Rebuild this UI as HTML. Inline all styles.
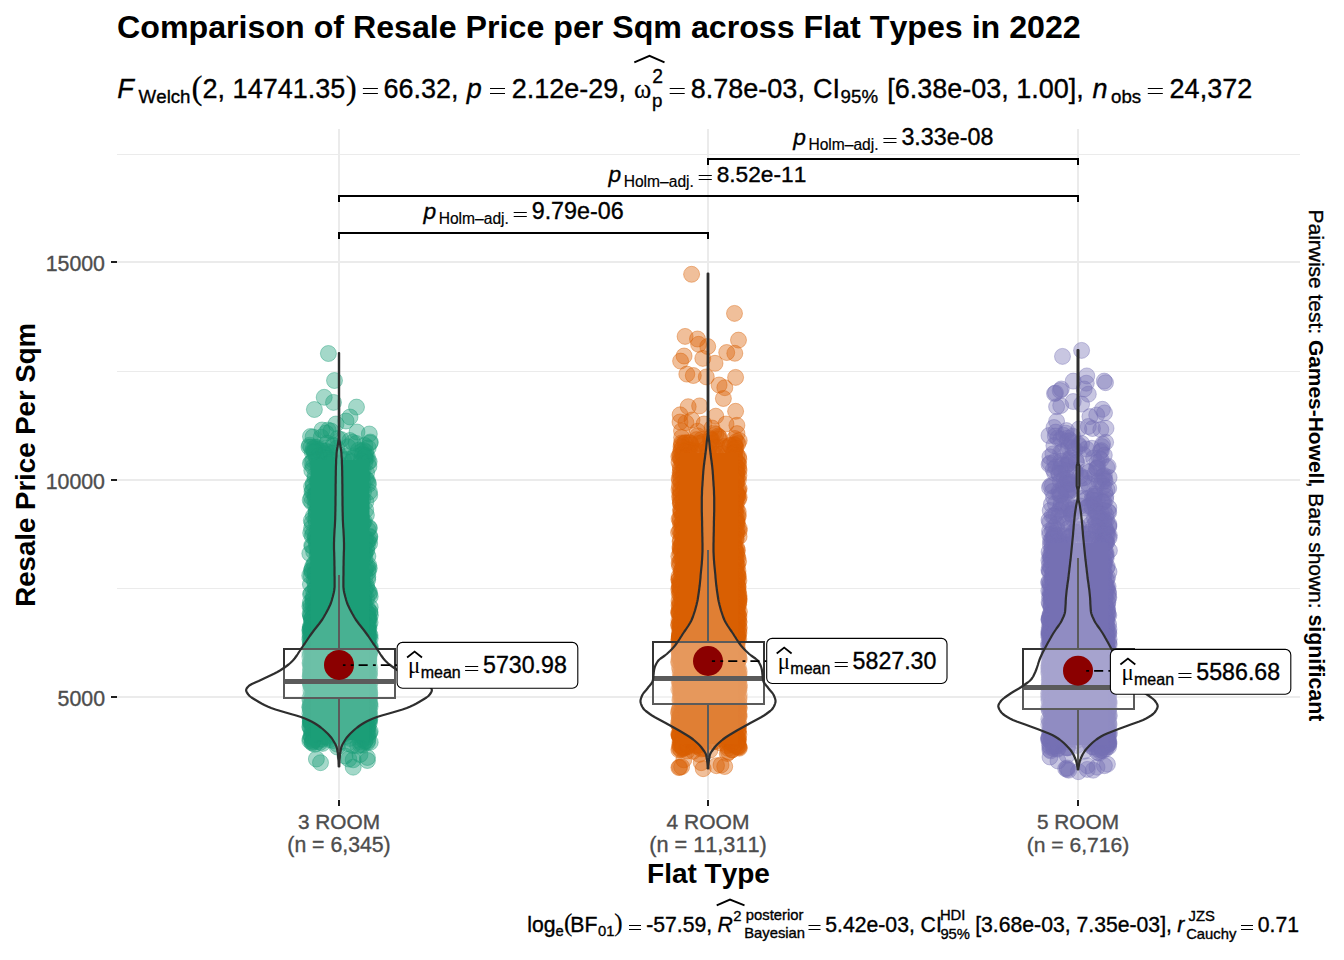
<!DOCTYPE html>
<html><head><meta charset="utf-8"><title>Comparison of Resale Price per Sqm across Flat Types in 2022</title>
<style>html,body{margin:0;padding:0;background:#fff}svg{display:block}text{font-family:"Liberation Sans", sans-serif;stroke:#000;stroke-width:.35px;font-kerning:none} .se{font-family:"Liberation Serif", serif;stroke-width:.2px} .b{stroke:none} .gy text{stroke:#4D4D4D}</style></head><body>
<svg width="1344" height="960" viewBox="0 0 1344 960">
<rect width="1344" height="960" fill="#fff"/>
<g fill="#EBEBEB" shape-rendering="crispEdges">
<rect x="117" y="154" width="1183" height="1"/>
<rect x="117" y="371" width="1183" height="1"/>
<rect x="117" y="588" width="1183" height="1"/>
<rect x="117" y="261" width="1183" height="2"/>
<rect x="117" y="479" width="1183" height="2"/>
<rect x="117" y="696" width="1183" height="2"/>
<rect x="338" y="129" width="2" height="670"/>
<rect x="707" y="129" width="2" height="670"/>
<rect x="1077" y="129" width="2" height="670"/>
</g>
<g fill="#1f1f1f" shape-rendering="crispEdges">
<rect x="111" y="261" width="6" height="2"/>
<rect x="111" y="479" width="6" height="2"/>
<rect x="111" y="696" width="6" height="2"/>
<rect x="338" y="800" width="2" height="6"/>
<rect x="707" y="800" width="2" height="6"/>
<rect x="1077" y="800" width="2" height="6"/>
</g>
<g fill="#1B9E77" fill-opacity=".4" stroke="#1B9E77" stroke-opacity=".4" stroke-width="1">
<circle cx="328" cy="430.1" r="8"/><circle cx="369.3" cy="434" r="8"/><circle cx="310.5" cy="436.5" r="8"/><circle cx="321.2" cy="437.2" r="8"/><circle cx="337.8" cy="438.4" r="8"/><circle cx="341.2" cy="439.6" r="8"/><circle cx="349.9" cy="440.5" r="8"/><circle cx="370.3" cy="442" r="8"/><circle cx="352.6" cy="442.3" r="8"/><circle cx="327.2" cy="443.1" r="8"/><circle cx="356.2" cy="443.4" r="8"/><circle cx="333.1" cy="445" r="8"/><circle cx="309.6" cy="445.2" r="8"/><circle cx="364.9" cy="445.5" r="8"/><circle cx="333.8" cy="446.1" r="8"/><circle cx="347.9" cy="446.8" r="8"/><circle cx="314.9" cy="447.3" r="8"/><circle cx="368.2" cy="447.8" r="8"/><circle cx="316.8" cy="447.2" r="8"/><circle cx="313.2" cy="448.8" r="8"/><circle cx="320.4" cy="448.6" r="8"/><circle cx="336.8" cy="448.2" r="8"/><circle cx="317.6" cy="449.6" r="8"/><circle cx="316.7" cy="449.4" r="8"/><circle cx="326" cy="451" r="8"/><circle cx="358.4" cy="450.3" r="8"/><circle cx="363.4" cy="450.2" r="8"/><circle cx="361.5" cy="451.6" r="8"/><circle cx="315.7" cy="452" r="8"/><circle cx="322.6" cy="451.3" r="8"/><circle cx="329.6" cy="452.3" r="8"/><circle cx="314.1" cy="452.1" r="8"/><circle cx="324.4" cy="453.6" r="8"/><circle cx="332.2" cy="453.5" r="8"/><circle cx="339" cy="454.6" r="8"/><circle cx="362.3" cy="454.2" r="8"/><circle cx="364.8" cy="455.8" r="8"/><circle cx="324.8" cy="455.2" r="8"/><circle cx="354.6" cy="455.9" r="8"/><circle cx="367.4" cy="456.9" r="8"/><circle cx="346.3" cy="456.4" r="8"/><circle cx="315.9" cy="456" r="8"/><circle cx="324.1" cy="457.7" r="8"/><circle cx="325.2" cy="457.8" r="8"/><circle cx="327.4" cy="458.2" r="8"/><circle cx="353.4" cy="458.1" r="8"/><circle cx="343.6" cy="459.9" r="8"/><circle cx="346.9" cy="459.3" r="8"/><circle cx="365.4" cy="459.2" r="8"/><circle cx="326" cy="460.4" r="8"/><circle cx="313.3" cy="460.2" r="8"/><circle cx="332" cy="460.6" r="8"/><circle cx="331.6" cy="461.9" r="8"/><circle cx="369.2" cy="461.7" r="8"/><circle cx="351.6" cy="461.6" r="8"/><circle cx="311.7" cy="462" r="8"/><circle cx="364.9" cy="462.7" r="8"/><circle cx="368.1" cy="462" r="8"/><circle cx="338.9" cy="463.7" r="8"/><circle cx="329" cy="464" r="8"/><circle cx="342.8" cy="730.7" r="8"/><circle cx="364.3" cy="730.7" r="8"/><circle cx="352.4" cy="730.8" r="8"/><circle cx="331" cy="731.7" r="8"/><circle cx="364.4" cy="731.9" r="8"/><circle cx="357.7" cy="732.9" r="8"/><circle cx="344.4" cy="732.6" r="8"/><circle cx="345" cy="733.6" r="8"/><circle cx="314.5" cy="733.6" r="8"/><circle cx="363.1" cy="734.7" r="8"/><circle cx="333.2" cy="734.7" r="8"/><circle cx="336.4" cy="735.8" r="8"/><circle cx="314.7" cy="735.8" r="8"/><circle cx="346.2" cy="736.5" r="8"/><circle cx="323.6" cy="736.7" r="8"/><circle cx="339.8" cy="736.6" r="8"/><circle cx="325.2" cy="737" r="8"/><circle cx="327.9" cy="737.7" r="8"/><circle cx="319.9" cy="738.9" r="8"/><circle cx="349.7" cy="738.4" r="8"/><circle cx="329.5" cy="739.7" r="8"/><circle cx="321.7" cy="739.4" r="8"/><circle cx="365.2" cy="740.9" r="8"/><circle cx="333" cy="740.6" r="8"/><circle cx="317.9" cy="741.5" r="8"/><circle cx="360.5" cy="741.8" r="8"/><circle cx="367.4" cy="742.3" r="8"/><circle cx="319.9" cy="742.5" r="8"/><circle cx="322.6" cy="743.4" r="8"/><circle cx="347.6" cy="743.5" r="8"/><circle cx="360.6" cy="745" r="8"/><circle cx="337.1" cy="744.1" r="8"/><circle cx="362.7" cy="745" r="8"/><circle cx="352.7" cy="745.6" r="8"/><circle cx="357.7" cy="746" r="8"/><circle cx="337.3" cy="747" r="8"/><circle cx="311" cy="447" r="8"/><circle cx="314.4" cy="451.2" r="8"/><circle cx="365.7" cy="451.7" r="8"/><circle cx="312.3" cy="452.3" r="8"/><circle cx="362.5" cy="454.9" r="8"/><circle cx="318.9" cy="455.7" r="8"/><circle cx="365.9" cy="455.6" r="8"/><circle cx="364.7" cy="456.9" r="8"/><circle cx="316.8" cy="459.8" r="8"/><circle cx="361.4" cy="461" r="8"/><circle cx="361.3" cy="462.9" r="8"/><circle cx="310.4" cy="463.4" r="8"/><circle cx="317.7" cy="465.1" r="8"/><circle cx="313" cy="466.8" r="8"/><circle cx="368.9" cy="466.5" r="8"/><circle cx="311.8" cy="470.5" r="8"/><circle cx="363.1" cy="470.6" r="8"/><circle cx="366.6" cy="472.8" r="8"/><circle cx="361.9" cy="474" r="8"/><circle cx="315" cy="475.5" r="8"/><circle cx="319.3" cy="476.5" r="8"/><circle cx="362.4" cy="476.6" r="8"/><circle cx="315" cy="478.4" r="8"/><circle cx="365.7" cy="479.1" r="8"/><circle cx="317.8" cy="480.9" r="8"/><circle cx="367.2" cy="480.2" r="8"/><circle cx="317.4" cy="482" r="8"/><circle cx="368.1" cy="482.7" r="8"/><circle cx="313.2" cy="483.6" r="8"/><circle cx="363.1" cy="483.1" r="8"/><circle cx="368.4" cy="484.5" r="8"/><circle cx="313.4" cy="485.4" r="8"/><circle cx="311.6" cy="486.6" r="8"/><circle cx="317" cy="489.8" r="8"/><circle cx="312.7" cy="490.9" r="8"/><circle cx="360.4" cy="490.9" r="8"/><circle cx="312" cy="491.7" r="8"/><circle cx="369.4" cy="491.8" r="8"/><circle cx="317.5" cy="492.1" r="8"/><circle cx="363.5" cy="492" r="8"/><circle cx="316.4" cy="493.9" r="8"/><circle cx="314.7" cy="494.8" r="8"/><circle cx="369.7" cy="495.1" r="8"/><circle cx="315.1" cy="496.5" r="8"/><circle cx="311.4" cy="497.2" r="8"/><circle cx="310.2" cy="500" r="8"/><circle cx="362.8" cy="499.3" r="8"/><circle cx="314.8" cy="500.4" r="8"/><circle cx="316.6" cy="501.8" r="8"/><circle cx="365.9" cy="501.7" r="8"/><circle cx="311.6" cy="502.2" r="8"/><circle cx="318.5" cy="503.8" r="8"/><circle cx="315.6" cy="505.5" r="8"/><circle cx="361.3" cy="506.7" r="8"/><circle cx="318.6" cy="508.9" r="8"/><circle cx="316.8" cy="510.1" r="8"/><circle cx="365.7" cy="510" r="8"/><circle cx="316" cy="511.6" r="8"/><circle cx="361" cy="511.7" r="8"/><circle cx="316.2" cy="512.6" r="8"/><circle cx="319.6" cy="513.6" r="8"/><circle cx="315.8" cy="515.7" r="8"/><circle cx="366.4" cy="515.1" r="8"/><circle cx="313.4" cy="516.1" r="8"/><circle cx="361.3" cy="516.6" r="8"/><circle cx="319.3" cy="517.6" r="8"/><circle cx="315.6" cy="519.8" r="8"/><circle cx="361.1" cy="519.2" r="8"/><circle cx="311.3" cy="520.5" r="8"/><circle cx="319.1" cy="521.4" r="8"/><circle cx="364.4" cy="521.4" r="8"/><circle cx="316.2" cy="522.6" r="8"/><circle cx="363.2" cy="522.3" r="8"/><circle cx="312.1" cy="523" r="8"/><circle cx="362.9" cy="523.4" r="8"/><circle cx="319.5" cy="525.9" r="8"/><circle cx="361.3" cy="525.4" r="8"/><circle cx="319.3" cy="526.2" r="8"/><circle cx="361" cy="526.7" r="8"/><circle cx="319.4" cy="527.8" r="8"/><circle cx="369.2" cy="527.6" r="8"/><circle cx="311.6" cy="528.1" r="8"/><circle cx="369.2" cy="528.4" r="8"/><circle cx="367.8" cy="529.6" r="8"/><circle cx="317.4" cy="530.5" r="8"/><circle cx="310.7" cy="532.9" r="8"/><circle cx="313.2" cy="533.3" r="8"/><circle cx="315.5" cy="534.6" r="8"/><circle cx="312.1" cy="536" r="8"/><circle cx="369.8" cy="536.3" r="8"/><circle cx="315.8" cy="537.1" r="8"/><circle cx="369.7" cy="537.1" r="8"/><circle cx="315.1" cy="538.6" r="8"/><circle cx="365.6" cy="538.2" r="8"/><circle cx="317" cy="539.8" r="8"/><circle cx="369.2" cy="539.8" r="8"/><circle cx="317.3" cy="540.2" r="8"/><circle cx="367.8" cy="540.8" r="8"/><circle cx="316.1" cy="542" r="8"/><circle cx="364.9" cy="541.7" r="8"/><circle cx="366.7" cy="542.1" r="8"/><circle cx="369.6" cy="543.6" r="8"/><circle cx="316.5" cy="544.3" r="8"/><circle cx="311.7" cy="545.7" r="8"/><circle cx="367.4" cy="545.7" r="8"/><circle cx="312.4" cy="546.1" r="8"/><circle cx="363.1" cy="546.4" r="8"/><circle cx="316.7" cy="547.6" r="8"/><circle cx="317.6" cy="549.3" r="8"/><circle cx="366.4" cy="549.9" r="8"/><circle cx="366.8" cy="550.4" r="8"/><circle cx="313.6" cy="551.4" r="8"/><circle cx="364.8" cy="551.8" r="8"/><circle cx="318" cy="552.6" r="8"/><circle cx="362.8" cy="552.9" r="8"/><circle cx="309.8" cy="553.5" r="8"/><circle cx="364.7" cy="554" r="8"/><circle cx="317.6" cy="554.1" r="8"/><circle cx="362.5" cy="554.1" r="8"/><circle cx="317" cy="555.9" r="8"/><circle cx="364.1" cy="555.1" r="8"/><circle cx="367.9" cy="556.2" r="8"/><circle cx="362.8" cy="557.4" r="8"/><circle cx="319.3" cy="558.7" r="8"/><circle cx="365" cy="558.7" r="8"/><circle cx="317.9" cy="560.7" r="8"/><circle cx="314.8" cy="563.7" r="8"/><circle cx="313.8" cy="564.1" r="8"/><circle cx="368.7" cy="565.2" r="8"/><circle cx="312.5" cy="567" r="8"/><circle cx="367.3" cy="566.1" r="8"/><circle cx="317.4" cy="567.2" r="8"/><circle cx="365.8" cy="567.6" r="8"/><circle cx="369.3" cy="568.2" r="8"/><circle cx="312" cy="569.7" r="8"/><circle cx="368.2" cy="569.2" r="8"/><circle cx="311.3" cy="570.8" r="8"/><circle cx="364.9" cy="570.8" r="8"/><circle cx="312.2" cy="571.9" r="8"/><circle cx="315.1" cy="573" r="8"/><circle cx="368.2" cy="572" r="8"/><circle cx="314.9" cy="574.5" r="8"/><circle cx="360.5" cy="574.7" r="8"/><circle cx="309.7" cy="575.5" r="8"/><circle cx="362.4" cy="575.7" r="8"/><circle cx="311.2" cy="576.2" r="8"/><circle cx="367.8" cy="576.9" r="8"/><circle cx="316" cy="578" r="8"/><circle cx="365.1" cy="577.2" r="8"/><circle cx="362.2" cy="578.8" r="8"/><circle cx="367.7" cy="579.7" r="8"/><circle cx="314.4" cy="580.5" r="8"/><circle cx="318.2" cy="581.3" r="8"/><circle cx="318.8" cy="582.1" r="8"/><circle cx="315" cy="583.5" r="8"/><circle cx="362.1" cy="583.3" r="8"/><circle cx="310.4" cy="584.3" r="8"/><circle cx="363.2" cy="584.4" r="8"/><circle cx="366.5" cy="585.5" r="8"/><circle cx="366.6" cy="587.7" r="8"/><circle cx="315.2" cy="588.5" r="8"/><circle cx="360.5" cy="588.8" r="8"/><circle cx="315.8" cy="589.3" r="8"/><circle cx="365" cy="589.3" r="8"/><circle cx="313.5" cy="590.7" r="8"/><circle cx="368.4" cy="590.7" r="8"/><circle cx="319.1" cy="591.6" r="8"/><circle cx="317.9" cy="592.1" r="8"/><circle cx="369.5" cy="592.7" r="8"/><circle cx="311.4" cy="593.4" r="8"/><circle cx="310.5" cy="594.2" r="8"/><circle cx="369.2" cy="594.4" r="8"/><circle cx="318.8" cy="595.4" r="8"/><circle cx="363.9" cy="595.8" r="8"/><circle cx="313.5" cy="596.3" r="8"/><circle cx="370.2" cy="596.4" r="8"/><circle cx="319.4" cy="597.8" r="8"/><circle cx="364.3" cy="597" r="8"/><circle cx="313" cy="598.7" r="8"/><circle cx="366.6" cy="598.5" r="8"/><circle cx="317.9" cy="599.6" r="8"/><circle cx="362.7" cy="599.9" r="8"/><circle cx="313.1" cy="600.5" r="8"/><circle cx="363.3" cy="601" r="8"/><circle cx="316.8" cy="601.8" r="8"/><circle cx="361" cy="601.6" r="8"/><circle cx="310.4" cy="602.2" r="8"/><circle cx="363.4" cy="602.3" r="8"/><circle cx="313.2" cy="603.5" r="8"/><circle cx="360.7" cy="603.1" r="8"/><circle cx="361.4" cy="603.5" r="8"/><circle cx="315.2" cy="604.3" r="8"/><circle cx="360.5" cy="604.8" r="8"/><circle cx="310.8" cy="605.8" r="8"/><circle cx="361.4" cy="605.2" r="8"/><circle cx="364.7" cy="605.8" r="8"/><circle cx="315.1" cy="606.1" r="8"/><circle cx="309.9" cy="606.2" r="8"/><circle cx="361" cy="606.7" r="8"/><circle cx="316.3" cy="607.7" r="8"/><circle cx="313.4" cy="607.6" r="8"/><circle cx="370.2" cy="607.2" r="8"/><circle cx="311" cy="608.4" r="8"/><circle cx="315.3" cy="608.2" r="8"/><circle cx="367.8" cy="608.6" r="8"/><circle cx="316" cy="609" r="8"/><circle cx="316.3" cy="609.1" r="8"/><circle cx="364.4" cy="609.5" r="8"/><circle cx="315.8" cy="610.7" r="8"/><circle cx="317.2" cy="610.8" r="8"/><circle cx="360.5" cy="610.8" r="8"/><circle cx="361.8" cy="610.4" r="8"/><circle cx="315.3" cy="611.9" r="8"/><circle cx="314.9" cy="611.5" r="8"/><circle cx="361.4" cy="611.3" r="8"/><circle cx="369.9" cy="611.7" r="8"/><circle cx="316.9" cy="612.6" r="8"/><circle cx="367.4" cy="612.6" r="8"/><circle cx="369.7" cy="612.1" r="8"/><circle cx="314.6" cy="613.4" r="8"/><circle cx="310.1" cy="613.7" r="8"/><circle cx="368" cy="613.3" r="8"/><circle cx="366.4" cy="613.2" r="8"/><circle cx="318.7" cy="615" r="8"/><circle cx="316.3" cy="614.9" r="8"/><circle cx="362.3" cy="614.2" r="8"/><circle cx="362.9" cy="614.6" r="8"/><circle cx="310.6" cy="615.8" r="8"/><circle cx="310.8" cy="615.5" r="8"/><circle cx="370.4" cy="615.2" r="8"/><circle cx="367.4" cy="615.3" r="8"/><circle cx="318.6" cy="616.8" r="8"/><circle cx="313.6" cy="616.4" r="8"/><circle cx="315.5" cy="616" r="8"/><circle cx="361.4" cy="616.3" r="8"/><circle cx="365.4" cy="616.9" r="8"/><circle cx="360.6" cy="616.5" r="8"/><circle cx="312.6" cy="617.9" r="8"/><circle cx="318.6" cy="617.2" r="8"/><circle cx="366.9" cy="617.5" r="8"/><circle cx="368.7" cy="617.9" r="8"/><circle cx="311.6" cy="618.6" r="8"/><circle cx="311.5" cy="618.9" r="8"/><circle cx="369.3" cy="618.7" r="8"/><circle cx="367.3" cy="618.9" r="8"/><circle cx="361.7" cy="618.7" r="8"/><circle cx="316.6" cy="619.9" r="8"/><circle cx="314.1" cy="619.1" r="8"/><circle cx="311.8" cy="619.3" r="8"/><circle cx="368.4" cy="619.2" r="8"/><circle cx="368" cy="619.7" r="8"/><circle cx="313.3" cy="620.7" r="8"/><circle cx="318.4" cy="620.6" r="8"/><circle cx="367.4" cy="620.9" r="8"/><circle cx="363.7" cy="620.3" r="8"/><circle cx="364" cy="620.1" r="8"/><circle cx="314" cy="621.5" r="8"/><circle cx="314.9" cy="621" r="8"/><circle cx="367.6" cy="621.3" r="8"/><circle cx="362.4" cy="621.1" r="8"/><circle cx="317.2" cy="622.2" r="8"/><circle cx="312.4" cy="622.5" r="8"/><circle cx="311.5" cy="622.9" r="8"/><circle cx="370.1" cy="622.5" r="8"/><circle cx="362.9" cy="622.4" r="8"/><circle cx="314.6" cy="623.2" r="8"/><circle cx="315.2" cy="623.6" r="8"/><circle cx="363.8" cy="623.8" r="8"/><circle cx="365.2" cy="623.5" r="8"/><circle cx="361.9" cy="623.7" r="8"/><circle cx="319.1" cy="624.2" r="8"/><circle cx="317.4" cy="624.2" r="8"/><circle cx="315.7" cy="624.2" r="8"/><circle cx="362.7" cy="624.8" r="8"/><circle cx="362.5" cy="624.2" r="8"/><circle cx="365.5" cy="624.2" r="8"/><circle cx="314.6" cy="625" r="8"/><circle cx="315.6" cy="625.7" r="8"/><circle cx="315.3" cy="625.9" r="8"/><circle cx="368.9" cy="625" r="8"/><circle cx="365.4" cy="625.4" r="8"/><circle cx="366" cy="625.3" r="8"/><circle cx="310.3" cy="626.9" r="8"/><circle cx="315.3" cy="626.5" r="8"/><circle cx="317.5" cy="626.2" r="8"/><circle cx="367.3" cy="626" r="8"/><circle cx="367.3" cy="626.6" r="8"/><circle cx="365.1" cy="626.3" r="8"/><circle cx="310.5" cy="627.8" r="8"/><circle cx="311.3" cy="627.3" r="8"/><circle cx="311.2" cy="627.7" r="8"/><circle cx="362.5" cy="627.1" r="8"/><circle cx="366.3" cy="627.4" r="8"/><circle cx="368.2" cy="628" r="8"/><circle cx="314.5" cy="628.8" r="8"/><circle cx="319.5" cy="628.1" r="8"/><circle cx="314.2" cy="628.7" r="8"/><circle cx="368" cy="628.9" r="8"/><circle cx="369" cy="628.4" r="8"/><circle cx="367.4" cy="628.4" r="8"/><circle cx="309.9" cy="630" r="8"/><circle cx="317.2" cy="629.7" r="8"/><circle cx="311.9" cy="629.3" r="8"/><circle cx="368" cy="629.5" r="8"/><circle cx="361.1" cy="629.4" r="8"/><circle cx="367" cy="630" r="8"/><circle cx="310" cy="630.4" r="8"/><circle cx="316.1" cy="630.1" r="8"/><circle cx="313" cy="630.7" r="8"/><circle cx="364.5" cy="630.9" r="8"/><circle cx="365.8" cy="630.4" r="8"/><circle cx="362" cy="630.4" r="8"/><circle cx="311.8" cy="631.3" r="8"/><circle cx="311.4" cy="631.5" r="8"/><circle cx="311.2" cy="631.2" r="8"/><circle cx="365.7" cy="631.3" r="8"/><circle cx="365.9" cy="632" r="8"/><circle cx="363.6" cy="631.9" r="8"/><circle cx="313.4" cy="632.1" r="8"/><circle cx="316.5" cy="632.4" r="8"/><circle cx="312.3" cy="632" r="8"/><circle cx="367.8" cy="632.4" r="8"/><circle cx="361.2" cy="632.7" r="8"/><circle cx="367.7" cy="632.4" r="8"/><circle cx="319" cy="633.4" r="8"/><circle cx="317.3" cy="633.7" r="8"/><circle cx="318.7" cy="633" r="8"/><circle cx="366.6" cy="633.1" r="8"/><circle cx="361.6" cy="633.3" r="8"/><circle cx="362.7" cy="633.5" r="8"/><circle cx="313.5" cy="634.2" r="8"/><circle cx="310" cy="634.2" r="8"/><circle cx="315.6" cy="634" r="8"/><circle cx="366.2" cy="634.5" r="8"/><circle cx="369" cy="634.7" r="8"/><circle cx="367.8" cy="634.7" r="8"/><circle cx="311.1" cy="635.2" r="8"/><circle cx="312.4" cy="635.7" r="8"/><circle cx="313.7" cy="635.4" r="8"/><circle cx="368.1" cy="635.3" r="8"/><circle cx="367" cy="635.2" r="8"/><circle cx="370" cy="635" r="8"/><circle cx="315.3" cy="636.8" r="8"/><circle cx="319.4" cy="636.3" r="8"/><circle cx="316.3" cy="636.9" r="8"/><circle cx="363.5" cy="636.7" r="8"/><circle cx="360.8" cy="636.9" r="8"/><circle cx="368.1" cy="636.6" r="8"/><circle cx="313.9" cy="637.4" r="8"/><circle cx="310.2" cy="637.4" r="8"/><circle cx="312.9" cy="637.5" r="8"/><circle cx="368.8" cy="637.4" r="8"/><circle cx="365.6" cy="637.2" r="8"/><circle cx="363.7" cy="637.2" r="8"/><circle cx="313" cy="638.4" r="8"/><circle cx="311.1" cy="638.6" r="8"/><circle cx="316.6" cy="638.6" r="8"/><circle cx="370.2" cy="638.4" r="8"/><circle cx="366.8" cy="638.1" r="8"/><circle cx="366.4" cy="638.1" r="8"/><circle cx="315.5" cy="639.5" r="8"/><circle cx="312.9" cy="639.3" r="8"/><circle cx="309.8" cy="639.3" r="8"/><circle cx="364.7" cy="639.3" r="8"/><circle cx="363.7" cy="639.2" r="8"/><circle cx="365.7" cy="639.6" r="8"/><circle cx="313.2" cy="640.6" r="8"/><circle cx="319" cy="640.8" r="8"/><circle cx="315.9" cy="640.6" r="8"/><circle cx="366.2" cy="640.3" r="8"/><circle cx="362.1" cy="640.9" r="8"/><circle cx="366.6" cy="640.9" r="8"/><circle cx="311" cy="641.5" r="8"/><circle cx="312.7" cy="641.4" r="8"/><circle cx="319.4" cy="641.1" r="8"/><circle cx="368.1" cy="641.7" r="8"/><circle cx="368.1" cy="641" r="8"/><circle cx="365" cy="641.4" r="8"/><circle cx="314.5" cy="642.7" r="8"/><circle cx="315.1" cy="642.6" r="8"/><circle cx="315.2" cy="642.8" r="8"/><circle cx="367.1" cy="642.3" r="8"/><circle cx="361.5" cy="642.3" r="8"/><circle cx="363.2" cy="642.7" r="8"/><circle cx="319.2" cy="643.8" r="8"/><circle cx="311.2" cy="643.6" r="8"/><circle cx="314.5" cy="643.6" r="8"/><circle cx="367.5" cy="643.7" r="8"/><circle cx="365.1" cy="643.2" r="8"/><circle cx="367.9" cy="643.3" r="8"/><circle cx="314.7" cy="644.1" r="8"/><circle cx="310.2" cy="644.1" r="8"/><circle cx="310.6" cy="644.7" r="8"/><circle cx="365.9" cy="644.8" r="8"/><circle cx="365.6" cy="644.2" r="8"/><circle cx="361.7" cy="644.9" r="8"/><circle cx="312.1" cy="645.5" r="8"/><circle cx="317.6" cy="645.4" r="8"/><circle cx="316.8" cy="645.3" r="8"/><circle cx="367.1" cy="645.3" r="8"/><circle cx="362.8" cy="645.8" r="8"/><circle cx="362.1" cy="645.6" r="8"/><circle cx="316.7" cy="646.6" r="8"/><circle cx="317.9" cy="646.8" r="8"/><circle cx="310.9" cy="646.4" r="8"/><circle cx="368.1" cy="646.2" r="8"/><circle cx="370.3" cy="646.6" r="8"/><circle cx="361" cy="647" r="8"/><circle cx="316.5" cy="647.4" r="8"/><circle cx="315.9" cy="647.4" r="8"/><circle cx="318.9" cy="648" r="8"/><circle cx="363.3" cy="647.1" r="8"/><circle cx="370" cy="647.3" r="8"/><circle cx="363.1" cy="648" r="8"/><circle cx="312.9" cy="648" r="8"/><circle cx="315" cy="648.5" r="8"/><circle cx="313.3" cy="648.3" r="8"/><circle cx="362" cy="648.3" r="8"/><circle cx="366.5" cy="648.6" r="8"/><circle cx="362.7" cy="649" r="8"/><circle cx="316.5" cy="649.5" r="8"/><circle cx="317.6" cy="649.1" r="8"/><circle cx="311.4" cy="649.1" r="8"/><circle cx="367.9" cy="649.5" r="8"/><circle cx="369.2" cy="649.3" r="8"/><circle cx="370.2" cy="649.6" r="8"/><circle cx="315.9" cy="650.3" r="8"/><circle cx="311.9" cy="650.5" r="8"/><circle cx="313.3" cy="650.3" r="8"/><circle cx="369.8" cy="650.9" r="8"/><circle cx="367.3" cy="650.1" r="8"/><circle cx="368.6" cy="650.5" r="8"/><circle cx="311.6" cy="651.9" r="8"/><circle cx="314.4" cy="651.4" r="8"/><circle cx="317.7" cy="651.4" r="8"/><circle cx="364.9" cy="651.7" r="8"/><circle cx="364.2" cy="651.3" r="8"/><circle cx="361" cy="651.9" r="8"/><circle cx="314" cy="652.8" r="8"/><circle cx="316.8" cy="652.2" r="8"/><circle cx="309.9" cy="652.2" r="8"/><circle cx="369.7" cy="652.4" r="8"/><circle cx="362.9" cy="652.3" r="8"/><circle cx="365.3" cy="652" r="8"/><circle cx="319.2" cy="653" r="8"/><circle cx="314.9" cy="653.8" r="8"/><circle cx="317.5" cy="653.7" r="8"/><circle cx="362.4" cy="653.8" r="8"/><circle cx="362.7" cy="654" r="8"/><circle cx="369.4" cy="654" r="8"/><circle cx="316.7" cy="654.3" r="8"/><circle cx="318.7" cy="654" r="8"/><circle cx="315.4" cy="654.2" r="8"/><circle cx="366.7" cy="654.7" r="8"/><circle cx="362.3" cy="654.4" r="8"/><circle cx="364" cy="654.4" r="8"/><circle cx="318.7" cy="655.3" r="8"/><circle cx="310.5" cy="655.3" r="8"/><circle cx="317" cy="655.2" r="8"/><circle cx="364.9" cy="655.7" r="8"/><circle cx="368.6" cy="655.1" r="8"/><circle cx="369" cy="655.4" r="8"/><circle cx="309.7" cy="656.5" r="8"/><circle cx="313.6" cy="656.3" r="8"/><circle cx="315" cy="657" r="8"/><circle cx="361.6" cy="656.3" r="8"/><circle cx="362.9" cy="656.1" r="8"/><circle cx="360.5" cy="656.4" r="8"/><circle cx="311.8" cy="657.4" r="8"/><circle cx="316.7" cy="657.2" r="8"/><circle cx="312.3" cy="657.7" r="8"/><circle cx="367.2" cy="657.2" r="8"/><circle cx="366.8" cy="658" r="8"/><circle cx="368.9" cy="657.6" r="8"/><circle cx="316" cy="658.2" r="8"/><circle cx="315.8" cy="658.9" r="8"/><circle cx="318.2" cy="658.6" r="8"/><circle cx="364.7" cy="658.1" r="8"/><circle cx="362" cy="658.7" r="8"/><circle cx="365.9" cy="658.7" r="8"/><circle cx="313.4" cy="659.2" r="8"/><circle cx="315.6" cy="659.6" r="8"/><circle cx="314.8" cy="659" r="8"/><circle cx="365.9" cy="659.6" r="8"/><circle cx="364.5" cy="659.9" r="8"/><circle cx="368.9" cy="659.5" r="8"/><circle cx="317" cy="660.3" r="8"/><circle cx="317" cy="661" r="8"/><circle cx="313.6" cy="660.9" r="8"/><circle cx="360.5" cy="660.5" r="8"/><circle cx="368.1" cy="660.8" r="8"/><circle cx="363.9" cy="660.9" r="8"/><circle cx="317.6" cy="661.5" r="8"/><circle cx="319.5" cy="661.1" r="8"/><circle cx="318.3" cy="661.7" r="8"/><circle cx="362.3" cy="661.5" r="8"/><circle cx="365" cy="661.9" r="8"/><circle cx="368.4" cy="661.3" r="8"/><circle cx="310.3" cy="662.6" r="8"/><circle cx="317.5" cy="662.5" r="8"/><circle cx="312" cy="662.8" r="8"/><circle cx="362.7" cy="662.5" r="8"/><circle cx="361.3" cy="662.8" r="8"/><circle cx="368.9" cy="662.4" r="8"/><circle cx="310" cy="663.3" r="8"/><circle cx="318.2" cy="663.8" r="8"/><circle cx="310.8" cy="663.2" r="8"/><circle cx="361.9" cy="663.6" r="8"/><circle cx="361.4" cy="663.1" r="8"/><circle cx="360.5" cy="663.2" r="8"/><circle cx="318.4" cy="664.7" r="8"/><circle cx="311.6" cy="664.7" r="8"/><circle cx="313.9" cy="664" r="8"/><circle cx="367.2" cy="664.6" r="8"/><circle cx="367.6" cy="664.6" r="8"/><circle cx="363.5" cy="664.2" r="8"/><circle cx="316.5" cy="665.5" r="8"/><circle cx="310.9" cy="665.1" r="8"/><circle cx="319" cy="665.6" r="8"/><circle cx="368.4" cy="666" r="8"/><circle cx="363.5" cy="665.7" r="8"/><circle cx="366.8" cy="665.3" r="8"/><circle cx="311.1" cy="666.6" r="8"/><circle cx="313.8" cy="666.8" r="8"/><circle cx="313.7" cy="666.5" r="8"/><circle cx="361" cy="666.3" r="8"/><circle cx="363.4" cy="666.2" r="8"/><circle cx="364.6" cy="666.3" r="8"/><circle cx="312.5" cy="667.9" r="8"/><circle cx="316.4" cy="667.5" r="8"/><circle cx="318.9" cy="667.4" r="8"/><circle cx="364.4" cy="667.4" r="8"/><circle cx="369.8" cy="667.4" r="8"/><circle cx="367.6" cy="667.4" r="8"/><circle cx="312.5" cy="668.7" r="8"/><circle cx="316.3" cy="668.2" r="8"/><circle cx="313.7" cy="668.1" r="8"/><circle cx="367.9" cy="668.4" r="8"/><circle cx="367" cy="668.8" r="8"/><circle cx="361.9" cy="668.6" r="8"/><circle cx="310.6" cy="669.9" r="8"/><circle cx="310.5" cy="669.4" r="8"/><circle cx="313.3" cy="669.7" r="8"/><circle cx="367" cy="669.9" r="8"/><circle cx="360.9" cy="669" r="8"/><circle cx="364.1" cy="669.5" r="8"/><circle cx="314.2" cy="670.3" r="8"/><circle cx="316.3" cy="670.6" r="8"/><circle cx="319.3" cy="671" r="8"/><circle cx="366.4" cy="670.8" r="8"/><circle cx="363.9" cy="670.7" r="8"/><circle cx="360.4" cy="670.1" r="8"/><circle cx="313.6" cy="671.7" r="8"/><circle cx="311.8" cy="672" r="8"/><circle cx="311.7" cy="671.4" r="8"/><circle cx="366.5" cy="671.7" r="8"/><circle cx="369.6" cy="671.2" r="8"/><circle cx="363.9" cy="671.6" r="8"/><circle cx="312.1" cy="672.8" r="8"/><circle cx="316.9" cy="672.8" r="8"/><circle cx="310.8" cy="672.5" r="8"/><circle cx="361.8" cy="672.9" r="8"/><circle cx="361.4" cy="672" r="8"/><circle cx="366.9" cy="672.5" r="8"/><circle cx="310.7" cy="673.8" r="8"/><circle cx="312.6" cy="673.5" r="8"/><circle cx="310.8" cy="673.6" r="8"/><circle cx="369.5" cy="673.5" r="8"/><circle cx="367.5" cy="673.8" r="8"/><circle cx="367.9" cy="673.4" r="8"/><circle cx="311.8" cy="674.5" r="8"/><circle cx="315.2" cy="674.5" r="8"/><circle cx="318.1" cy="674.1" r="8"/><circle cx="368.9" cy="675" r="8"/><circle cx="365.2" cy="674.4" r="8"/><circle cx="364.3" cy="674.9" r="8"/><circle cx="313.7" cy="675" r="8"/><circle cx="311.1" cy="675.8" r="8"/><circle cx="316.9" cy="675.7" r="8"/><circle cx="365.1" cy="675" r="8"/><circle cx="369.3" cy="675.3" r="8"/><circle cx="360.7" cy="675.6" r="8"/><circle cx="310.1" cy="676.4" r="8"/><circle cx="310.4" cy="676.3" r="8"/><circle cx="310.7" cy="676.9" r="8"/><circle cx="365.5" cy="676.7" r="8"/><circle cx="361.5" cy="676.9" r="8"/><circle cx="364.7" cy="676.5" r="8"/><circle cx="313.5" cy="677.3" r="8"/><circle cx="317" cy="677.3" r="8"/><circle cx="313.3" cy="677.4" r="8"/><circle cx="366.8" cy="677.4" r="8"/><circle cx="365.9" cy="677" r="8"/><circle cx="362" cy="677.1" r="8"/><circle cx="315.1" cy="678.4" r="8"/><circle cx="311.8" cy="678.1" r="8"/><circle cx="313.3" cy="678.3" r="8"/><circle cx="368.1" cy="678.7" r="8"/><circle cx="365.5" cy="678" r="8"/><circle cx="366.3" cy="679" r="8"/><circle cx="315.5" cy="680" r="8"/><circle cx="313.3" cy="679.6" r="8"/><circle cx="313.3" cy="679.3" r="8"/><circle cx="364.5" cy="679.3" r="8"/><circle cx="365.4" cy="679.5" r="8"/><circle cx="362.9" cy="679.1" r="8"/><circle cx="312.1" cy="680.3" r="8"/><circle cx="317.6" cy="680.4" r="8"/><circle cx="318.2" cy="680.4" r="8"/><circle cx="363.6" cy="680.1" r="8"/><circle cx="360.6" cy="680.8" r="8"/><circle cx="367.1" cy="680.3" r="8"/><circle cx="317.5" cy="681.6" r="8"/><circle cx="310.2" cy="681.8" r="8"/><circle cx="310.1" cy="681.6" r="8"/><circle cx="361.1" cy="681.6" r="8"/><circle cx="370.2" cy="681.9" r="8"/><circle cx="362.9" cy="681.6" r="8"/><circle cx="317" cy="682.4" r="8"/><circle cx="316.4" cy="683" r="8"/><circle cx="318.8" cy="682.1" r="8"/><circle cx="366" cy="682.8" r="8"/><circle cx="366.6" cy="682.4" r="8"/><circle cx="366" cy="682.1" r="8"/><circle cx="316.9" cy="683.1" r="8"/><circle cx="310.8" cy="683.8" r="8"/><circle cx="316.3" cy="683.5" r="8"/><circle cx="369.2" cy="683.3" r="8"/><circle cx="360.9" cy="683.6" r="8"/><circle cx="361.2" cy="683.2" r="8"/><circle cx="315" cy="684.8" r="8"/><circle cx="310.8" cy="684.9" r="8"/><circle cx="314.3" cy="684" r="8"/><circle cx="366.6" cy="684.7" r="8"/><circle cx="361.1" cy="684.5" r="8"/><circle cx="363.5" cy="684.4" r="8"/><circle cx="310.7" cy="685.7" r="8"/><circle cx="311.3" cy="685.6" r="8"/><circle cx="311.6" cy="685.3" r="8"/><circle cx="366.9" cy="685.6" r="8"/><circle cx="365.2" cy="685.4" r="8"/><circle cx="364.7" cy="685.8" r="8"/><circle cx="315.4" cy="686.5" r="8"/><circle cx="319.4" cy="686.3" r="8"/><circle cx="316.6" cy="686.2" r="8"/><circle cx="363.1" cy="686.6" r="8"/><circle cx="367.8" cy="686.1" r="8"/><circle cx="362.2" cy="686.4" r="8"/><circle cx="313.9" cy="687.6" r="8"/><circle cx="315.2" cy="688" r="8"/><circle cx="318.7" cy="687.5" r="8"/><circle cx="368.1" cy="687.8" r="8"/><circle cx="369.4" cy="687.3" r="8"/><circle cx="361.9" cy="687" r="8"/><circle cx="315.3" cy="688.6" r="8"/><circle cx="312.9" cy="688.2" r="8"/><circle cx="319.1" cy="688.8" r="8"/><circle cx="369.4" cy="688.8" r="8"/><circle cx="368.2" cy="688.2" r="8"/><circle cx="365.1" cy="688.6" r="8"/><circle cx="317.2" cy="689.6" r="8"/><circle cx="318.6" cy="689.9" r="8"/><circle cx="316.5" cy="689.4" r="8"/><circle cx="363.2" cy="689.3" r="8"/><circle cx="361.8" cy="689.7" r="8"/><circle cx="367.8" cy="689.2" r="8"/><circle cx="315" cy="690.3" r="8"/><circle cx="312.5" cy="690.3" r="8"/><circle cx="310.9" cy="690.5" r="8"/><circle cx="367.5" cy="690.3" r="8"/><circle cx="365.3" cy="690.9" r="8"/><circle cx="368.8" cy="690.9" r="8"/><circle cx="315.7" cy="691.5" r="8"/><circle cx="316.9" cy="691.5" r="8"/><circle cx="316.2" cy="691.9" r="8"/><circle cx="367.8" cy="691.1" r="8"/><circle cx="361" cy="691.4" r="8"/><circle cx="362.5" cy="691.2" r="8"/><circle cx="313.3" cy="692.7" r="8"/><circle cx="319" cy="692.5" r="8"/><circle cx="315.3" cy="692.3" r="8"/><circle cx="360.9" cy="692.1" r="8"/><circle cx="361" cy="692.7" r="8"/><circle cx="369.7" cy="692.9" r="8"/><circle cx="315.3" cy="693.1" r="8"/><circle cx="319.5" cy="693.3" r="8"/><circle cx="318.3" cy="693.1" r="8"/><circle cx="369.7" cy="693" r="8"/><circle cx="364.7" cy="694" r="8"/><circle cx="363.5" cy="693.9" r="8"/><circle cx="314.8" cy="694.1" r="8"/><circle cx="314.9" cy="694.2" r="8"/><circle cx="314.9" cy="694.4" r="8"/><circle cx="368.4" cy="694.7" r="8"/><circle cx="366.2" cy="694.5" r="8"/><circle cx="369.6" cy="694.5" r="8"/><circle cx="319.3" cy="695.6" r="8"/><circle cx="310.9" cy="695.3" r="8"/><circle cx="313" cy="695.7" r="8"/><circle cx="360.6" cy="695.9" r="8"/><circle cx="361.1" cy="695.9" r="8"/><circle cx="361.1" cy="695" r="8"/><circle cx="315.5" cy="696.7" r="8"/><circle cx="315.7" cy="696.6" r="8"/><circle cx="318.9" cy="696.1" r="8"/><circle cx="360.8" cy="696" r="8"/><circle cx="369.3" cy="696.9" r="8"/><circle cx="360.8" cy="696" r="8"/><circle cx="317.9" cy="697.7" r="8"/><circle cx="314.8" cy="697.6" r="8"/><circle cx="317.2" cy="697.8" r="8"/><circle cx="369.7" cy="697.8" r="8"/><circle cx="360.6" cy="697.8" r="8"/><circle cx="366.3" cy="697.3" r="8"/><circle cx="309.7" cy="698.8" r="8"/><circle cx="312.2" cy="698.6" r="8"/><circle cx="314.9" cy="698.3" r="8"/><circle cx="365.9" cy="698.2" r="8"/><circle cx="361.6" cy="698.2" r="8"/><circle cx="368.9" cy="698.3" r="8"/><circle cx="317.4" cy="699.3" r="8"/><circle cx="312" cy="699.7" r="8"/><circle cx="312.2" cy="699.5" r="8"/><circle cx="361.6" cy="699.2" r="8"/><circle cx="368.1" cy="699.3" r="8"/><circle cx="367.1" cy="699.7" r="8"/><circle cx="317.5" cy="700.5" r="8"/><circle cx="310.4" cy="700.8" r="8"/><circle cx="312" cy="700.2" r="8"/><circle cx="360.5" cy="700.4" r="8"/><circle cx="366.8" cy="700.9" r="8"/><circle cx="360.5" cy="700.4" r="8"/><circle cx="317.5" cy="701.8" r="8"/><circle cx="313" cy="701.8" r="8"/><circle cx="313.4" cy="701.3" r="8"/><circle cx="363" cy="701.5" r="8"/><circle cx="362.2" cy="701" r="8"/><circle cx="365.4" cy="701.4" r="8"/><circle cx="318.7" cy="702.1" r="8"/><circle cx="311.7" cy="702.9" r="8"/><circle cx="319.2" cy="702.9" r="8"/><circle cx="361.1" cy="702.1" r="8"/><circle cx="363.3" cy="702.9" r="8"/><circle cx="368.5" cy="702.1" r="8"/><circle cx="318.4" cy="703.7" r="8"/><circle cx="319.1" cy="703.5" r="8"/><circle cx="313.3" cy="703.1" r="8"/><circle cx="361" cy="703.1" r="8"/><circle cx="368.6" cy="703.3" r="8"/><circle cx="369.9" cy="703.3" r="8"/><circle cx="310.8" cy="704.5" r="8"/><circle cx="315" cy="704.6" r="8"/><circle cx="317.2" cy="704.5" r="8"/><circle cx="369.6" cy="704.2" r="8"/><circle cx="369.6" cy="704.3" r="8"/><circle cx="362.8" cy="704.9" r="8"/><circle cx="311.2" cy="705.3" r="8"/><circle cx="315.3" cy="705.3" r="8"/><circle cx="317.5" cy="706" r="8"/><circle cx="364.4" cy="705.8" r="8"/><circle cx="365.7" cy="705.2" r="8"/><circle cx="361" cy="706" r="8"/><circle cx="317.2" cy="706.4" r="8"/><circle cx="310.1" cy="706.2" r="8"/><circle cx="311.3" cy="706.7" r="8"/><circle cx="370.2" cy="706.2" r="8"/><circle cx="362.4" cy="706.5" r="8"/><circle cx="363.9" cy="706.5" r="8"/><circle cx="309.8" cy="707.3" r="8"/><circle cx="310" cy="707.3" r="8"/><circle cx="315.8" cy="707.4" r="8"/><circle cx="364.2" cy="707.3" r="8"/><circle cx="366.8" cy="707.9" r="8"/><circle cx="364.6" cy="707.4" r="8"/><circle cx="314.2" cy="708.3" r="8"/><circle cx="318.7" cy="708.2" r="8"/><circle cx="319" cy="708.9" r="8"/><circle cx="368.8" cy="708.5" r="8"/><circle cx="360.6" cy="708.3" r="8"/><circle cx="368.7" cy="708.7" r="8"/><circle cx="315.4" cy="709.2" r="8"/><circle cx="319.1" cy="709.3" r="8"/><circle cx="310.6" cy="709.7" r="8"/><circle cx="364.8" cy="709.5" r="8"/><circle cx="361.2" cy="709.5" r="8"/><circle cx="366.6" cy="709" r="8"/><circle cx="312.3" cy="710.6" r="8"/><circle cx="315.9" cy="710.5" r="8"/><circle cx="310.5" cy="710.5" r="8"/><circle cx="364" cy="711" r="8"/><circle cx="367.6" cy="710.4" r="8"/><circle cx="369.6" cy="710.8" r="8"/><circle cx="317.9" cy="711.8" r="8"/><circle cx="312.1" cy="711.9" r="8"/><circle cx="314.6" cy="711.4" r="8"/><circle cx="360.9" cy="711.5" r="8"/><circle cx="365.6" cy="711.3" r="8"/><circle cx="362" cy="711.5" r="8"/><circle cx="311.6" cy="712.2" r="8"/><circle cx="317.9" cy="712.8" r="8"/><circle cx="319.4" cy="712.9" r="8"/><circle cx="362.4" cy="712.7" r="8"/><circle cx="362.3" cy="712.8" r="8"/><circle cx="368.6" cy="712.8" r="8"/><circle cx="312" cy="713.9" r="8"/><circle cx="309.8" cy="713.5" r="8"/><circle cx="313" cy="713.8" r="8"/><circle cx="361.3" cy="713.9" r="8"/><circle cx="364" cy="713.1" r="8"/><circle cx="363.7" cy="713.1" r="8"/><circle cx="318.3" cy="714.3" r="8"/><circle cx="311.5" cy="714.7" r="8"/><circle cx="317.2" cy="715" r="8"/><circle cx="369.1" cy="714.7" r="8"/><circle cx="369.8" cy="714.9" r="8"/><circle cx="362.7" cy="714.8" r="8"/><circle cx="315.3" cy="715.9" r="8"/><circle cx="316" cy="715.5" r="8"/><circle cx="313.4" cy="715.4" r="8"/><circle cx="368.8" cy="715.8" r="8"/><circle cx="368.1" cy="715.7" r="8"/><circle cx="362.6" cy="715.7" r="8"/><circle cx="312.8" cy="716.3" r="8"/><circle cx="311.5" cy="716.6" r="8"/><circle cx="316.5" cy="716.9" r="8"/><circle cx="361.1" cy="716.9" r="8"/><circle cx="367.5" cy="717" r="8"/><circle cx="364.2" cy="717" r="8"/><circle cx="312.9" cy="717.3" r="8"/><circle cx="314.8" cy="717.5" r="8"/><circle cx="310" cy="717.9" r="8"/><circle cx="365.7" cy="717.7" r="8"/><circle cx="367.9" cy="717.2" r="8"/><circle cx="364.6" cy="717.2" r="8"/><circle cx="310.3" cy="718.1" r="8"/><circle cx="313.2" cy="718.5" r="8"/><circle cx="319.1" cy="718.6" r="8"/><circle cx="366.3" cy="718.2" r="8"/><circle cx="365.7" cy="719" r="8"/><circle cx="369.2" cy="718.4" r="8"/><circle cx="317.2" cy="719.6" r="8"/><circle cx="316" cy="719.9" r="8"/><circle cx="318.6" cy="719.3" r="8"/><circle cx="360.4" cy="719.5" r="8"/><circle cx="368.5" cy="719.8" r="8"/><circle cx="369.8" cy="719.2" r="8"/><circle cx="312.3" cy="720.7" r="8"/><circle cx="316.9" cy="720.3" r="8"/><circle cx="317.3" cy="720.6" r="8"/><circle cx="365.8" cy="720.4" r="8"/><circle cx="369.3" cy="720.5" r="8"/><circle cx="360.9" cy="720.9" r="8"/><circle cx="310.3" cy="721.3" r="8"/><circle cx="316.5" cy="721.4" r="8"/><circle cx="310.9" cy="721.4" r="8"/><circle cx="363" cy="721.4" r="8"/><circle cx="363.9" cy="721.7" r="8"/><circle cx="364.2" cy="721" r="8"/><circle cx="310.9" cy="722.1" r="8"/><circle cx="314.3" cy="722" r="8"/><circle cx="310.3" cy="722.4" r="8"/><circle cx="369.3" cy="723" r="8"/><circle cx="361.9" cy="722.5" r="8"/><circle cx="364.5" cy="722.3" r="8"/><circle cx="310.8" cy="723.3" r="8"/><circle cx="311.8" cy="723.9" r="8"/><circle cx="314.7" cy="723.4" r="8"/><circle cx="361.5" cy="723.3" r="8"/><circle cx="362.5" cy="723.7" r="8"/><circle cx="365.9" cy="723.4" r="8"/><circle cx="314.1" cy="724.3" r="8"/><circle cx="315.8" cy="724.4" r="8"/><circle cx="312.6" cy="724.8" r="8"/><circle cx="365.7" cy="724.9" r="8"/><circle cx="365.9" cy="724.4" r="8"/><circle cx="361.4" cy="725" r="8"/><circle cx="313.6" cy="725.7" r="8"/><circle cx="317" cy="725.3" r="8"/><circle cx="316.8" cy="725.9" r="8"/><circle cx="363.7" cy="725.4" r="8"/><circle cx="363.9" cy="725.2" r="8"/><circle cx="362.7" cy="725.5" r="8"/><circle cx="313" cy="726.7" r="8"/><circle cx="309.8" cy="726.4" r="8"/><circle cx="367.8" cy="726.6" r="8"/><circle cx="368.2" cy="726.4" r="8"/><circle cx="360.5" cy="726.2" r="8"/><circle cx="310.2" cy="727.6" r="8"/><circle cx="317.8" cy="727.8" r="8"/><circle cx="364.5" cy="727.7" r="8"/><circle cx="362.8" cy="727.7" r="8"/><circle cx="364.6" cy="727.3" r="8"/><circle cx="315.2" cy="728.5" r="8"/><circle cx="319.5" cy="728.1" r="8"/><circle cx="367.2" cy="728.7" r="8"/><circle cx="360.9" cy="728.3" r="8"/><circle cx="314.9" cy="729.5" r="8"/><circle cx="311.3" cy="729.6" r="8"/><circle cx="363.8" cy="729.3" r="8"/><circle cx="362.3" cy="729.4" r="8"/><circle cx="315.7" cy="730.5" r="8"/><circle cx="314.9" cy="731" r="8"/><circle cx="315.3" cy="731" r="8"/><circle cx="362.8" cy="730.1" r="8"/><circle cx="367.4" cy="730.7" r="8"/><circle cx="317.9" cy="731.4" r="8"/><circle cx="312.3" cy="731.4" r="8"/><circle cx="370.2" cy="731.4" r="8"/><circle cx="363.8" cy="731.1" r="8"/><circle cx="318.3" cy="732.9" r="8"/><circle cx="312.1" cy="732.2" r="8"/><circle cx="369.5" cy="732.8" r="8"/><circle cx="363" cy="732.3" r="8"/><circle cx="316.6" cy="733" r="8"/><circle cx="317.8" cy="733.9" r="8"/><circle cx="363.4" cy="733.7" r="8"/><circle cx="367" cy="733.9" r="8"/><circle cx="314.3" cy="734.3" r="8"/><circle cx="314" cy="734.8" r="8"/><circle cx="364.3" cy="735" r="8"/><circle cx="368.2" cy="734.2" r="8"/><circle cx="311.1" cy="736" r="8"/><circle cx="366" cy="735.4" r="8"/><circle cx="362.1" cy="735.9" r="8"/><circle cx="311.3" cy="736.4" r="8"/><circle cx="368.2" cy="736.9" r="8"/><circle cx="311.9" cy="737.4" r="8"/><circle cx="363.2" cy="737" r="8"/><circle cx="310.2" cy="738.8" r="8"/><circle cx="364.6" cy="738.1" r="8"/><circle cx="313.1" cy="740" r="8"/><circle cx="361.8" cy="739.1" r="8"/><circle cx="309.8" cy="740.7" r="8"/><circle cx="367.7" cy="740.7" r="8"/><circle cx="312.8" cy="741.5" r="8"/><circle cx="364.8" cy="741.4" r="8"/><circle cx="312.1" cy="742.3" r="8"/><circle cx="370.2" cy="742.3" r="8"/><circle cx="312.3" cy="743.1" r="8"/><circle cx="314.7" cy="744.3" r="8"/><circle cx="316.4" cy="759" r="8"/><circle cx="320.5" cy="762.7" r="8"/><circle cx="348.8" cy="759" r="8"/><circle cx="353.2" cy="759.8" r="8"/><circle cx="353.2" cy="767.2" r="8"/><circle cx="367.4" cy="757.5" r="8"/><circle cx="367.4" cy="760.5" r="8"/><circle cx="360" cy="754.5" r="8"/><circle cx="345" cy="756" r="8"/><circle cx="328.4" cy="353.5" r="8"/><circle cx="334.5" cy="380.5" r="8"/><circle cx="324.2" cy="397.3" r="8"/><circle cx="333.5" cy="402.4" r="8"/><circle cx="314.4" cy="409.5" r="8"/><circle cx="356.5" cy="407.1" r="8"/><circle cx="350" cy="417" r="8"/><circle cx="346" cy="421" r="8"/><circle cx="336" cy="424" r="8"/><circle cx="357" cy="432" r="8"/><circle cx="326" cy="433" r="8"/><circle cx="313" cy="437" r="8"/><circle cx="370" cy="443" r="8"/><circle cx="309" cy="447" r="8"/><circle cx="322" cy="430" r="8"/><circle cx="331" cy="431" r="8"/>
</g>
<rect x="310.6" y="460" width="58.8" height="280" fill="#1B9E77"/>
<g fill="#D95F02" fill-opacity=".4" stroke="#D95F02" stroke-opacity=".4" stroke-width="1">
<circle cx="680" cy="422" r="8"/><circle cx="685.9" cy="422.7" r="8"/><circle cx="736.9" cy="425.3" r="8"/><circle cx="681.5" cy="430.9" r="8"/><circle cx="697.5" cy="431.2" r="8"/><circle cx="714" cy="432.9" r="8"/><circle cx="737" cy="433.6" r="8"/><circle cx="715.8" cy="434.3" r="8"/><circle cx="697.6" cy="435.8" r="8"/><circle cx="718.2" cy="436.1" r="8"/><circle cx="719.2" cy="437.2" r="8"/><circle cx="681.6" cy="437.5" r="8"/><circle cx="734.8" cy="438.5" r="8"/><circle cx="710.1" cy="438.4" r="8"/><circle cx="718.8" cy="438.9" r="8"/><circle cx="701.3" cy="439.6" r="8"/><circle cx="696.7" cy="439.6" r="8"/><circle cx="711.6" cy="439.4" r="8"/><circle cx="710.7" cy="440.1" r="8"/><circle cx="739.2" cy="440.4" r="8"/><circle cx="703.1" cy="441.9" r="8"/><circle cx="736.5" cy="441.5" r="8"/><circle cx="684.5" cy="442.9" r="8"/><circle cx="689" cy="442.5" r="8"/><circle cx="698.6" cy="443.4" r="8"/><circle cx="690.2" cy="443" r="8"/><circle cx="711.2" cy="443.8" r="8"/><circle cx="690.9" cy="444.7" r="8"/><circle cx="681.8" cy="444.4" r="8"/><circle cx="734.6" cy="445.5" r="8"/><circle cx="730.1" cy="445.5" r="8"/><circle cx="714.1" cy="447" r="8"/><circle cx="723.8" cy="446.5" r="8"/><circle cx="717.7" cy="447.4" r="8"/><circle cx="726.3" cy="447.8" r="8"/><circle cx="735.9" cy="448" r="8"/><circle cx="709" cy="448.6" r="8"/><circle cx="689" cy="449.7" r="8"/><circle cx="705" cy="449.3" r="8"/><circle cx="681.1" cy="450" r="8"/><circle cx="685.8" cy="450.2" r="8"/><circle cx="694.1" cy="450.9" r="8"/><circle cx="689.6" cy="450.3" r="8"/><circle cx="707.2" cy="451.2" r="8"/><circle cx="699.5" cy="451.7" r="8"/><circle cx="734.8" cy="451.8" r="8"/><circle cx="701.6" cy="452.8" r="8"/><circle cx="680.6" cy="452.2" r="8"/><circle cx="708.4" cy="452.4" r="8"/><circle cx="722.3" cy="453.5" r="8"/><circle cx="693.7" cy="453.2" r="8"/><circle cx="682.6" cy="454.7" r="8"/><circle cx="688.2" cy="454.9" r="8"/><circle cx="717.9" cy="454.1" r="8"/><circle cx="715.3" cy="455" r="8"/><circle cx="708.2" cy="455" r="8"/><circle cx="678.8" cy="456.6" r="8"/><circle cx="738.5" cy="456.8" r="8"/><circle cx="711.1" cy="734.1" r="8"/><circle cx="699.4" cy="734.9" r="8"/><circle cx="679.2" cy="735.4" r="8"/><circle cx="717.5" cy="735.2" r="8"/><circle cx="732.9" cy="736.6" r="8"/><circle cx="700.6" cy="736.8" r="8"/><circle cx="690.1" cy="737.3" r="8"/><circle cx="688.3" cy="737.8" r="8"/><circle cx="721" cy="738.8" r="8"/><circle cx="737.8" cy="738.2" r="8"/><circle cx="731.8" cy="739.8" r="8"/><circle cx="702.1" cy="739.7" r="8"/><circle cx="688.4" cy="740.1" r="8"/><circle cx="701.7" cy="740.2" r="8"/><circle cx="710.1" cy="741" r="8"/><circle cx="712.5" cy="741.9" r="8"/><circle cx="715" cy="741.5" r="8"/><circle cx="725.3" cy="741" r="8"/><circle cx="720.3" cy="742.8" r="8"/><circle cx="728.8" cy="742.1" r="8"/><circle cx="689.4" cy="743.5" r="8"/><circle cx="735.7" cy="743.9" r="8"/><circle cx="703.6" cy="743.6" r="8"/><circle cx="698.8" cy="745" r="8"/><circle cx="735.9" cy="744.7" r="8"/><circle cx="727.3" cy="745.7" r="8"/><circle cx="698.1" cy="745.3" r="8"/><circle cx="682.1" cy="746.9" r="8"/><circle cx="696.7" cy="746" r="8"/><circle cx="684.9" cy="747.4" r="8"/><circle cx="698.8" cy="747.2" r="8"/><circle cx="703.8" cy="748.4" r="8"/><circle cx="728" cy="748.3" r="8"/><circle cx="732" cy="750" r="8"/><circle cx="701.4" cy="749" r="8"/><circle cx="709.9" cy="750.2" r="8"/><circle cx="693.1" cy="751.3" r="8"/><circle cx="687" cy="751" r="8"/><circle cx="728.5" cy="752.1" r="8"/><circle cx="727.3" cy="753.5" r="8"/><circle cx="699.3" cy="754.4" r="8"/><circle cx="685.5" cy="442.8" r="8"/><circle cx="681.5" cy="443" r="8"/><circle cx="737.9" cy="443.5" r="8"/><circle cx="734.7" cy="444.6" r="8"/><circle cx="730.2" cy="445.6" r="8"/><circle cx="681" cy="446.7" r="8"/><circle cx="682.6" cy="447.6" r="8"/><circle cx="735.3" cy="447.9" r="8"/><circle cx="687.3" cy="449.8" r="8"/><circle cx="734.1" cy="449.7" r="8"/><circle cx="684.1" cy="451.4" r="8"/><circle cx="688.4" cy="452.6" r="8"/><circle cx="735.2" cy="452.1" r="8"/><circle cx="733.4" cy="453.3" r="8"/><circle cx="732.6" cy="454.7" r="8"/><circle cx="679.9" cy="455.4" r="8"/><circle cx="736.8" cy="455" r="8"/><circle cx="686.7" cy="456.2" r="8"/><circle cx="680.2" cy="457.1" r="8"/><circle cx="734.6" cy="457.2" r="8"/><circle cx="683.6" cy="458.3" r="8"/><circle cx="734.9" cy="458.7" r="8"/><circle cx="680.9" cy="459.2" r="8"/><circle cx="738.9" cy="459.1" r="8"/><circle cx="686.9" cy="460.5" r="8"/><circle cx="682" cy="461.4" r="8"/><circle cx="737.1" cy="461.8" r="8"/><circle cx="679" cy="462.3" r="8"/><circle cx="737.9" cy="462.9" r="8"/><circle cx="683.7" cy="463.9" r="8"/><circle cx="734" cy="463.2" r="8"/><circle cx="687.8" cy="464.5" r="8"/><circle cx="738.7" cy="464.6" r="8"/><circle cx="682.5" cy="465.3" r="8"/><circle cx="731.5" cy="465.2" r="8"/><circle cx="685" cy="466" r="8"/><circle cx="736.2" cy="466.8" r="8"/><circle cx="680.3" cy="467" r="8"/><circle cx="736.8" cy="467.8" r="8"/><circle cx="731.5" cy="467.6" r="8"/><circle cx="685.2" cy="468.7" r="8"/><circle cx="738.6" cy="468.5" r="8"/><circle cx="680.5" cy="469.4" r="8"/><circle cx="730.4" cy="469.3" r="8"/><circle cx="730.4" cy="469.7" r="8"/><circle cx="687.6" cy="470.8" r="8"/><circle cx="683.9" cy="470.9" r="8"/><circle cx="739.1" cy="470.1" r="8"/><circle cx="687.2" cy="471.8" r="8"/><circle cx="735.9" cy="471.1" r="8"/><circle cx="737.1" cy="471.4" r="8"/><circle cx="680.1" cy="472.7" r="8"/><circle cx="730.5" cy="472.5" r="8"/><circle cx="735.1" cy="472.8" r="8"/><circle cx="681.2" cy="473.1" r="8"/><circle cx="737.1" cy="473.7" r="8"/><circle cx="685.7" cy="474.3" r="8"/><circle cx="736.4" cy="474.4" r="8"/><circle cx="730.3" cy="474.2" r="8"/><circle cx="680.2" cy="475.3" r="8"/><circle cx="688.2" cy="475.9" r="8"/><circle cx="738.9" cy="475.5" r="8"/><circle cx="733.6" cy="475.1" r="8"/><circle cx="686.3" cy="476" r="8"/><circle cx="732.6" cy="476.8" r="8"/><circle cx="683.2" cy="477.5" r="8"/><circle cx="734.3" cy="477.2" r="8"/><circle cx="736.2" cy="477" r="8"/><circle cx="679.2" cy="478.5" r="8"/><circle cx="681" cy="478.6" r="8"/><circle cx="737.1" cy="478.1" r="8"/><circle cx="685.4" cy="479.7" r="8"/><circle cx="733.6" cy="479" r="8"/><circle cx="686.6" cy="480.4" r="8"/><circle cx="679.6" cy="480.4" r="8"/><circle cx="738.4" cy="480.1" r="8"/><circle cx="687.3" cy="481.4" r="8"/><circle cx="731.7" cy="481.1" r="8"/><circle cx="736.4" cy="481.6" r="8"/><circle cx="687.2" cy="482.3" r="8"/><circle cx="735.8" cy="482.1" r="8"/><circle cx="736.7" cy="482.8" r="8"/><circle cx="681.3" cy="483.1" r="8"/><circle cx="729.7" cy="483.8" r="8"/><circle cx="686" cy="484.8" r="8"/><circle cx="686" cy="484.5" r="8"/><circle cx="731.6" cy="484.2" r="8"/><circle cx="679.5" cy="485.4" r="8"/><circle cx="686.8" cy="485.5" r="8"/><circle cx="731.6" cy="485.1" r="8"/><circle cx="683.4" cy="486.5" r="8"/><circle cx="685.4" cy="486.9" r="8"/><circle cx="733.9" cy="486.7" r="8"/><circle cx="688.5" cy="487.6" r="8"/><circle cx="684.5" cy="487.4" r="8"/><circle cx="731.8" cy="487.4" r="8"/><circle cx="730.4" cy="487.7" r="8"/><circle cx="685.7" cy="488.6" r="8"/><circle cx="739.2" cy="488.7" r="8"/><circle cx="731.9" cy="488.7" r="8"/><circle cx="679" cy="489.7" r="8"/><circle cx="735.5" cy="489.9" r="8"/><circle cx="735.4" cy="489.5" r="8"/><circle cx="680.4" cy="490.2" r="8"/><circle cx="680.8" cy="490.5" r="8"/><circle cx="738.5" cy="490.1" r="8"/><circle cx="732.1" cy="491" r="8"/><circle cx="683.7" cy="491.1" r="8"/><circle cx="738.1" cy="491.1" r="8"/><circle cx="687.2" cy="492.3" r="8"/><circle cx="687.2" cy="492.3" r="8"/><circle cx="732" cy="492.9" r="8"/><circle cx="686.8" cy="493.2" r="8"/><circle cx="734" cy="493.7" r="8"/><circle cx="737.1" cy="493.6" r="8"/><circle cx="680.4" cy="494.4" r="8"/><circle cx="686.6" cy="494.6" r="8"/><circle cx="737.1" cy="494.4" r="8"/><circle cx="735.4" cy="494.3" r="8"/><circle cx="680.9" cy="495.3" r="8"/><circle cx="685.3" cy="495.6" r="8"/><circle cx="730.2" cy="495.7" r="8"/><circle cx="738.1" cy="495.4" r="8"/><circle cx="686.1" cy="496.5" r="8"/><circle cx="679.5" cy="496.5" r="8"/><circle cx="731.5" cy="496.4" r="8"/><circle cx="737.3" cy="496" r="8"/><circle cx="686.1" cy="497.1" r="8"/><circle cx="683.8" cy="497.6" r="8"/><circle cx="737.1" cy="497.1" r="8"/><circle cx="739.2" cy="497.3" r="8"/><circle cx="682.8" cy="499" r="8"/><circle cx="733.6" cy="498.4" r="8"/><circle cx="687" cy="499.3" r="8"/><circle cx="680.2" cy="499.9" r="8"/><circle cx="735.6" cy="499.4" r="8"/><circle cx="738.4" cy="499.6" r="8"/><circle cx="683.6" cy="500.7" r="8"/><circle cx="736.1" cy="500.6" r="8"/><circle cx="685.8" cy="501.2" r="8"/><circle cx="733" cy="501.8" r="8"/><circle cx="732.4" cy="501.9" r="8"/><circle cx="680.7" cy="502.5" r="8"/><circle cx="729.5" cy="502.1" r="8"/><circle cx="735.1" cy="502.6" r="8"/><circle cx="680.3" cy="503.5" r="8"/><circle cx="680.8" cy="503.5" r="8"/><circle cx="736.4" cy="503.4" r="8"/><circle cx="683.9" cy="504.8" r="8"/><circle cx="687.5" cy="505" r="8"/><circle cx="734.6" cy="504.1" r="8"/><circle cx="732.4" cy="504.4" r="8"/><circle cx="683.4" cy="505.8" r="8"/><circle cx="733.3" cy="505.4" r="8"/><circle cx="731.1" cy="505.1" r="8"/><circle cx="685.5" cy="506.3" r="8"/><circle cx="682.9" cy="506.4" r="8"/><circle cx="733.2" cy="506.8" r="8"/><circle cx="687.2" cy="507.4" r="8"/><circle cx="734.2" cy="507.9" r="8"/><circle cx="730.6" cy="507.5" r="8"/><circle cx="686.2" cy="508" r="8"/><circle cx="731.5" cy="508" r="8"/><circle cx="735.6" cy="508.6" r="8"/><circle cx="683.9" cy="509.1" r="8"/><circle cx="681.2" cy="509.9" r="8"/><circle cx="734.6" cy="509.6" r="8"/><circle cx="736.6" cy="509.4" r="8"/><circle cx="687.3" cy="510.8" r="8"/><circle cx="680.4" cy="510.5" r="8"/><circle cx="730.4" cy="510.5" r="8"/><circle cx="685.1" cy="511.7" r="8"/><circle cx="687.5" cy="512" r="8"/><circle cx="738.2" cy="511.7" r="8"/><circle cx="681.4" cy="512.1" r="8"/><circle cx="687.7" cy="512.9" r="8"/><circle cx="734.4" cy="512.2" r="8"/><circle cx="730.1" cy="512.8" r="8"/><circle cx="684.3" cy="514" r="8"/><circle cx="681.2" cy="513.4" r="8"/><circle cx="735.7" cy="513.1" r="8"/><circle cx="733.1" cy="513.2" r="8"/><circle cx="683.3" cy="514.8" r="8"/><circle cx="730.8" cy="514.2" r="8"/><circle cx="686.3" cy="515.3" r="8"/><circle cx="738.4" cy="515.8" r="8"/><circle cx="729.7" cy="515.1" r="8"/><circle cx="682.6" cy="516.1" r="8"/><circle cx="685" cy="516.9" r="8"/><circle cx="737.6" cy="516.9" r="8"/><circle cx="680.2" cy="517.9" r="8"/><circle cx="730.6" cy="517.8" r="8"/><circle cx="683.9" cy="518" r="8"/><circle cx="734.4" cy="518.1" r="8"/><circle cx="687.4" cy="519.9" r="8"/><circle cx="679.1" cy="519" r="8"/><circle cx="736.5" cy="519.9" r="8"/><circle cx="685.7" cy="520" r="8"/><circle cx="686.4" cy="520.2" r="8"/><circle cx="734.5" cy="520.3" r="8"/><circle cx="737" cy="520.4" r="8"/><circle cx="680.2" cy="521.1" r="8"/><circle cx="687.1" cy="521.3" r="8"/><circle cx="730.4" cy="521.2" r="8"/><circle cx="688.5" cy="522.4" r="8"/><circle cx="732.7" cy="522.5" r="8"/><circle cx="736.8" cy="522.7" r="8"/><circle cx="682.4" cy="523" r="8"/><circle cx="681.8" cy="523.8" r="8"/><circle cx="737.5" cy="523.4" r="8"/><circle cx="736.4" cy="523" r="8"/><circle cx="680.6" cy="524.8" r="8"/><circle cx="686.4" cy="524.8" r="8"/><circle cx="729.4" cy="524.3" r="8"/><circle cx="683.1" cy="526" r="8"/><circle cx="732.2" cy="525.8" r="8"/><circle cx="729.8" cy="525.8" r="8"/><circle cx="685.1" cy="526.8" r="8"/><circle cx="688" cy="526.2" r="8"/><circle cx="732.2" cy="526.2" r="8"/><circle cx="684.2" cy="527.6" r="8"/><circle cx="681.9" cy="527.6" r="8"/><circle cx="733.7" cy="527.5" r="8"/><circle cx="731.1" cy="527.7" r="8"/><circle cx="684.2" cy="528.1" r="8"/><circle cx="683.9" cy="528.7" r="8"/><circle cx="739.3" cy="528.5" r="8"/><circle cx="683.7" cy="529.5" r="8"/><circle cx="683.5" cy="529.8" r="8"/><circle cx="734.6" cy="529.2" r="8"/><circle cx="737.4" cy="529.6" r="8"/><circle cx="686.6" cy="530.4" r="8"/><circle cx="679.7" cy="530.8" r="8"/><circle cx="736.4" cy="530.7" r="8"/><circle cx="739.2" cy="530.7" r="8"/><circle cx="688.4" cy="531.3" r="8"/><circle cx="729.6" cy="531.5" r="8"/><circle cx="682" cy="532.8" r="8"/><circle cx="678.6" cy="532.6" r="8"/><circle cx="732" cy="532.4" r="8"/><circle cx="730" cy="532.1" r="8"/><circle cx="681.7" cy="533.6" r="8"/><circle cx="680.8" cy="533.4" r="8"/><circle cx="730.2" cy="533" r="8"/><circle cx="736.6" cy="533.1" r="8"/><circle cx="686.3" cy="534" r="8"/><circle cx="730.6" cy="534.5" r="8"/><circle cx="686.5" cy="535.9" r="8"/><circle cx="732.3" cy="535.1" r="8"/><circle cx="735.8" cy="535.9" r="8"/><circle cx="683.9" cy="536.4" r="8"/><circle cx="739.1" cy="536.6" r="8"/><circle cx="730" cy="536.1" r="8"/><circle cx="684.8" cy="537.8" r="8"/><circle cx="682.9" cy="537.1" r="8"/><circle cx="732.8" cy="537.2" r="8"/><circle cx="684" cy="538.8" r="8"/><circle cx="735.8" cy="538.7" r="8"/><circle cx="732.7" cy="538.8" r="8"/><circle cx="685.8" cy="539" r="8"/><circle cx="732.7" cy="539.8" r="8"/><circle cx="736.3" cy="539.1" r="8"/><circle cx="680.5" cy="540.5" r="8"/><circle cx="730.6" cy="540" r="8"/><circle cx="733.8" cy="540.9" r="8"/><circle cx="680.1" cy="541.5" r="8"/><circle cx="733.1" cy="541.9" r="8"/><circle cx="682.4" cy="542.1" r="8"/><circle cx="734.6" cy="542.8" r="8"/><circle cx="685.8" cy="543.1" r="8"/><circle cx="686.2" cy="543.9" r="8"/><circle cx="731.6" cy="543.7" r="8"/><circle cx="681.9" cy="544.3" r="8"/><circle cx="681.5" cy="544.6" r="8"/><circle cx="732.8" cy="544.9" r="8"/><circle cx="729.5" cy="544" r="8"/><circle cx="684.4" cy="545.4" r="8"/><circle cx="730.6" cy="545.2" r="8"/><circle cx="680.2" cy="546.4" r="8"/><circle cx="731.2" cy="546.9" r="8"/><circle cx="730.7" cy="546.5" r="8"/><circle cx="685.1" cy="547.5" r="8"/><circle cx="736.7" cy="548" r="8"/><circle cx="733.4" cy="547.1" r="8"/><circle cx="679.9" cy="548.1" r="8"/><circle cx="682.4" cy="548.3" r="8"/><circle cx="734.4" cy="548.9" r="8"/><circle cx="734.8" cy="548.4" r="8"/><circle cx="681.3" cy="549.3" r="8"/><circle cx="680.5" cy="549.4" r="8"/><circle cx="735.7" cy="549.9" r="8"/><circle cx="685" cy="550.5" r="8"/><circle cx="730.5" cy="550.6" r="8"/><circle cx="737.5" cy="550.3" r="8"/><circle cx="684.3" cy="551.4" r="8"/><circle cx="681.3" cy="551.3" r="8"/><circle cx="732" cy="551.9" r="8"/><circle cx="680" cy="552.5" r="8"/><circle cx="734.5" cy="552.5" r="8"/><circle cx="684.9" cy="553.2" r="8"/><circle cx="736.7" cy="553" r="8"/><circle cx="736.3" cy="553" r="8"/><circle cx="685.2" cy="554.2" r="8"/><circle cx="685.7" cy="554.4" r="8"/><circle cx="733.8" cy="554.9" r="8"/><circle cx="682.8" cy="555.9" r="8"/><circle cx="685.4" cy="555.4" r="8"/><circle cx="732.1" cy="555.6" r="8"/><circle cx="687.5" cy="556.1" r="8"/><circle cx="678.8" cy="556.3" r="8"/><circle cx="737" cy="556.5" r="8"/><circle cx="734.4" cy="556.7" r="8"/><circle cx="685.5" cy="557.9" r="8"/><circle cx="737.9" cy="557.7" r="8"/><circle cx="729.4" cy="557.2" r="8"/><circle cx="682.5" cy="559" r="8"/><circle cx="734.6" cy="558.4" r="8"/><circle cx="735.7" cy="558.7" r="8"/><circle cx="681.4" cy="560" r="8"/><circle cx="683.2" cy="559" r="8"/><circle cx="732.8" cy="559.9" r="8"/><circle cx="688.1" cy="560.3" r="8"/><circle cx="732.4" cy="560.3" r="8"/><circle cx="735.6" cy="560" r="8"/><circle cx="679.9" cy="561.4" r="8"/><circle cx="685.6" cy="561.2" r="8"/><circle cx="738.6" cy="561.4" r="8"/><circle cx="733.5" cy="561.6" r="8"/><circle cx="684" cy="562.7" r="8"/><circle cx="686.6" cy="562.8" r="8"/><circle cx="730.1" cy="562.5" r="8"/><circle cx="729.5" cy="562.8" r="8"/><circle cx="679.1" cy="563.1" r="8"/><circle cx="686.4" cy="563" r="8"/><circle cx="732.4" cy="563.6" r="8"/><circle cx="732.6" cy="563.1" r="8"/><circle cx="686.1" cy="564" r="8"/><circle cx="736.1" cy="564.2" r="8"/><circle cx="733.3" cy="565" r="8"/><circle cx="686.6" cy="565.9" r="8"/><circle cx="679.5" cy="565.9" r="8"/><circle cx="736.2" cy="565" r="8"/><circle cx="737.6" cy="565.2" r="8"/><circle cx="683" cy="567" r="8"/><circle cx="686.2" cy="566.1" r="8"/><circle cx="736.6" cy="566.8" r="8"/><circle cx="731.4" cy="566.8" r="8"/><circle cx="685.9" cy="567.6" r="8"/><circle cx="731.2" cy="567.8" r="8"/><circle cx="683.9" cy="568.1" r="8"/><circle cx="732.4" cy="568.9" r="8"/><circle cx="731.9" cy="568.9" r="8"/><circle cx="681.9" cy="569.9" r="8"/><circle cx="735.1" cy="569.4" r="8"/><circle cx="734.4" cy="569.4" r="8"/><circle cx="681.2" cy="570.4" r="8"/><circle cx="685.1" cy="571" r="8"/><circle cx="733.8" cy="570.4" r="8"/><circle cx="732.8" cy="570.9" r="8"/><circle cx="682.5" cy="571.3" r="8"/><circle cx="686.4" cy="571.7" r="8"/><circle cx="730.4" cy="571.4" r="8"/><circle cx="738" cy="571.1" r="8"/><circle cx="681.1" cy="572.1" r="8"/><circle cx="685.7" cy="572.1" r="8"/><circle cx="732.8" cy="572.4" r="8"/><circle cx="736.5" cy="572.5" r="8"/><circle cx="684.4" cy="573.6" r="8"/><circle cx="681.8" cy="573.7" r="8"/><circle cx="729.7" cy="573.6" r="8"/><circle cx="736.5" cy="573" r="8"/><circle cx="688.5" cy="575" r="8"/><circle cx="685.7" cy="574.2" r="8"/><circle cx="737.9" cy="574.4" r="8"/><circle cx="729.9" cy="574.2" r="8"/><circle cx="684.1" cy="575.3" r="8"/><circle cx="683.1" cy="575.1" r="8"/><circle cx="730.4" cy="575.3" r="8"/><circle cx="729.7" cy="575.3" r="8"/><circle cx="685.6" cy="576.2" r="8"/><circle cx="679" cy="576.5" r="8"/><circle cx="737.8" cy="576.2" r="8"/><circle cx="738.3" cy="576.2" r="8"/><circle cx="685.1" cy="577.9" r="8"/><circle cx="684.6" cy="577.2" r="8"/><circle cx="729.9" cy="577.4" r="8"/><circle cx="732.1" cy="577" r="8"/><circle cx="687.2" cy="578.5" r="8"/><circle cx="687.6" cy="578.6" r="8"/><circle cx="734.5" cy="578.4" r="8"/><circle cx="736.7" cy="578.6" r="8"/><circle cx="678.9" cy="579.7" r="8"/><circle cx="678.9" cy="579.6" r="8"/><circle cx="730.2" cy="579.7" r="8"/><circle cx="732.9" cy="579.7" r="8"/><circle cx="685.5" cy="580.7" r="8"/><circle cx="687.1" cy="580.4" r="8"/><circle cx="737.5" cy="580" r="8"/><circle cx="738.9" cy="580.5" r="8"/><circle cx="679.8" cy="581.9" r="8"/><circle cx="683.6" cy="581.7" r="8"/><circle cx="729.5" cy="581.5" r="8"/><circle cx="737" cy="581.6" r="8"/><circle cx="685.1" cy="582.8" r="8"/><circle cx="679.8" cy="582.3" r="8"/><circle cx="681.3" cy="582.2" r="8"/><circle cx="731.3" cy="582.5" r="8"/><circle cx="732.4" cy="582.9" r="8"/><circle cx="682.4" cy="583.9" r="8"/><circle cx="680.5" cy="583.8" r="8"/><circle cx="736.2" cy="583.1" r="8"/><circle cx="733.8" cy="583.1" r="8"/><circle cx="733.3" cy="583.2" r="8"/><circle cx="683.6" cy="584.3" r="8"/><circle cx="680" cy="584.8" r="8"/><circle cx="736.1" cy="584.9" r="8"/><circle cx="730.6" cy="584.7" r="8"/><circle cx="733" cy="584.8" r="8"/><circle cx="686.9" cy="585.8" r="8"/><circle cx="682.8" cy="585.8" r="8"/><circle cx="733.8" cy="585" r="8"/><circle cx="737.8" cy="585.7" r="8"/><circle cx="679.6" cy="586.9" r="8"/><circle cx="687.6" cy="587" r="8"/><circle cx="686.5" cy="586.3" r="8"/><circle cx="734.2" cy="586.1" r="8"/><circle cx="737.8" cy="586.6" r="8"/><circle cx="684.4" cy="587.9" r="8"/><circle cx="679.3" cy="587.2" r="8"/><circle cx="738.2" cy="587.4" r="8"/><circle cx="733.9" cy="587.3" r="8"/><circle cx="680.3" cy="588.8" r="8"/><circle cx="680.9" cy="588.7" r="8"/><circle cx="734.4" cy="588.1" r="8"/><circle cx="730.5" cy="588" r="8"/><circle cx="678.8" cy="589.4" r="8"/><circle cx="683" cy="589.6" r="8"/><circle cx="729.4" cy="589.3" r="8"/><circle cx="737.2" cy="589.7" r="8"/><circle cx="732.8" cy="589.6" r="8"/><circle cx="687.4" cy="590.3" r="8"/><circle cx="687.6" cy="590.9" r="8"/><circle cx="734.3" cy="590.9" r="8"/><circle cx="735.4" cy="590.3" r="8"/><circle cx="734.5" cy="590.8" r="8"/><circle cx="685.2" cy="591.7" r="8"/><circle cx="688.2" cy="591.6" r="8"/><circle cx="681.3" cy="591.6" r="8"/><circle cx="738.1" cy="591.8" r="8"/><circle cx="733.4" cy="591.6" r="8"/><circle cx="684.8" cy="592.1" r="8"/><circle cx="680.1" cy="592" r="8"/><circle cx="737.2" cy="592.6" r="8"/><circle cx="738.4" cy="592.1" r="8"/><circle cx="734.2" cy="592.8" r="8"/><circle cx="679.2" cy="593.9" r="8"/><circle cx="684.2" cy="593.9" r="8"/><circle cx="686.1" cy="593.9" r="8"/><circle cx="731.9" cy="593.9" r="8"/><circle cx="732.7" cy="594" r="8"/><circle cx="680.3" cy="594.5" r="8"/><circle cx="688.1" cy="594.7" r="8"/><circle cx="735.2" cy="594.1" r="8"/><circle cx="735.1" cy="594" r="8"/><circle cx="683.2" cy="595.4" r="8"/><circle cx="684.9" cy="595.6" r="8"/><circle cx="686.2" cy="595.6" r="8"/><circle cx="739" cy="595.5" r="8"/><circle cx="730" cy="595.7" r="8"/><circle cx="688.3" cy="596.2" r="8"/><circle cx="683.5" cy="596.9" r="8"/><circle cx="734.2" cy="596.2" r="8"/><circle cx="738.7" cy="596.9" r="8"/><circle cx="732" cy="596.8" r="8"/><circle cx="684.2" cy="597.8" r="8"/><circle cx="686.4" cy="597.5" r="8"/><circle cx="737.4" cy="597.4" r="8"/><circle cx="731" cy="597" r="8"/><circle cx="729.9" cy="597.2" r="8"/><circle cx="681.6" cy="598" r="8"/><circle cx="684.8" cy="598.2" r="8"/><circle cx="682.7" cy="598.8" r="8"/><circle cx="736" cy="598.1" r="8"/><circle cx="739.2" cy="598.8" r="8"/><circle cx="734.5" cy="598.3" r="8"/><circle cx="683.9" cy="599.2" r="8"/><circle cx="688.2" cy="599.4" r="8"/><circle cx="681.9" cy="600" r="8"/><circle cx="734.7" cy="599.8" r="8"/><circle cx="732.9" cy="599.3" r="8"/><circle cx="738.9" cy="599.1" r="8"/><circle cx="686" cy="600.4" r="8"/><circle cx="683.9" cy="600.3" r="8"/><circle cx="679" cy="601" r="8"/><circle cx="732.5" cy="600.6" r="8"/><circle cx="738.9" cy="600.8" r="8"/><circle cx="730.7" cy="600.2" r="8"/><circle cx="688.2" cy="601.2" r="8"/><circle cx="687.7" cy="601" r="8"/><circle cx="686.1" cy="602" r="8"/><circle cx="734.9" cy="601" r="8"/><circle cx="734.1" cy="601.1" r="8"/><circle cx="734.5" cy="601.2" r="8"/><circle cx="685.3" cy="602.2" r="8"/><circle cx="680.1" cy="602.3" r="8"/><circle cx="682.4" cy="602.7" r="8"/><circle cx="733.6" cy="602.7" r="8"/><circle cx="736.7" cy="602.7" r="8"/><circle cx="738.8" cy="602.1" r="8"/><circle cx="685.1" cy="603.3" r="8"/><circle cx="688.4" cy="603.1" r="8"/><circle cx="686.7" cy="603.5" r="8"/><circle cx="735.1" cy="603.1" r="8"/><circle cx="735" cy="603.7" r="8"/><circle cx="732" cy="603.8" r="8"/><circle cx="683.7" cy="604.1" r="8"/><circle cx="682.9" cy="604.4" r="8"/><circle cx="686.5" cy="604.1" r="8"/><circle cx="733.2" cy="604.8" r="8"/><circle cx="738.7" cy="604.7" r="8"/><circle cx="737.9" cy="604.9" r="8"/><circle cx="680.6" cy="605.4" r="8"/><circle cx="687" cy="605.9" r="8"/><circle cx="679" cy="605.4" r="8"/><circle cx="729.8" cy="605.9" r="8"/><circle cx="735.2" cy="605.8" r="8"/><circle cx="736.9" cy="605.8" r="8"/><circle cx="681.7" cy="606.5" r="8"/><circle cx="686" cy="606.5" r="8"/><circle cx="679.7" cy="606" r="8"/><circle cx="736.6" cy="606.7" r="8"/><circle cx="737.5" cy="606.9" r="8"/><circle cx="732.9" cy="606.3" r="8"/><circle cx="687.1" cy="607.3" r="8"/><circle cx="685.3" cy="607.6" r="8"/><circle cx="686.9" cy="607.7" r="8"/><circle cx="730.8" cy="607.2" r="8"/><circle cx="733.3" cy="607.1" r="8"/><circle cx="731.5" cy="607.8" r="8"/><circle cx="685.6" cy="608.9" r="8"/><circle cx="683.9" cy="608.9" r="8"/><circle cx="681.4" cy="608.1" r="8"/><circle cx="735.4" cy="608.8" r="8"/><circle cx="731.7" cy="608.3" r="8"/><circle cx="731.7" cy="608.9" r="8"/><circle cx="685.5" cy="609.3" r="8"/><circle cx="682.5" cy="609.2" r="8"/><circle cx="681.8" cy="609.1" r="8"/><circle cx="731.4" cy="609.2" r="8"/><circle cx="737.3" cy="609.9" r="8"/><circle cx="735.9" cy="609.2" r="8"/><circle cx="679" cy="610.9" r="8"/><circle cx="685.9" cy="611" r="8"/><circle cx="687.4" cy="610.6" r="8"/><circle cx="736.9" cy="610.7" r="8"/><circle cx="731.3" cy="610.2" r="8"/><circle cx="730.2" cy="611" r="8"/><circle cx="680.3" cy="611.1" r="8"/><circle cx="680.5" cy="611.3" r="8"/><circle cx="686.6" cy="611.2" r="8"/><circle cx="732.6" cy="611.8" r="8"/><circle cx="739.4" cy="611.8" r="8"/><circle cx="732.6" cy="611.3" r="8"/><circle cx="679.2" cy="612.4" r="8"/><circle cx="678.6" cy="612.7" r="8"/><circle cx="683.8" cy="612.2" r="8"/><circle cx="733.5" cy="612.3" r="8"/><circle cx="731.8" cy="612.6" r="8"/><circle cx="731.7" cy="612.1" r="8"/><circle cx="688" cy="613.7" r="8"/><circle cx="682.9" cy="614" r="8"/><circle cx="679.2" cy="613.6" r="8"/><circle cx="736.3" cy="613.2" r="8"/><circle cx="735.5" cy="613.1" r="8"/><circle cx="737.6" cy="613.7" r="8"/><circle cx="683.5" cy="615" r="8"/><circle cx="686.4" cy="614.1" r="8"/><circle cx="685.9" cy="614.6" r="8"/><circle cx="731.4" cy="615" r="8"/><circle cx="735.8" cy="614.8" r="8"/><circle cx="737.4" cy="614.6" r="8"/><circle cx="686.5" cy="615.3" r="8"/><circle cx="687.5" cy="615.6" r="8"/><circle cx="687.5" cy="615.8" r="8"/><circle cx="735.9" cy="615.1" r="8"/><circle cx="730.5" cy="615.1" r="8"/><circle cx="738.6" cy="615.3" r="8"/><circle cx="680.9" cy="616.7" r="8"/><circle cx="681.8" cy="616.9" r="8"/><circle cx="682.5" cy="616.9" r="8"/><circle cx="736.8" cy="616.6" r="8"/><circle cx="732.6" cy="616.2" r="8"/><circle cx="739" cy="616.9" r="8"/><circle cx="680.5" cy="617.1" r="8"/><circle cx="687" cy="617.7" r="8"/><circle cx="683.7" cy="617.5" r="8"/><circle cx="737.3" cy="617.8" r="8"/><circle cx="736.5" cy="617.3" r="8"/><circle cx="732.5" cy="617.4" r="8"/><circle cx="685.5" cy="618.1" r="8"/><circle cx="682.5" cy="618.4" r="8"/><circle cx="686.8" cy="618.8" r="8"/><circle cx="735.4" cy="618.8" r="8"/><circle cx="732" cy="618" r="8"/><circle cx="731.3" cy="618.9" r="8"/><circle cx="685.3" cy="619.5" r="8"/><circle cx="681.2" cy="619.1" r="8"/><circle cx="684" cy="619.7" r="8"/><circle cx="733" cy="619.2" r="8"/><circle cx="731.1" cy="619.7" r="8"/><circle cx="734.4" cy="619.1" r="8"/><circle cx="682.6" cy="620.2" r="8"/><circle cx="679" cy="620.3" r="8"/><circle cx="687.9" cy="620.5" r="8"/><circle cx="735.1" cy="620.3" r="8"/><circle cx="737.8" cy="620.6" r="8"/><circle cx="732.5" cy="620.5" r="8"/><circle cx="684.5" cy="621.2" r="8"/><circle cx="687.9" cy="621.9" r="8"/><circle cx="680.2" cy="621.9" r="8"/><circle cx="739.1" cy="621.8" r="8"/><circle cx="731.3" cy="621.3" r="8"/><circle cx="737.4" cy="621.5" r="8"/><circle cx="680.1" cy="622.7" r="8"/><circle cx="682.4" cy="622.4" r="8"/><circle cx="687.7" cy="622.8" r="8"/><circle cx="738.9" cy="622" r="8"/><circle cx="732.8" cy="622.6" r="8"/><circle cx="729.5" cy="622.5" r="8"/><circle cx="686.6" cy="623.5" r="8"/><circle cx="683.6" cy="623.4" r="8"/><circle cx="683.5" cy="623.7" r="8"/><circle cx="731.9" cy="623.4" r="8"/><circle cx="733.2" cy="623.4" r="8"/><circle cx="733.8" cy="623.8" r="8"/><circle cx="678.9" cy="624.2" r="8"/><circle cx="680.9" cy="624.1" r="8"/><circle cx="684.2" cy="624.5" r="8"/><circle cx="731.7" cy="624.1" r="8"/><circle cx="730.2" cy="624.8" r="8"/><circle cx="736.8" cy="624.8" r="8"/><circle cx="678.6" cy="625.3" r="8"/><circle cx="685.7" cy="625.3" r="8"/><circle cx="680.3" cy="625.3" r="8"/><circle cx="732.2" cy="625.5" r="8"/><circle cx="735.9" cy="626" r="8"/><circle cx="736" cy="625.5" r="8"/><circle cx="688.4" cy="626.4" r="8"/><circle cx="682.4" cy="626.6" r="8"/><circle cx="683.9" cy="626.5" r="8"/><circle cx="737.5" cy="626.2" r="8"/><circle cx="733.8" cy="626.2" r="8"/><circle cx="734.8" cy="626" r="8"/><circle cx="680.2" cy="627.5" r="8"/><circle cx="687.6" cy="627.2" r="8"/><circle cx="680.7" cy="627.3" r="8"/><circle cx="738.5" cy="627.1" r="8"/><circle cx="732.6" cy="627.9" r="8"/><circle cx="739.3" cy="627.8" r="8"/><circle cx="686" cy="628.8" r="8"/><circle cx="679.6" cy="628.3" r="8"/><circle cx="687.1" cy="628.5" r="8"/><circle cx="736.8" cy="628.8" r="8"/><circle cx="730.5" cy="628.2" r="8"/><circle cx="732.1" cy="629" r="8"/><circle cx="681" cy="629.9" r="8"/><circle cx="685.6" cy="629.4" r="8"/><circle cx="680.3" cy="629.9" r="8"/><circle cx="729.4" cy="629" r="8"/><circle cx="736.1" cy="629.5" r="8"/><circle cx="733.5" cy="629.8" r="8"/><circle cx="688" cy="630.3" r="8"/><circle cx="682.2" cy="631" r="8"/><circle cx="681.8" cy="630.5" r="8"/><circle cx="731.4" cy="630.5" r="8"/><circle cx="730.8" cy="630.7" r="8"/><circle cx="735.2" cy="630.1" r="8"/><circle cx="683.5" cy="631.4" r="8"/><circle cx="683.1" cy="631.2" r="8"/><circle cx="680.8" cy="631.9" r="8"/><circle cx="735.7" cy="631.8" r="8"/><circle cx="738.6" cy="631.6" r="8"/><circle cx="736.6" cy="631.3" r="8"/><circle cx="684.3" cy="632.3" r="8"/><circle cx="681.1" cy="632.4" r="8"/><circle cx="686.8" cy="632.9" r="8"/><circle cx="732.1" cy="633" r="8"/><circle cx="739" cy="632.9" r="8"/><circle cx="735.7" cy="632" r="8"/><circle cx="687.2" cy="633.7" r="8"/><circle cx="679.4" cy="633.3" r="8"/><circle cx="687.8" cy="634" r="8"/><circle cx="730.5" cy="633.9" r="8"/><circle cx="730.6" cy="633.5" r="8"/><circle cx="736.8" cy="633.5" r="8"/><circle cx="684.1" cy="634.3" r="8"/><circle cx="680.7" cy="634.4" r="8"/><circle cx="685.3" cy="634.5" r="8"/><circle cx="729.6" cy="634.2" r="8"/><circle cx="733.6" cy="634.8" r="8"/><circle cx="732.6" cy="634.4" r="8"/><circle cx="679.5" cy="635.5" r="8"/><circle cx="679.9" cy="635.5" r="8"/><circle cx="681.6" cy="635.8" r="8"/><circle cx="737.6" cy="635.2" r="8"/><circle cx="738.1" cy="635.5" r="8"/><circle cx="730.8" cy="635.9" r="8"/><circle cx="679.4" cy="636.6" r="8"/><circle cx="681.1" cy="636.1" r="8"/><circle cx="679.7" cy="636.8" r="8"/><circle cx="730.7" cy="636.3" r="8"/><circle cx="735.7" cy="636.9" r="8"/><circle cx="737.6" cy="636.4" r="8"/><circle cx="684.9" cy="637.2" r="8"/><circle cx="679.6" cy="637.8" r="8"/><circle cx="684.8" cy="637.9" r="8"/><circle cx="736.6" cy="637.7" r="8"/><circle cx="736.2" cy="638" r="8"/><circle cx="736.4" cy="637.1" r="8"/><circle cx="679.5" cy="638.4" r="8"/><circle cx="688" cy="638.7" r="8"/><circle cx="682.9" cy="638.7" r="8"/><circle cx="738.8" cy="639" r="8"/><circle cx="730.4" cy="638.4" r="8"/><circle cx="737.4" cy="638.7" r="8"/><circle cx="679.7" cy="639.6" r="8"/><circle cx="683.7" cy="639.6" r="8"/><circle cx="678.8" cy="639.5" r="8"/><circle cx="730.8" cy="639.7" r="8"/><circle cx="732.2" cy="639.6" r="8"/><circle cx="737.1" cy="639.8" r="8"/><circle cx="688.2" cy="640.5" r="8"/><circle cx="682.7" cy="640.4" r="8"/><circle cx="683.3" cy="640.5" r="8"/><circle cx="735.3" cy="640" r="8"/><circle cx="733.8" cy="640.1" r="8"/><circle cx="737.2" cy="640" r="8"/><circle cx="678.9" cy="641.5" r="8"/><circle cx="685.2" cy="641.1" r="8"/><circle cx="682" cy="641.3" r="8"/><circle cx="736.3" cy="641.4" r="8"/><circle cx="730.8" cy="641" r="8"/><circle cx="730.2" cy="641.9" r="8"/><circle cx="686.2" cy="642.7" r="8"/><circle cx="682.8" cy="642.2" r="8"/><circle cx="679.7" cy="642.6" r="8"/><circle cx="732.3" cy="643" r="8"/><circle cx="736.5" cy="642.6" r="8"/><circle cx="736.6" cy="642.9" r="8"/><circle cx="684.7" cy="643.9" r="8"/><circle cx="681" cy="644" r="8"/><circle cx="682.8" cy="644" r="8"/><circle cx="730.3" cy="643.4" r="8"/><circle cx="731.2" cy="643.9" r="8"/><circle cx="733.6" cy="643.7" r="8"/><circle cx="687.7" cy="644.8" r="8"/><circle cx="684.9" cy="644.7" r="8"/><circle cx="684.5" cy="644.3" r="8"/><circle cx="730.1" cy="644.1" r="8"/><circle cx="735.2" cy="644.2" r="8"/><circle cx="737.1" cy="644.2" r="8"/><circle cx="679.8" cy="645.9" r="8"/><circle cx="684.7" cy="645.1" r="8"/><circle cx="680.6" cy="645.7" r="8"/><circle cx="735.3" cy="645" r="8"/><circle cx="736.9" cy="645.6" r="8"/><circle cx="735.7" cy="645.7" r="8"/><circle cx="688.4" cy="646.1" r="8"/><circle cx="685.1" cy="646.5" r="8"/><circle cx="687.3" cy="646.4" r="8"/><circle cx="735.9" cy="646.9" r="8"/><circle cx="732.6" cy="646.4" r="8"/><circle cx="735.2" cy="646.4" r="8"/><circle cx="688.2" cy="647.9" r="8"/><circle cx="688.2" cy="647.5" r="8"/><circle cx="679.1" cy="647.1" r="8"/><circle cx="734.6" cy="647.3" r="8"/><circle cx="729.8" cy="647.9" r="8"/><circle cx="735" cy="647.3" r="8"/><circle cx="683" cy="648.4" r="8"/><circle cx="679.6" cy="648.8" r="8"/><circle cx="685.7" cy="649" r="8"/><circle cx="735" cy="648.8" r="8"/><circle cx="735.2" cy="648.9" r="8"/><circle cx="732" cy="648.3" r="8"/><circle cx="683" cy="649.9" r="8"/><circle cx="680.8" cy="649.2" r="8"/><circle cx="681.8" cy="649.1" r="8"/><circle cx="730.9" cy="649.5" r="8"/><circle cx="731.5" cy="649.8" r="8"/><circle cx="733" cy="649.4" r="8"/><circle cx="681.7" cy="650.9" r="8"/><circle cx="679.3" cy="650.6" r="8"/><circle cx="688.3" cy="650.5" r="8"/><circle cx="734.6" cy="650.4" r="8"/><circle cx="737.8" cy="650.4" r="8"/><circle cx="737.4" cy="650.5" r="8"/><circle cx="684.3" cy="651.7" r="8"/><circle cx="678.8" cy="651.1" r="8"/><circle cx="682.3" cy="651.1" r="8"/><circle cx="732.2" cy="651.2" r="8"/><circle cx="734" cy="651.3" r="8"/><circle cx="735.9" cy="651.6" r="8"/><circle cx="679.5" cy="652.1" r="8"/><circle cx="684.4" cy="652.8" r="8"/><circle cx="684.8" cy="652.5" r="8"/><circle cx="734.4" cy="652.8" r="8"/><circle cx="733.9" cy="652.4" r="8"/><circle cx="736.8" cy="652.4" r="8"/><circle cx="683.9" cy="653.1" r="8"/><circle cx="682.6" cy="653.9" r="8"/><circle cx="682.8" cy="653.8" r="8"/><circle cx="729.7" cy="653.6" r="8"/><circle cx="738.4" cy="653.6" r="8"/><circle cx="729.8" cy="654" r="8"/><circle cx="682.3" cy="654.6" r="8"/><circle cx="679.5" cy="654.8" r="8"/><circle cx="686.5" cy="654.3" r="8"/><circle cx="730.3" cy="654.9" r="8"/><circle cx="731" cy="654.7" r="8"/><circle cx="734.4" cy="654.5" r="8"/><circle cx="681.6" cy="655.5" r="8"/><circle cx="679.5" cy="655.5" r="8"/><circle cx="685.5" cy="655.3" r="8"/><circle cx="730.5" cy="655.9" r="8"/><circle cx="733.6" cy="655.9" r="8"/><circle cx="738.3" cy="655.2" r="8"/><circle cx="682.3" cy="656" r="8"/><circle cx="682.1" cy="656.9" r="8"/><circle cx="683.8" cy="656.1" r="8"/><circle cx="733.3" cy="656.7" r="8"/><circle cx="737.9" cy="656.3" r="8"/><circle cx="735.5" cy="656.5" r="8"/><circle cx="683.4" cy="657.7" r="8"/><circle cx="684" cy="657.4" r="8"/><circle cx="679.6" cy="657.9" r="8"/><circle cx="732.2" cy="657.6" r="8"/><circle cx="731.3" cy="657.2" r="8"/><circle cx="738.8" cy="657.5" r="8"/><circle cx="680.1" cy="658.3" r="8"/><circle cx="688.3" cy="658.8" r="8"/><circle cx="679.1" cy="658.3" r="8"/><circle cx="732.7" cy="658.3" r="8"/><circle cx="733.7" cy="658.9" r="8"/><circle cx="739.3" cy="658.9" r="8"/><circle cx="680.7" cy="659.5" r="8"/><circle cx="683.3" cy="659.1" r="8"/><circle cx="681.1" cy="659.7" r="8"/><circle cx="738.7" cy="659.5" r="8"/><circle cx="734.2" cy="659.9" r="8"/><circle cx="732.8" cy="659.7" r="8"/><circle cx="684.7" cy="660.6" r="8"/><circle cx="684.7" cy="660.4" r="8"/><circle cx="686.2" cy="660.5" r="8"/><circle cx="733.4" cy="660.9" r="8"/><circle cx="738" cy="660.7" r="8"/><circle cx="737.3" cy="660.5" r="8"/><circle cx="678.9" cy="661.8" r="8"/><circle cx="684.5" cy="661.3" r="8"/><circle cx="684.5" cy="661.9" r="8"/><circle cx="736.5" cy="661.8" r="8"/><circle cx="729.4" cy="661.9" r="8"/><circle cx="736.2" cy="661.3" r="8"/><circle cx="679.6" cy="662.2" r="8"/><circle cx="683.5" cy="662.7" r="8"/><circle cx="678.6" cy="662.2" r="8"/><circle cx="731.6" cy="662.3" r="8"/><circle cx="729.7" cy="662.2" r="8"/><circle cx="737.4" cy="662.4" r="8"/><circle cx="688.2" cy="663.2" r="8"/><circle cx="687.2" cy="663.6" r="8"/><circle cx="687.7" cy="663.9" r="8"/><circle cx="733.1" cy="663.6" r="8"/><circle cx="734.6" cy="663.4" r="8"/><circle cx="732.7" cy="663.1" r="8"/><circle cx="688.3" cy="664.4" r="8"/><circle cx="683.1" cy="664.6" r="8"/><circle cx="681.9" cy="664.2" r="8"/><circle cx="735.6" cy="664.9" r="8"/><circle cx="734.1" cy="664.3" r="8"/><circle cx="735.7" cy="664.6" r="8"/><circle cx="687.7" cy="665.2" r="8"/><circle cx="685.5" cy="665" r="8"/><circle cx="684.5" cy="665.2" r="8"/><circle cx="735" cy="666" r="8"/><circle cx="737.1" cy="665.9" r="8"/><circle cx="731.8" cy="665.4" r="8"/><circle cx="683" cy="666.4" r="8"/><circle cx="686" cy="666.8" r="8"/><circle cx="682.7" cy="666.7" r="8"/><circle cx="730.8" cy="666.9" r="8"/><circle cx="729.7" cy="666.4" r="8"/><circle cx="732.2" cy="666.7" r="8"/><circle cx="679.5" cy="667.7" r="8"/><circle cx="688.4" cy="667.7" r="8"/><circle cx="684.5" cy="667.9" r="8"/><circle cx="729.8" cy="667.1" r="8"/><circle cx="731.2" cy="667.2" r="8"/><circle cx="731.9" cy="667.4" r="8"/><circle cx="683.9" cy="668.8" r="8"/><circle cx="680" cy="668.9" r="8"/><circle cx="681.4" cy="668.8" r="8"/><circle cx="738.6" cy="668.1" r="8"/><circle cx="734.6" cy="668" r="8"/><circle cx="737" cy="668" r="8"/><circle cx="683.5" cy="669.2" r="8"/><circle cx="685.3" cy="669.3" r="8"/><circle cx="682.5" cy="669.5" r="8"/><circle cx="734.8" cy="669.1" r="8"/><circle cx="732.7" cy="669.5" r="8"/><circle cx="737.7" cy="669.6" r="8"/><circle cx="684.7" cy="670.3" r="8"/><circle cx="685.2" cy="670.1" r="8"/><circle cx="684.8" cy="670.4" r="8"/><circle cx="734.2" cy="670.1" r="8"/><circle cx="730.8" cy="670.3" r="8"/><circle cx="737.5" cy="670.4" r="8"/><circle cx="683.9" cy="671.7" r="8"/><circle cx="685.1" cy="672" r="8"/><circle cx="684.8" cy="671.3" r="8"/><circle cx="734.8" cy="671.3" r="8"/><circle cx="739.3" cy="671.7" r="8"/><circle cx="733.4" cy="671.1" r="8"/><circle cx="680.1" cy="672.6" r="8"/><circle cx="684.5" cy="672.4" r="8"/><circle cx="682.4" cy="672.6" r="8"/><circle cx="736" cy="672.3" r="8"/><circle cx="734.4" cy="672.4" r="8"/><circle cx="736.1" cy="672.9" r="8"/><circle cx="688.5" cy="673.2" r="8"/><circle cx="686.4" cy="673.6" r="8"/><circle cx="681.8" cy="673.5" r="8"/><circle cx="734" cy="673.2" r="8"/><circle cx="736.5" cy="673.8" r="8"/><circle cx="738.4" cy="673.1" r="8"/><circle cx="684.9" cy="674.9" r="8"/><circle cx="683" cy="674.3" r="8"/><circle cx="688.3" cy="674.3" r="8"/><circle cx="738.5" cy="674.4" r="8"/><circle cx="734.7" cy="674.5" r="8"/><circle cx="739" cy="674.8" r="8"/><circle cx="685.9" cy="675.8" r="8"/><circle cx="687.8" cy="676" r="8"/><circle cx="687.1" cy="675.4" r="8"/><circle cx="735.6" cy="675.1" r="8"/><circle cx="734.3" cy="675.9" r="8"/><circle cx="730.5" cy="675.2" r="8"/><circle cx="681.3" cy="676.8" r="8"/><circle cx="680.5" cy="676.1" r="8"/><circle cx="684.2" cy="677" r="8"/><circle cx="734.4" cy="676.8" r="8"/><circle cx="733.5" cy="676.7" r="8"/><circle cx="733.8" cy="676.4" r="8"/><circle cx="683.8" cy="677.1" r="8"/><circle cx="681.2" cy="677.2" r="8"/><circle cx="685.2" cy="677.5" r="8"/><circle cx="735.5" cy="677.7" r="8"/><circle cx="731.6" cy="677.1" r="8"/><circle cx="738.9" cy="677.8" r="8"/><circle cx="688.5" cy="678.3" r="8"/><circle cx="681.4" cy="678" r="8"/><circle cx="684.4" cy="678.6" r="8"/><circle cx="732.1" cy="678" r="8"/><circle cx="734.6" cy="678.9" r="8"/><circle cx="739" cy="678.9" r="8"/><circle cx="681.7" cy="679.6" r="8"/><circle cx="680.2" cy="679.7" r="8"/><circle cx="688.4" cy="679.3" r="8"/><circle cx="739.2" cy="679.4" r="8"/><circle cx="732.8" cy="680" r="8"/><circle cx="730.3" cy="679.8" r="8"/><circle cx="685.9" cy="680.6" r="8"/><circle cx="679.9" cy="680.8" r="8"/><circle cx="682.4" cy="680.2" r="8"/><circle cx="731.3" cy="680.1" r="8"/><circle cx="734.1" cy="680" r="8"/><circle cx="731.2" cy="680.3" r="8"/><circle cx="685.5" cy="681.7" r="8"/><circle cx="679.1" cy="681.6" r="8"/><circle cx="682.3" cy="681.3" r="8"/><circle cx="732.5" cy="681.7" r="8"/><circle cx="736.8" cy="681.4" r="8"/><circle cx="734.2" cy="681.5" r="8"/><circle cx="687.1" cy="682.2" r="8"/><circle cx="679.8" cy="682.5" r="8"/><circle cx="684.4" cy="682.8" r="8"/><circle cx="729.5" cy="682.2" r="8"/><circle cx="735" cy="682.3" r="8"/><circle cx="737.7" cy="682.2" r="8"/><circle cx="680.8" cy="683.2" r="8"/><circle cx="686" cy="683.3" r="8"/><circle cx="687.7" cy="683.3" r="8"/><circle cx="737.7" cy="683.9" r="8"/><circle cx="733.7" cy="683.9" r="8"/><circle cx="735.1" cy="683.3" r="8"/><circle cx="683.2" cy="684.7" r="8"/><circle cx="688.2" cy="684.7" r="8"/><circle cx="686.6" cy="684.3" r="8"/><circle cx="739.3" cy="684.9" r="8"/><circle cx="730.3" cy="684.7" r="8"/><circle cx="736" cy="684.3" r="8"/><circle cx="682" cy="685.5" r="8"/><circle cx="680.6" cy="685.8" r="8"/><circle cx="687.8" cy="685.7" r="8"/><circle cx="730.1" cy="685.5" r="8"/><circle cx="739" cy="685.7" r="8"/><circle cx="735" cy="685.4" r="8"/><circle cx="684.3" cy="686.9" r="8"/><circle cx="681.8" cy="686.6" r="8"/><circle cx="683.1" cy="686.8" r="8"/><circle cx="729.8" cy="686.1" r="8"/><circle cx="729.8" cy="686.3" r="8"/><circle cx="731.6" cy="686.4" r="8"/><circle cx="687.5" cy="687.6" r="8"/><circle cx="680.2" cy="687.6" r="8"/><circle cx="683.8" cy="688" r="8"/><circle cx="733.4" cy="687.7" r="8"/><circle cx="739.3" cy="687.5" r="8"/><circle cx="729.9" cy="687.5" r="8"/><circle cx="681.1" cy="688.3" r="8"/><circle cx="683.3" cy="688.3" r="8"/><circle cx="683.8" cy="688.2" r="8"/><circle cx="738.7" cy="688.4" r="8"/><circle cx="737.6" cy="688.3" r="8"/><circle cx="737.4" cy="688.4" r="8"/><circle cx="678.8" cy="689.3" r="8"/><circle cx="687.1" cy="689" r="8"/><circle cx="688.1" cy="689.1" r="8"/><circle cx="730.1" cy="689.8" r="8"/><circle cx="736.9" cy="689.4" r="8"/><circle cx="736" cy="689.6" r="8"/><circle cx="686.2" cy="690.4" r="8"/><circle cx="687.2" cy="690.1" r="8"/><circle cx="680.3" cy="690.8" r="8"/><circle cx="735.6" cy="690.7" r="8"/><circle cx="738.9" cy="690.2" r="8"/><circle cx="737.8" cy="691" r="8"/><circle cx="687.7" cy="691.6" r="8"/><circle cx="688.6" cy="691.3" r="8"/><circle cx="681.6" cy="691.9" r="8"/><circle cx="731.5" cy="691.7" r="8"/><circle cx="732.7" cy="691" r="8"/><circle cx="736.3" cy="691.4" r="8"/><circle cx="681.5" cy="692.6" r="8"/><circle cx="685.3" cy="692.4" r="8"/><circle cx="682.5" cy="692.3" r="8"/><circle cx="734.3" cy="692.2" r="8"/><circle cx="731.2" cy="692.3" r="8"/><circle cx="735.4" cy="692" r="8"/><circle cx="685.3" cy="693.6" r="8"/><circle cx="686.9" cy="693.7" r="8"/><circle cx="681.9" cy="694" r="8"/><circle cx="732.1" cy="693.9" r="8"/><circle cx="731.5" cy="693.5" r="8"/><circle cx="729.6" cy="693.5" r="8"/><circle cx="680.5" cy="694.2" r="8"/><circle cx="683.5" cy="694.7" r="8"/><circle cx="682.6" cy="694.7" r="8"/><circle cx="739.3" cy="695" r="8"/><circle cx="737.6" cy="694.6" r="8"/><circle cx="735.6" cy="694.3" r="8"/><circle cx="685" cy="695.5" r="8"/><circle cx="681.9" cy="695.6" r="8"/><circle cx="687.7" cy="695.3" r="8"/><circle cx="731.9" cy="695.1" r="8"/><circle cx="732.1" cy="695.7" r="8"/><circle cx="731.4" cy="695" r="8"/><circle cx="684.1" cy="696.5" r="8"/><circle cx="683.8" cy="696.8" r="8"/><circle cx="680.8" cy="696.1" r="8"/><circle cx="735.8" cy="696" r="8"/><circle cx="733" cy="696.2" r="8"/><circle cx="732.9" cy="696.3" r="8"/><circle cx="682.1" cy="697.1" r="8"/><circle cx="683.4" cy="697.2" r="8"/><circle cx="683.6" cy="697.2" r="8"/><circle cx="733.6" cy="697.8" r="8"/><circle cx="733.4" cy="697.1" r="8"/><circle cx="734.6" cy="697.7" r="8"/><circle cx="687.1" cy="698.7" r="8"/><circle cx="687.9" cy="698.2" r="8"/><circle cx="683.1" cy="698.5" r="8"/><circle cx="739" cy="698.2" r="8"/><circle cx="736.3" cy="698.8" r="8"/><circle cx="737.1" cy="698.6" r="8"/><circle cx="687" cy="699.1" r="8"/><circle cx="680.1" cy="699.1" r="8"/><circle cx="681.4" cy="699.3" r="8"/><circle cx="735.6" cy="699.1" r="8"/><circle cx="738.9" cy="699.2" r="8"/><circle cx="731.4" cy="699.6" r="8"/><circle cx="686.9" cy="700.7" r="8"/><circle cx="679.9" cy="700.5" r="8"/><circle cx="683.1" cy="700.8" r="8"/><circle cx="732" cy="700.5" r="8"/><circle cx="734.3" cy="700.3" r="8"/><circle cx="734.8" cy="700" r="8"/><circle cx="681.8" cy="701.9" r="8"/><circle cx="688" cy="701.1" r="8"/><circle cx="684.7" cy="701.3" r="8"/><circle cx="730.1" cy="701.9" r="8"/><circle cx="736.7" cy="701.3" r="8"/><circle cx="734" cy="701.7" r="8"/><circle cx="683" cy="702.5" r="8"/><circle cx="686.5" cy="702.8" r="8"/><circle cx="685" cy="702.6" r="8"/><circle cx="732" cy="702.4" r="8"/><circle cx="735.5" cy="702.7" r="8"/><circle cx="731.2" cy="702.9" r="8"/><circle cx="684.8" cy="703.1" r="8"/><circle cx="688" cy="703.1" r="8"/><circle cx="686.6" cy="703" r="8"/><circle cx="735.5" cy="703.8" r="8"/><circle cx="738.9" cy="703.5" r="8"/><circle cx="733.3" cy="703.3" r="8"/><circle cx="687.3" cy="704.9" r="8"/><circle cx="685.9" cy="704.7" r="8"/><circle cx="683.6" cy="704.7" r="8"/><circle cx="738.7" cy="704" r="8"/><circle cx="730" cy="704.5" r="8"/><circle cx="736.5" cy="704.2" r="8"/><circle cx="683.5" cy="705" r="8"/><circle cx="680.6" cy="706" r="8"/><circle cx="687.4" cy="705.9" r="8"/><circle cx="736.4" cy="705.9" r="8"/><circle cx="731.4" cy="705.3" r="8"/><circle cx="731.2" cy="705.2" r="8"/><circle cx="685.4" cy="706.4" r="8"/><circle cx="687.1" cy="706.7" r="8"/><circle cx="686.3" cy="706.7" r="8"/><circle cx="730.8" cy="707" r="8"/><circle cx="738.3" cy="706.9" r="8"/><circle cx="729.9" cy="706.9" r="8"/><circle cx="686" cy="707.1" r="8"/><circle cx="687.9" cy="707.5" r="8"/><circle cx="686.6" cy="707.3" r="8"/><circle cx="739.3" cy="707.5" r="8"/><circle cx="730.7" cy="707.6" r="8"/><circle cx="733.9" cy="707.8" r="8"/><circle cx="682.1" cy="708.6" r="8"/><circle cx="685.8" cy="708.8" r="8"/><circle cx="679.8" cy="708.4" r="8"/><circle cx="739" cy="708.6" r="8"/><circle cx="733.4" cy="708.5" r="8"/><circle cx="737.4" cy="708.4" r="8"/><circle cx="688.5" cy="709.7" r="8"/><circle cx="679.2" cy="709.6" r="8"/><circle cx="683.9" cy="709.9" r="8"/><circle cx="730.9" cy="709.9" r="8"/><circle cx="732.2" cy="709.8" r="8"/><circle cx="730.3" cy="709.8" r="8"/><circle cx="684.6" cy="710" r="8"/><circle cx="683.5" cy="710.5" r="8"/><circle cx="686.7" cy="710.4" r="8"/><circle cx="737" cy="710.9" r="8"/><circle cx="732" cy="710.6" r="8"/><circle cx="738.3" cy="710.7" r="8"/><circle cx="685.9" cy="711.8" r="8"/><circle cx="686.8" cy="711.5" r="8"/><circle cx="678.8" cy="711.9" r="8"/><circle cx="733.2" cy="711.1" r="8"/><circle cx="732.7" cy="711.3" r="8"/><circle cx="737.1" cy="711.5" r="8"/><circle cx="686.5" cy="713" r="8"/><circle cx="682.6" cy="712.2" r="8"/><circle cx="687.5" cy="713" r="8"/><circle cx="736.5" cy="712.4" r="8"/><circle cx="734" cy="712.8" r="8"/><circle cx="734.8" cy="712.7" r="8"/><circle cx="683.3" cy="713.5" r="8"/><circle cx="687.8" cy="713.1" r="8"/><circle cx="678.6" cy="713.3" r="8"/><circle cx="733.3" cy="713.2" r="8"/><circle cx="732.9" cy="713.9" r="8"/><circle cx="730.3" cy="713.3" r="8"/><circle cx="680.4" cy="714" r="8"/><circle cx="688.3" cy="714.6" r="8"/><circle cx="686.5" cy="714.3" r="8"/><circle cx="738.3" cy="714.2" r="8"/><circle cx="731.1" cy="714.4" r="8"/><circle cx="739" cy="714.2" r="8"/><circle cx="680.9" cy="715.9" r="8"/><circle cx="684.5" cy="715.9" r="8"/><circle cx="680.8" cy="715.5" r="8"/><circle cx="729.7" cy="715.2" r="8"/><circle cx="738.2" cy="715.9" r="8"/><circle cx="731.3" cy="715.2" r="8"/><circle cx="682.7" cy="716.6" r="8"/><circle cx="684.4" cy="716.9" r="8"/><circle cx="684" cy="716.2" r="8"/><circle cx="736" cy="716.1" r="8"/><circle cx="739.2" cy="716.2" r="8"/><circle cx="737.4" cy="716.6" r="8"/><circle cx="684.1" cy="717.9" r="8"/><circle cx="679.3" cy="717.1" r="8"/><circle cx="685.3" cy="718" r="8"/><circle cx="734" cy="717.6" r="8"/><circle cx="738.8" cy="717.1" r="8"/><circle cx="731.2" cy="717.4" r="8"/><circle cx="683.6" cy="718.2" r="8"/><circle cx="681.4" cy="718" r="8"/><circle cx="679.5" cy="718.4" r="8"/><circle cx="733.1" cy="718.5" r="8"/><circle cx="729.5" cy="718.5" r="8"/><circle cx="736.6" cy="718.6" r="8"/><circle cx="682.3" cy="719.4" r="8"/><circle cx="686.4" cy="719.5" r="8"/><circle cx="686" cy="719.5" r="8"/><circle cx="732.2" cy="719.6" r="8"/><circle cx="732.4" cy="719.3" r="8"/><circle cx="736.9" cy="719.2" r="8"/><circle cx="680" cy="720.4" r="8"/><circle cx="686.9" cy="721" r="8"/><circle cx="679" cy="720.7" r="8"/><circle cx="731.4" cy="720.6" r="8"/><circle cx="733.6" cy="720.9" r="8"/><circle cx="737.1" cy="720" r="8"/><circle cx="686.6" cy="721.1" r="8"/><circle cx="684.7" cy="721.5" r="8"/><circle cx="687.1" cy="721.3" r="8"/><circle cx="736.7" cy="721.4" r="8"/><circle cx="731.9" cy="721.8" r="8"/><circle cx="729.5" cy="721.7" r="8"/><circle cx="685.3" cy="722.2" r="8"/><circle cx="683.5" cy="722.2" r="8"/><circle cx="686.8" cy="722.7" r="8"/><circle cx="732" cy="722.9" r="8"/><circle cx="738.4" cy="722.9" r="8"/><circle cx="730.7" cy="722.9" r="8"/><circle cx="681" cy="723.1" r="8"/><circle cx="678.6" cy="723.4" r="8"/><circle cx="680.6" cy="723.6" r="8"/><circle cx="733.9" cy="723.7" r="8"/><circle cx="737.1" cy="723.6" r="8"/><circle cx="735.2" cy="723.1" r="8"/><circle cx="686.8" cy="724.2" r="8"/><circle cx="682.7" cy="724.5" r="8"/><circle cx="682" cy="724" r="8"/><circle cx="730.1" cy="724.1" r="8"/><circle cx="738.9" cy="724.7" r="8"/><circle cx="734.5" cy="724.5" r="8"/><circle cx="679.7" cy="725.3" r="8"/><circle cx="679.5" cy="725.9" r="8"/><circle cx="678.7" cy="725.1" r="8"/><circle cx="729.8" cy="725.9" r="8"/><circle cx="735.6" cy="725.5" r="8"/><circle cx="737.8" cy="725.3" r="8"/><circle cx="686.6" cy="726.7" r="8"/><circle cx="682.5" cy="726.4" r="8"/><circle cx="680.8" cy="726.9" r="8"/><circle cx="737.4" cy="726.4" r="8"/><circle cx="731.2" cy="726.9" r="8"/><circle cx="733" cy="726.2" r="8"/><circle cx="687.9" cy="727.5" r="8"/><circle cx="685.7" cy="727.5" r="8"/><circle cx="683.1" cy="727.7" r="8"/><circle cx="732.2" cy="727.3" r="8"/><circle cx="734.9" cy="727.4" r="8"/><circle cx="731.2" cy="727.1" r="8"/><circle cx="686.2" cy="728.2" r="8"/><circle cx="685.8" cy="728.5" r="8"/><circle cx="684.3" cy="728.2" r="8"/><circle cx="729.7" cy="728.9" r="8"/><circle cx="738.4" cy="728.6" r="8"/><circle cx="734.8" cy="728.9" r="8"/><circle cx="685.7" cy="729.5" r="8"/><circle cx="680.9" cy="729.6" r="8"/><circle cx="682.7" cy="729.7" r="8"/><circle cx="730.9" cy="729" r="8"/><circle cx="735.2" cy="729" r="8"/><circle cx="732" cy="729.1" r="8"/><circle cx="685.3" cy="730.3" r="8"/><circle cx="686.9" cy="731" r="8"/><circle cx="686.4" cy="731" r="8"/><circle cx="733.5" cy="730.9" r="8"/><circle cx="733" cy="730.3" r="8"/><circle cx="735.6" cy="730.2" r="8"/><circle cx="680.5" cy="732" r="8"/><circle cx="682.9" cy="731.7" r="8"/><circle cx="686.1" cy="731.8" r="8"/><circle cx="738.1" cy="731.8" r="8"/><circle cx="737.2" cy="731.6" r="8"/><circle cx="738.3" cy="731.2" r="8"/><circle cx="687.8" cy="732.5" r="8"/><circle cx="683.9" cy="733" r="8"/><circle cx="683.9" cy="732" r="8"/><circle cx="730.7" cy="732.2" r="8"/><circle cx="730.6" cy="732.8" r="8"/><circle cx="733.9" cy="732.9" r="8"/><circle cx="679.4" cy="733.9" r="8"/><circle cx="685.3" cy="733.2" r="8"/><circle cx="684.1" cy="733.3" r="8"/><circle cx="733.4" cy="733" r="8"/><circle cx="733.9" cy="733.7" r="8"/><circle cx="729.9" cy="733.6" r="8"/><circle cx="678.7" cy="734.2" r="8"/><circle cx="680" cy="734.3" r="8"/><circle cx="685.9" cy="734.2" r="8"/><circle cx="738.9" cy="734.6" r="8"/><circle cx="731.3" cy="734.1" r="8"/><circle cx="735" cy="734.8" r="8"/><circle cx="683" cy="735.8" r="8"/><circle cx="679.5" cy="735.8" r="8"/><circle cx="679.9" cy="735.8" r="8"/><circle cx="734.2" cy="735.7" r="8"/><circle cx="732.1" cy="736" r="8"/><circle cx="733.5" cy="735.3" r="8"/><circle cx="679.6" cy="736.5" r="8"/><circle cx="687.9" cy="736.2" r="8"/><circle cx="682.7" cy="736.1" r="8"/><circle cx="733.8" cy="736.5" r="8"/><circle cx="729.8" cy="736.9" r="8"/><circle cx="732" cy="736.2" r="8"/><circle cx="683.1" cy="737.4" r="8"/><circle cx="680.7" cy="738" r="8"/><circle cx="686.7" cy="737.2" r="8"/><circle cx="736.1" cy="737.5" r="8"/><circle cx="736.6" cy="737.4" r="8"/><circle cx="732.6" cy="737.1" r="8"/><circle cx="683.5" cy="738.5" r="8"/><circle cx="686.7" cy="738.6" r="8"/><circle cx="686.6" cy="738.6" r="8"/><circle cx="733.5" cy="738.5" r="8"/><circle cx="730.2" cy="738.3" r="8"/><circle cx="735.4" cy="738.6" r="8"/><circle cx="683.1" cy="739.6" r="8"/><circle cx="687.3" cy="739.4" r="8"/><circle cx="685.9" cy="740" r="8"/><circle cx="738.2" cy="739.3" r="8"/><circle cx="738.5" cy="739.4" r="8"/><circle cx="732.7" cy="739.3" r="8"/><circle cx="685.9" cy="740.2" r="8"/><circle cx="682.2" cy="740.5" r="8"/><circle cx="683.4" cy="740.4" r="8"/><circle cx="734.3" cy="740.2" r="8"/><circle cx="731.5" cy="740.6" r="8"/><circle cx="732.5" cy="740.9" r="8"/><circle cx="683" cy="741.4" r="8"/><circle cx="680.1" cy="741.4" r="8"/><circle cx="681.4" cy="741.6" r="8"/><circle cx="737.9" cy="741.7" r="8"/><circle cx="731.5" cy="741.1" r="8"/><circle cx="737.3" cy="741.5" r="8"/><circle cx="682.9" cy="742.8" r="8"/><circle cx="681.5" cy="742.6" r="8"/><circle cx="681" cy="742.9" r="8"/><circle cx="737.1" cy="742.2" r="8"/><circle cx="731.7" cy="742.8" r="8"/><circle cx="732.3" cy="742.3" r="8"/><circle cx="681.8" cy="743.7" r="8"/><circle cx="687.7" cy="743.2" r="8"/><circle cx="687.4" cy="743.7" r="8"/><circle cx="732" cy="743.2" r="8"/><circle cx="732" cy="743.4" r="8"/><circle cx="737.2" cy="743.7" r="8"/><circle cx="679.8" cy="744.9" r="8"/><circle cx="687.4" cy="744.7" r="8"/><circle cx="685.4" cy="744.1" r="8"/><circle cx="730.5" cy="744.8" r="8"/><circle cx="733.6" cy="744.8" r="8"/><circle cx="735.5" cy="744.9" r="8"/><circle cx="687.6" cy="745.7" r="8"/><circle cx="683" cy="745.5" r="8"/><circle cx="680" cy="745.3" r="8"/><circle cx="737.7" cy="745.6" r="8"/><circle cx="733.7" cy="745" r="8"/><circle cx="682" cy="746.4" r="8"/><circle cx="688.1" cy="746.7" r="8"/><circle cx="736.8" cy="746.7" r="8"/><circle cx="738.8" cy="746.1" r="8"/><circle cx="683" cy="747.8" r="8"/><circle cx="686.2" cy="747.3" r="8"/><circle cx="738.3" cy="747.1" r="8"/><circle cx="739.1" cy="747.3" r="8"/><circle cx="679.7" cy="748.4" r="8"/><circle cx="682.7" cy="748.8" r="8"/><circle cx="739.3" cy="748.2" r="8"/><circle cx="681.1" cy="749.7" r="8"/><circle cx="678.9" cy="749.8" r="8"/><circle cx="732.2" cy="749.6" r="8"/><circle cx="679.7" cy="767.2" r="8"/><circle cx="678.9" cy="767.6" r="8"/><circle cx="681.6" cy="766.8" r="8"/><circle cx="703.2" cy="768.7" r="8"/><circle cx="701.3" cy="762.7" r="8"/><circle cx="724.7" cy="766.5" r="8"/><circle cx="721" cy="765" r="8"/><circle cx="716.5" cy="765.7" r="8"/><circle cx="683.8" cy="759.8" r="8"/><circle cx="691.6" cy="274.3" r="8"/><circle cx="734.5" cy="313.4" r="8"/><circle cx="685.1" cy="336.4" r="8"/><circle cx="697.5" cy="339" r="8"/><circle cx="738.5" cy="340.1" r="8"/><circle cx="698.6" cy="344.3" r="8"/><circle cx="707.7" cy="346.5" r="8"/><circle cx="726.7" cy="352.5" r="8"/><circle cx="734.8" cy="353.3" r="8"/><circle cx="684.1" cy="356" r="8"/><circle cx="680.6" cy="361.1" r="8"/><circle cx="702.8" cy="358.4" r="8"/><circle cx="715" cy="363.3" r="8"/><circle cx="686.8" cy="374.1" r="8"/><circle cx="693.3" cy="375.5" r="8"/><circle cx="706.3" cy="376.9" r="8"/><circle cx="735.6" cy="377.4" r="8"/><circle cx="719.1" cy="385" r="8"/><circle cx="724.8" cy="387.7" r="8"/><circle cx="723.4" cy="398.5" r="8"/><circle cx="688.2" cy="406.7" r="8"/><circle cx="699.6" cy="405.9" r="8"/><circle cx="735.6" cy="411.3" r="8"/><circle cx="680.1" cy="414.8" r="8"/><circle cx="715.8" cy="416.2" r="8"/><circle cx="692" cy="420" r="8"/><circle cx="704" cy="424" r="8"/><circle cx="726" cy="424" r="8"/><circle cx="712" cy="428" r="8"/>
</g>
<rect x="679.6" y="453" width="58.8" height="291" fill="#D95F02"/>
<g fill="#7570B3" fill-opacity=".4" stroke="#7570B3" stroke-opacity=".4" stroke-width="1">
<circle cx="1106" cy="428.3" r="8"/><circle cx="1078.8" cy="429.1" r="8"/><circle cx="1055.7" cy="432.1" r="8"/><circle cx="1065.9" cy="433.2" r="8"/><circle cx="1063.4" cy="435.3" r="8"/><circle cx="1049" cy="435.5" r="8"/><circle cx="1072.6" cy="436.2" r="8"/><circle cx="1055.3" cy="436" r="8"/><circle cx="1057.7" cy="438.1" r="8"/><circle cx="1067.8" cy="438.1" r="8"/><circle cx="1060.9" cy="439.2" r="8"/><circle cx="1070.4" cy="440.5" r="8"/><circle cx="1067.3" cy="441.1" r="8"/><circle cx="1071.7" cy="442.8" r="8"/><circle cx="1081.6" cy="443.4" r="8"/><circle cx="1102.6" cy="444.2" r="8"/><circle cx="1078.7" cy="444.6" r="8"/><circle cx="1053.9" cy="445.6" r="8"/><circle cx="1079.4" cy="446.3" r="8"/><circle cx="1101.9" cy="446.5" r="8"/><circle cx="1072.7" cy="447.8" r="8"/><circle cx="1068.4" cy="447.1" r="8"/><circle cx="1091.9" cy="448.3" r="8"/><circle cx="1086.5" cy="449" r="8"/><circle cx="1075" cy="449.8" r="8"/><circle cx="1101.4" cy="450.6" r="8"/><circle cx="1100.3" cy="451.7" r="8"/><circle cx="1062.5" cy="451.1" r="8"/><circle cx="1060.7" cy="452.2" r="8"/><circle cx="1052.9" cy="453.9" r="8"/><circle cx="1083.5" cy="454.7" r="8"/><circle cx="1104.3" cy="455.1" r="8"/><circle cx="1049.9" cy="456.8" r="8"/><circle cx="1070.9" cy="457.8" r="8"/><circle cx="1093.6" cy="458" r="8"/><circle cx="1099.4" cy="458" r="8"/><circle cx="1101" cy="459.6" r="8"/><circle cx="1068.5" cy="459.1" r="8"/><circle cx="1069.2" cy="460.5" r="8"/><circle cx="1076" cy="460.2" r="8"/><circle cx="1060.9" cy="461.1" r="8"/><circle cx="1054.7" cy="461.4" r="8"/><circle cx="1097.2" cy="462.5" r="8"/><circle cx="1076.6" cy="462.6" r="8"/><circle cx="1050" cy="463.1" r="8"/><circle cx="1069.1" cy="463.4" r="8"/><circle cx="1067.2" cy="464.8" r="8"/><circle cx="1049.1" cy="464.4" r="8"/><circle cx="1065.7" cy="465.7" r="8"/><circle cx="1062.2" cy="465" r="8"/><circle cx="1108.1" cy="466.3" r="8"/><circle cx="1055.7" cy="467" r="8"/><circle cx="1106.8" cy="467.3" r="8"/><circle cx="1097.8" cy="467" r="8"/><circle cx="1096.9" cy="468.5" r="8"/><circle cx="1096.6" cy="468.4" r="8"/><circle cx="1053.3" cy="469.6" r="8"/><circle cx="1060.1" cy="469.2" r="8"/><circle cx="1074.7" cy="470.8" r="8"/><circle cx="1065.9" cy="470.7" r="8"/><circle cx="1086.7" cy="471.2" r="8"/><circle cx="1089.2" cy="472" r="8"/><circle cx="1075.6" cy="472.4" r="8"/><circle cx="1054.6" cy="472.8" r="8"/><circle cx="1061.9" cy="473" r="8"/><circle cx="1058.6" cy="473.4" r="8"/><circle cx="1059.3" cy="474.4" r="8"/><circle cx="1094.7" cy="474.1" r="8"/><circle cx="1080.4" cy="475.9" r="8"/><circle cx="1104.4" cy="475.6" r="8"/><circle cx="1101.7" cy="477" r="8"/><circle cx="1103.3" cy="476.5" r="8"/><circle cx="1084.3" cy="477.8" r="8"/><circle cx="1109.1" cy="477.5" r="8"/><circle cx="1067.5" cy="478.5" r="8"/><circle cx="1081.7" cy="478.3" r="8"/><circle cx="1104.3" cy="479.2" r="8"/><circle cx="1064" cy="479.3" r="8"/><circle cx="1067" cy="480.8" r="8"/><circle cx="1105.1" cy="480.9" r="8"/><circle cx="1060.4" cy="481.5" r="8"/><circle cx="1098.7" cy="481.2" r="8"/><circle cx="1101.6" cy="482.9" r="8"/><circle cx="1069.9" cy="482.1" r="8"/><circle cx="1067.9" cy="483.5" r="8"/><circle cx="1065.7" cy="483.8" r="8"/><circle cx="1088.1" cy="483.6" r="8"/><circle cx="1068.6" cy="484.6" r="8"/><circle cx="1069.9" cy="484.3" r="8"/><circle cx="1096.5" cy="485.9" r="8"/><circle cx="1050.5" cy="485.7" r="8"/><circle cx="1052.4" cy="485.4" r="8"/><circle cx="1103.5" cy="486.4" r="8"/><circle cx="1079.7" cy="486.4" r="8"/><circle cx="1063.4" cy="487.1" r="8"/><circle cx="1049.5" cy="487.6" r="8"/><circle cx="1089.4" cy="488.3" r="8"/><circle cx="1108.7" cy="488.1" r="8"/><circle cx="1068.9" cy="489.2" r="8"/><circle cx="1107" cy="489.7" r="8"/><circle cx="1059.4" cy="490.8" r="8"/><circle cx="1071.2" cy="490.3" r="8"/><circle cx="1066.6" cy="490.3" r="8"/><circle cx="1067.5" cy="491.6" r="8"/><circle cx="1052.5" cy="491.5" r="8"/><circle cx="1068" cy="492.9" r="8"/><circle cx="1105" cy="492.7" r="8"/><circle cx="1058.7" cy="493.6" r="8"/><circle cx="1066.2" cy="493.2" r="8"/><circle cx="1060.8" cy="494.6" r="8"/><circle cx="1094.8" cy="494" r="8"/><circle cx="1060.2" cy="495.3" r="8"/><circle cx="1092.6" cy="496" r="8"/><circle cx="1094.5" cy="496.3" r="8"/><circle cx="1105.8" cy="496.2" r="8"/><circle cx="1053.6" cy="497.6" r="8"/><circle cx="1093.8" cy="497.9" r="8"/><circle cx="1082" cy="498.4" r="8"/><circle cx="1086.9" cy="498.6" r="8"/><circle cx="1092" cy="499.7" r="8"/><circle cx="1105.6" cy="499.6" r="8"/><circle cx="1093.6" cy="500.4" r="8"/><circle cx="1097.4" cy="500.4" r="8"/><circle cx="1102" cy="501.9" r="8"/><circle cx="1103.9" cy="501.7" r="8"/><circle cx="1066.1" cy="502.6" r="8"/><circle cx="1102.9" cy="502.4" r="8"/><circle cx="1094.6" cy="503.9" r="8"/><circle cx="1061.1" cy="503.1" r="8"/><circle cx="1055.4" cy="503.6" r="8"/><circle cx="1063.7" cy="504.8" r="8"/><circle cx="1051.4" cy="504.2" r="8"/><circle cx="1094.7" cy="505.5" r="8"/><circle cx="1090.4" cy="505.4" r="8"/><circle cx="1080.3" cy="506" r="8"/><circle cx="1060.8" cy="506.4" r="8"/><circle cx="1088.5" cy="506.2" r="8"/><circle cx="1108.8" cy="507.7" r="8"/><circle cx="1073.6" cy="507.8" r="8"/><circle cx="1092.1" cy="507.8" r="8"/><circle cx="1086" cy="508.1" r="8"/><circle cx="1074.7" cy="508.4" r="8"/><circle cx="1070.8" cy="509.9" r="8"/><circle cx="1062.1" cy="509.1" r="8"/><circle cx="1069" cy="509.2" r="8"/><circle cx="1104.1" cy="510.5" r="8"/><circle cx="1050.2" cy="510.5" r="8"/><circle cx="1059.2" cy="510.5" r="8"/><circle cx="1108.1" cy="511.4" r="8"/><circle cx="1096.2" cy="511.5" r="8"/><circle cx="1072.9" cy="512.8" r="8"/><circle cx="1095.9" cy="512.7" r="8"/><circle cx="1108.7" cy="512.4" r="8"/><circle cx="1098.4" cy="513.9" r="8"/><circle cx="1101.5" cy="513.9" r="8"/><circle cx="1071.6" cy="514.6" r="8"/><circle cx="1055.9" cy="514.3" r="8"/><circle cx="1071.1" cy="514.2" r="8"/><circle cx="1088.3" cy="515.3" r="8"/><circle cx="1052.1" cy="515.8" r="8"/><circle cx="1106.1" cy="515.2" r="8"/><circle cx="1053.7" cy="516.2" r="8"/><circle cx="1058.6" cy="516.6" r="8"/><circle cx="1098.6" cy="517.7" r="8"/><circle cx="1094.5" cy="517.9" r="8"/><circle cx="1062.3" cy="518.2" r="8"/><circle cx="1100.7" cy="518.8" r="8"/><circle cx="1106.5" cy="519.8" r="8"/><circle cx="1073.1" cy="519.2" r="8"/><circle cx="1104.4" cy="520.9" r="8"/><circle cx="1049" cy="520" r="8"/><circle cx="1103.9" cy="521.9" r="8"/><circle cx="1099.5" cy="521.1" r="8"/><circle cx="1095.7" cy="522.4" r="8"/><circle cx="1068" cy="523" r="8"/><circle cx="1049.7" cy="522.5" r="8"/><circle cx="1091.2" cy="523.9" r="8"/><circle cx="1065.2" cy="523.6" r="8"/><circle cx="1056.7" cy="524.4" r="8"/><circle cx="1108.9" cy="524.2" r="8"/><circle cx="1094.1" cy="525.3" r="8"/><circle cx="1108.8" cy="525.8" r="8"/><circle cx="1108.8" cy="526.9" r="8"/><circle cx="1077.7" cy="526" r="8"/><circle cx="1096.3" cy="526.6" r="8"/><circle cx="1053.4" cy="527.5" r="8"/><circle cx="1097.7" cy="527.7" r="8"/><circle cx="1068.6" cy="528.5" r="8"/><circle cx="1076.5" cy="529" r="8"/><circle cx="1105.4" cy="528" r="8"/><circle cx="1057" cy="529.9" r="8"/><circle cx="1080.7" cy="529.9" r="8"/><circle cx="1105.4" cy="530.2" r="8"/><circle cx="1052.5" cy="530.8" r="8"/><circle cx="1095.9" cy="531.4" r="8"/><circle cx="1073.8" cy="531.7" r="8"/><circle cx="1078.8" cy="532.4" r="8"/><circle cx="1089.6" cy="532.1" r="8"/><circle cx="1076.7" cy="532.6" r="8"/><circle cx="1103.4" cy="533.4" r="8"/><circle cx="1107.1" cy="533.7" r="8"/><circle cx="1082.8" cy="534.4" r="8"/><circle cx="1088.3" cy="534" r="8"/><circle cx="1103.2" cy="534.4" r="8"/><circle cx="1053.8" cy="535.3" r="8"/><circle cx="1064.6" cy="535.8" r="8"/><circle cx="1071.5" cy="535.9" r="8"/><circle cx="1069.6" cy="537" r="8"/><circle cx="1100.8" cy="536.9" r="8"/><circle cx="1055.6" cy="536.1" r="8"/><circle cx="1069.1" cy="537.1" r="8"/><circle cx="1054.2" cy="537.3" r="8"/><circle cx="1089" cy="539" r="8"/><circle cx="1058.9" cy="538.8" r="8"/><circle cx="1084.7" cy="538.9" r="8"/><circle cx="1104.3" cy="539.1" r="8"/><circle cx="1093.5" cy="539.8" r="8"/><circle cx="1050.5" cy="540.8" r="8"/><circle cx="1086.8" cy="540.8" r="8"/><circle cx="1094.6" cy="540.7" r="8"/><circle cx="1105.8" cy="542" r="8"/><circle cx="1070" cy="541.8" r="8"/><circle cx="1105.6" cy="541.4" r="8"/><circle cx="1085.2" cy="542.8" r="8"/><circle cx="1073.7" cy="542.7" r="8"/><circle cx="1106.6" cy="542.4" r="8"/><circle cx="1057.1" cy="543.6" r="8"/><circle cx="1099.3" cy="543.4" r="8"/><circle cx="1065.5" cy="544.4" r="8"/><circle cx="1072.3" cy="544.4" r="8"/><circle cx="1063.4" cy="544.6" r="8"/><circle cx="1064.6" cy="545.5" r="8"/><circle cx="1103.9" cy="545.3" r="8"/><circle cx="1059.6" cy="545.8" r="8"/><circle cx="1055.9" cy="547" r="8"/><circle cx="1060.8" cy="546.6" r="8"/><circle cx="1098.9" cy="735.4" r="8"/><circle cx="1086.8" cy="735.8" r="8"/><circle cx="1067.5" cy="736.3" r="8"/><circle cx="1084" cy="736.5" r="8"/><circle cx="1052.8" cy="737.1" r="8"/><circle cx="1048.8" cy="737.8" r="8"/><circle cx="1094.3" cy="738.5" r="8"/><circle cx="1106.6" cy="738.6" r="8"/><circle cx="1100" cy="738.1" r="8"/><circle cx="1071.8" cy="739" r="8"/><circle cx="1100.8" cy="739.2" r="8"/><circle cx="1049.6" cy="740.4" r="8"/><circle cx="1076.9" cy="740.4" r="8"/><circle cx="1066.1" cy="741.9" r="8"/><circle cx="1058.3" cy="742" r="8"/><circle cx="1089.8" cy="742.9" r="8"/><circle cx="1090" cy="742.9" r="8"/><circle cx="1107.4" cy="743" r="8"/><circle cx="1089.7" cy="743.8" r="8"/><circle cx="1095.2" cy="743.7" r="8"/><circle cx="1108.6" cy="744.2" r="8"/><circle cx="1103.9" cy="744.8" r="8"/><circle cx="1076.8" cy="745.4" r="8"/><circle cx="1057.7" cy="745.9" r="8"/><circle cx="1100.6" cy="745.8" r="8"/><circle cx="1093" cy="746.9" r="8"/><circle cx="1092.3" cy="746.9" r="8"/><circle cx="1107" cy="746.7" r="8"/><circle cx="1067" cy="747.8" r="8"/><circle cx="1067.6" cy="747.3" r="8"/><circle cx="1067.4" cy="748" r="8"/><circle cx="1057.7" cy="748.3" r="8"/><circle cx="1049.8" cy="749.7" r="8"/><circle cx="1098.8" cy="749.3" r="8"/><circle cx="1101.4" cy="750" r="8"/><circle cx="1084.5" cy="751.2" r="8"/><circle cx="1097.5" cy="752.5" r="8"/><circle cx="1099.2" cy="753.1" r="8"/><circle cx="1067.1" cy="755.3" r="8"/><circle cx="1049.6" cy="530.8" r="8"/><circle cx="1100.4" cy="531" r="8"/><circle cx="1107" cy="531.6" r="8"/><circle cx="1105.8" cy="532.8" r="8"/><circle cx="1054.5" cy="533.5" r="8"/><circle cx="1049.7" cy="534.6" r="8"/><circle cx="1107.7" cy="534.5" r="8"/><circle cx="1058.1" cy="535.2" r="8"/><circle cx="1109.3" cy="535.3" r="8"/><circle cx="1053.6" cy="536.7" r="8"/><circle cx="1103.3" cy="536.3" r="8"/><circle cx="1109.1" cy="537.8" r="8"/><circle cx="1052.8" cy="538.6" r="8"/><circle cx="1051.6" cy="539.5" r="8"/><circle cx="1104.8" cy="539.7" r="8"/><circle cx="1105.4" cy="540.8" r="8"/><circle cx="1058.2" cy="541.3" r="8"/><circle cx="1102.7" cy="541.8" r="8"/><circle cx="1054" cy="542.1" r="8"/><circle cx="1106.8" cy="542" r="8"/><circle cx="1052" cy="543.4" r="8"/><circle cx="1104.9" cy="543.5" r="8"/><circle cx="1050.4" cy="544.8" r="8"/><circle cx="1101.3" cy="544.6" r="8"/><circle cx="1057" cy="545.7" r="8"/><circle cx="1100.7" cy="545.2" r="8"/><circle cx="1056.9" cy="546.5" r="8"/><circle cx="1100.4" cy="546.6" r="8"/><circle cx="1052.1" cy="547.3" r="8"/><circle cx="1102.2" cy="547.2" r="8"/><circle cx="1057.2" cy="548.6" r="8"/><circle cx="1100.5" cy="548.7" r="8"/><circle cx="1051.9" cy="549.3" r="8"/><circle cx="1104.7" cy="549.6" r="8"/><circle cx="1054.3" cy="550.9" r="8"/><circle cx="1109.4" cy="550.5" r="8"/><circle cx="1049.1" cy="552" r="8"/><circle cx="1103.8" cy="551.5" r="8"/><circle cx="1052.6" cy="552.6" r="8"/><circle cx="1105.9" cy="552.5" r="8"/><circle cx="1054.7" cy="553.2" r="8"/><circle cx="1051.3" cy="553.2" r="8"/><circle cx="1104.9" cy="553.6" r="8"/><circle cx="1054.5" cy="554.4" r="8"/><circle cx="1101.7" cy="554.7" r="8"/><circle cx="1050" cy="555.4" r="8"/><circle cx="1106.3" cy="555.2" r="8"/><circle cx="1053.6" cy="556.6" r="8"/><circle cx="1105.4" cy="557" r="8"/><circle cx="1050.8" cy="557.5" r="8"/><circle cx="1099.6" cy="557.3" r="8"/><circle cx="1050.8" cy="558.2" r="8"/><circle cx="1106.1" cy="558.3" r="8"/><circle cx="1052.7" cy="559.1" r="8"/><circle cx="1102.5" cy="559.2" r="8"/><circle cx="1048.9" cy="560.2" r="8"/><circle cx="1053.8" cy="560.6" r="8"/><circle cx="1101.2" cy="560.2" r="8"/><circle cx="1050.6" cy="561.1" r="8"/><circle cx="1104" cy="562" r="8"/><circle cx="1099.6" cy="561" r="8"/><circle cx="1052.1" cy="562.9" r="8"/><circle cx="1105" cy="562.9" r="8"/><circle cx="1101.6" cy="562.2" r="8"/><circle cx="1055.4" cy="563.1" r="8"/><circle cx="1102.6" cy="563.4" r="8"/><circle cx="1049.5" cy="564.9" r="8"/><circle cx="1103.5" cy="564.7" r="8"/><circle cx="1103.4" cy="564.8" r="8"/><circle cx="1055.3" cy="565.2" r="8"/><circle cx="1101.9" cy="565.5" r="8"/><circle cx="1055.4" cy="566" r="8"/><circle cx="1107.3" cy="566.7" r="8"/><circle cx="1101.1" cy="566.2" r="8"/><circle cx="1050.6" cy="567.4" r="8"/><circle cx="1106.6" cy="567.9" r="8"/><circle cx="1051.5" cy="568.8" r="8"/><circle cx="1055.2" cy="568.1" r="8"/><circle cx="1104.1" cy="568" r="8"/><circle cx="1048.9" cy="569.9" r="8"/><circle cx="1102.8" cy="569.4" r="8"/><circle cx="1053.5" cy="571" r="8"/><circle cx="1049.6" cy="570.5" r="8"/><circle cx="1099.7" cy="570.7" r="8"/><circle cx="1055.6" cy="571.4" r="8"/><circle cx="1109" cy="571.7" r="8"/><circle cx="1049.5" cy="572.1" r="8"/><circle cx="1053.1" cy="572.8" r="8"/><circle cx="1103.2" cy="572.4" r="8"/><circle cx="1053.1" cy="573.3" r="8"/><circle cx="1053.7" cy="573.6" r="8"/><circle cx="1100.1" cy="573.1" r="8"/><circle cx="1100.7" cy="573" r="8"/><circle cx="1058.2" cy="574.3" r="8"/><circle cx="1052.5" cy="574.8" r="8"/><circle cx="1103.3" cy="574.9" r="8"/><circle cx="1104.6" cy="574" r="8"/><circle cx="1057.4" cy="575.2" r="8"/><circle cx="1055.7" cy="575.6" r="8"/><circle cx="1102.9" cy="575.5" r="8"/><circle cx="1055.8" cy="576.2" r="8"/><circle cx="1103.5" cy="576.6" r="8"/><circle cx="1102.8" cy="576.3" r="8"/><circle cx="1054.6" cy="577.4" r="8"/><circle cx="1107.6" cy="577.3" r="8"/><circle cx="1102.6" cy="577.4" r="8"/><circle cx="1051.8" cy="578.8" r="8"/><circle cx="1102.7" cy="578.8" r="8"/><circle cx="1053.2" cy="579.4" r="8"/><circle cx="1052.6" cy="580" r="8"/><circle cx="1099.7" cy="579.7" r="8"/><circle cx="1106.7" cy="579.4" r="8"/><circle cx="1053.2" cy="580.9" r="8"/><circle cx="1055" cy="580.5" r="8"/><circle cx="1106" cy="580.1" r="8"/><circle cx="1056.7" cy="581.8" r="8"/><circle cx="1048.9" cy="581.6" r="8"/><circle cx="1103.1" cy="582" r="8"/><circle cx="1050.3" cy="582.4" r="8"/><circle cx="1048.8" cy="582.9" r="8"/><circle cx="1102.8" cy="582.5" r="8"/><circle cx="1104.1" cy="582.4" r="8"/><circle cx="1057.3" cy="584" r="8"/><circle cx="1104.7" cy="583.6" r="8"/><circle cx="1099.8" cy="583.3" r="8"/><circle cx="1053.6" cy="584.9" r="8"/><circle cx="1050" cy="584.3" r="8"/><circle cx="1103.1" cy="584.3" r="8"/><circle cx="1101.8" cy="584.8" r="8"/><circle cx="1057.3" cy="585.1" r="8"/><circle cx="1105.3" cy="585.3" r="8"/><circle cx="1105.1" cy="585.9" r="8"/><circle cx="1050.5" cy="586.7" r="8"/><circle cx="1106.9" cy="586.3" r="8"/><circle cx="1108.1" cy="586.5" r="8"/><circle cx="1052.1" cy="587.3" r="8"/><circle cx="1099.7" cy="587.2" r="8"/><circle cx="1105" cy="587.2" r="8"/><circle cx="1056.4" cy="588.9" r="8"/><circle cx="1054.4" cy="588.9" r="8"/><circle cx="1102.5" cy="588.4" r="8"/><circle cx="1106.8" cy="588.4" r="8"/><circle cx="1054.9" cy="589.2" r="8"/><circle cx="1055.7" cy="589.7" r="8"/><circle cx="1105.6" cy="589.7" r="8"/><circle cx="1102.9" cy="589.6" r="8"/><circle cx="1056.1" cy="590.1" r="8"/><circle cx="1048.8" cy="590.8" r="8"/><circle cx="1107.5" cy="590.1" r="8"/><circle cx="1105.6" cy="590.7" r="8"/><circle cx="1053.8" cy="591.5" r="8"/><circle cx="1057.3" cy="591.4" r="8"/><circle cx="1103.5" cy="591.1" r="8"/><circle cx="1108.4" cy="591.9" r="8"/><circle cx="1052.1" cy="592.2" r="8"/><circle cx="1050" cy="592.4" r="8"/><circle cx="1100" cy="592.5" r="8"/><circle cx="1105.5" cy="592.5" r="8"/><circle cx="1053.6" cy="593.4" r="8"/><circle cx="1050.6" cy="593.4" r="8"/><circle cx="1108.5" cy="593.6" r="8"/><circle cx="1100.1" cy="593.6" r="8"/><circle cx="1057.3" cy="594.7" r="8"/><circle cx="1052" cy="594" r="8"/><circle cx="1104.9" cy="594.3" r="8"/><circle cx="1050.8" cy="595.7" r="8"/><circle cx="1054.6" cy="595.2" r="8"/><circle cx="1101.5" cy="595.1" r="8"/><circle cx="1103.2" cy="595.3" r="8"/><circle cx="1051.5" cy="596.5" r="8"/><circle cx="1049.5" cy="597" r="8"/><circle cx="1099.5" cy="596" r="8"/><circle cx="1105.3" cy="596.3" r="8"/><circle cx="1052" cy="598" r="8"/><circle cx="1108.3" cy="597.4" r="8"/><circle cx="1108.8" cy="597.5" r="8"/><circle cx="1050.8" cy="598.1" r="8"/><circle cx="1051.8" cy="599" r="8"/><circle cx="1103.1" cy="598.8" r="8"/><circle cx="1105.1" cy="598.7" r="8"/><circle cx="1053.9" cy="599.8" r="8"/><circle cx="1052.2" cy="599.1" r="8"/><circle cx="1101.5" cy="599.3" r="8"/><circle cx="1052.4" cy="600.5" r="8"/><circle cx="1051.2" cy="600.9" r="8"/><circle cx="1101.3" cy="600.5" r="8"/><circle cx="1100" cy="600.6" r="8"/><circle cx="1053.5" cy="601.9" r="8"/><circle cx="1054.8" cy="601.6" r="8"/><circle cx="1100.6" cy="601.7" r="8"/><circle cx="1099.6" cy="601.4" r="8"/><circle cx="1049.1" cy="602.3" r="8"/><circle cx="1053.6" cy="602.2" r="8"/><circle cx="1107.5" cy="602.9" r="8"/><circle cx="1107.9" cy="602.2" r="8"/><circle cx="1056.5" cy="603.9" r="8"/><circle cx="1055.5" cy="603.2" r="8"/><circle cx="1102.4" cy="603.3" r="8"/><circle cx="1100.4" cy="603.8" r="8"/><circle cx="1053.9" cy="604" r="8"/><circle cx="1049.7" cy="604.1" r="8"/><circle cx="1104.9" cy="604.6" r="8"/><circle cx="1100.2" cy="604.3" r="8"/><circle cx="1051.2" cy="605.9" r="8"/><circle cx="1051.8" cy="605" r="8"/><circle cx="1105.6" cy="605.9" r="8"/><circle cx="1107.1" cy="605.8" r="8"/><circle cx="1058.4" cy="606.6" r="8"/><circle cx="1051" cy="606.3" r="8"/><circle cx="1105.4" cy="606.5" r="8"/><circle cx="1099.8" cy="606" r="8"/><circle cx="1056.1" cy="607.9" r="8"/><circle cx="1057.3" cy="607.4" r="8"/><circle cx="1100.5" cy="607.6" r="8"/><circle cx="1099.8" cy="607.1" r="8"/><circle cx="1055.9" cy="609" r="8"/><circle cx="1051.1" cy="608.6" r="8"/><circle cx="1104.9" cy="608.1" r="8"/><circle cx="1102.6" cy="608.2" r="8"/><circle cx="1058.5" cy="609.5" r="8"/><circle cx="1058.2" cy="609.9" r="8"/><circle cx="1107.1" cy="609.8" r="8"/><circle cx="1107.6" cy="609.1" r="8"/><circle cx="1057.3" cy="610.9" r="8"/><circle cx="1057.3" cy="610.4" r="8"/><circle cx="1104.1" cy="610" r="8"/><circle cx="1107.3" cy="610.9" r="8"/><circle cx="1052.3" cy="611.2" r="8"/><circle cx="1054.7" cy="611.9" r="8"/><circle cx="1104.1" cy="611.7" r="8"/><circle cx="1102.2" cy="611.3" r="8"/><circle cx="1053.4" cy="612.5" r="8"/><circle cx="1058.5" cy="612.2" r="8"/><circle cx="1103.9" cy="613" r="8"/><circle cx="1100" cy="612.1" r="8"/><circle cx="1099.4" cy="612.9" r="8"/><circle cx="1051" cy="613.2" r="8"/><circle cx="1053.4" cy="613.6" r="8"/><circle cx="1104.4" cy="613.5" r="8"/><circle cx="1107.9" cy="613.7" r="8"/><circle cx="1053.2" cy="614.2" r="8"/><circle cx="1050" cy="614.6" r="8"/><circle cx="1104.2" cy="614.1" r="8"/><circle cx="1107.6" cy="614.9" r="8"/><circle cx="1051.4" cy="615.4" r="8"/><circle cx="1050" cy="615.6" r="8"/><circle cx="1101.6" cy="615.2" r="8"/><circle cx="1105.9" cy="616" r="8"/><circle cx="1108.8" cy="615.3" r="8"/><circle cx="1054.9" cy="616.8" r="8"/><circle cx="1056.8" cy="616.5" r="8"/><circle cx="1107" cy="616.8" r="8"/><circle cx="1101.1" cy="616" r="8"/><circle cx="1052.1" cy="617.1" r="8"/><circle cx="1050" cy="617.3" r="8"/><circle cx="1100.8" cy="617.6" r="8"/><circle cx="1105.9" cy="617.3" r="8"/><circle cx="1049.3" cy="618.5" r="8"/><circle cx="1055.1" cy="618.8" r="8"/><circle cx="1056.2" cy="618.9" r="8"/><circle cx="1102" cy="618.6" r="8"/><circle cx="1102.9" cy="618.8" r="8"/><circle cx="1048.9" cy="619.2" r="8"/><circle cx="1052.6" cy="619.4" r="8"/><circle cx="1049.3" cy="619.7" r="8"/><circle cx="1105.9" cy="619.9" r="8"/><circle cx="1106.7" cy="619.3" r="8"/><circle cx="1051.1" cy="620.2" r="8"/><circle cx="1049.2" cy="620.4" r="8"/><circle cx="1105.7" cy="620.6" r="8"/><circle cx="1103" cy="620.6" r="8"/><circle cx="1056.1" cy="621.1" r="8"/><circle cx="1057.7" cy="621.7" r="8"/><circle cx="1100.8" cy="621.9" r="8"/><circle cx="1107" cy="621.4" r="8"/><circle cx="1053.8" cy="622.8" r="8"/><circle cx="1052.9" cy="622.7" r="8"/><circle cx="1052.3" cy="622.3" r="8"/><circle cx="1104.9" cy="622.4" r="8"/><circle cx="1105" cy="622.4" r="8"/><circle cx="1106.1" cy="622.4" r="8"/><circle cx="1050" cy="623.4" r="8"/><circle cx="1055.2" cy="623.4" r="8"/><circle cx="1056.5" cy="623.3" r="8"/><circle cx="1104.9" cy="623.3" r="8"/><circle cx="1104.4" cy="623.9" r="8"/><circle cx="1100.1" cy="623.1" r="8"/><circle cx="1054.9" cy="624.5" r="8"/><circle cx="1050.7" cy="624.3" r="8"/><circle cx="1053" cy="624.1" r="8"/><circle cx="1100.5" cy="625" r="8"/><circle cx="1108.6" cy="624.2" r="8"/><circle cx="1054.4" cy="625.3" r="8"/><circle cx="1055.9" cy="625.6" r="8"/><circle cx="1100.6" cy="625.2" r="8"/><circle cx="1106.6" cy="625.7" r="8"/><circle cx="1099.8" cy="625.5" r="8"/><circle cx="1053.5" cy="626" r="8"/><circle cx="1057.5" cy="626.5" r="8"/><circle cx="1050.6" cy="626.1" r="8"/><circle cx="1101.2" cy="626.8" r="8"/><circle cx="1101.3" cy="627" r="8"/><circle cx="1102.8" cy="626.3" r="8"/><circle cx="1054.3" cy="627.5" r="8"/><circle cx="1050.8" cy="628" r="8"/><circle cx="1049.3" cy="627.2" r="8"/><circle cx="1104.3" cy="627.7" r="8"/><circle cx="1107.2" cy="627.2" r="8"/><circle cx="1102.2" cy="627.9" r="8"/><circle cx="1057.7" cy="628.6" r="8"/><circle cx="1053.4" cy="628.3" r="8"/><circle cx="1050.9" cy="628.4" r="8"/><circle cx="1102.8" cy="628.8" r="8"/><circle cx="1100.6" cy="628.8" r="8"/><circle cx="1106.2" cy="628.2" r="8"/><circle cx="1055.3" cy="629.2" r="8"/><circle cx="1056.4" cy="629.8" r="8"/><circle cx="1050.2" cy="629.8" r="8"/><circle cx="1104.2" cy="629.8" r="8"/><circle cx="1109" cy="629.2" r="8"/><circle cx="1106.8" cy="629.8" r="8"/><circle cx="1053.1" cy="630.1" r="8"/><circle cx="1056.9" cy="630.3" r="8"/><circle cx="1054.7" cy="631" r="8"/><circle cx="1103.1" cy="630.6" r="8"/><circle cx="1104.2" cy="630.5" r="8"/><circle cx="1105" cy="630.7" r="8"/><circle cx="1048.9" cy="631.2" r="8"/><circle cx="1055.2" cy="631.8" r="8"/><circle cx="1054.3" cy="631.4" r="8"/><circle cx="1103" cy="631.1" r="8"/><circle cx="1106.9" cy="631.8" r="8"/><circle cx="1104.1" cy="631.6" r="8"/><circle cx="1049.3" cy="632.8" r="8"/><circle cx="1049.8" cy="632.5" r="8"/><circle cx="1054.5" cy="632.4" r="8"/><circle cx="1103.7" cy="632.6" r="8"/><circle cx="1108.4" cy="632.3" r="8"/><circle cx="1102.4" cy="632.6" r="8"/><circle cx="1053.9" cy="633.4" r="8"/><circle cx="1049.4" cy="633.2" r="8"/><circle cx="1056.5" cy="633.7" r="8"/><circle cx="1105.4" cy="633.2" r="8"/><circle cx="1108.9" cy="633.3" r="8"/><circle cx="1105.9" cy="633.4" r="8"/><circle cx="1056.5" cy="634.4" r="8"/><circle cx="1048.7" cy="634.7" r="8"/><circle cx="1049.7" cy="634.7" r="8"/><circle cx="1104.1" cy="634.4" r="8"/><circle cx="1100.8" cy="634.3" r="8"/><circle cx="1108.2" cy="634.6" r="8"/><circle cx="1050.9" cy="635.5" r="8"/><circle cx="1055.8" cy="635.1" r="8"/><circle cx="1057.1" cy="635.3" r="8"/><circle cx="1106.5" cy="635.8" r="8"/><circle cx="1103.3" cy="635.4" r="8"/><circle cx="1106" cy="635.8" r="8"/><circle cx="1050.9" cy="636" r="8"/><circle cx="1057.3" cy="636.9" r="8"/><circle cx="1056.6" cy="637" r="8"/><circle cx="1100.4" cy="636.6" r="8"/><circle cx="1106.8" cy="636.4" r="8"/><circle cx="1106.2" cy="636.3" r="8"/><circle cx="1052" cy="637.9" r="8"/><circle cx="1049.1" cy="637.5" r="8"/><circle cx="1056.2" cy="637.8" r="8"/><circle cx="1101.2" cy="637.3" r="8"/><circle cx="1103" cy="637.6" r="8"/><circle cx="1101.1" cy="637.9" r="8"/><circle cx="1050.1" cy="638.3" r="8"/><circle cx="1051.5" cy="638.1" r="8"/><circle cx="1051.1" cy="638.2" r="8"/><circle cx="1103.2" cy="638.9" r="8"/><circle cx="1099.8" cy="638.9" r="8"/><circle cx="1102.1" cy="638.4" r="8"/><circle cx="1052.8" cy="639.8" r="8"/><circle cx="1051.6" cy="639.5" r="8"/><circle cx="1056.5" cy="639.1" r="8"/><circle cx="1109.1" cy="639.3" r="8"/><circle cx="1102.7" cy="639.7" r="8"/><circle cx="1099.7" cy="639.7" r="8"/><circle cx="1056.5" cy="640.2" r="8"/><circle cx="1058.3" cy="640" r="8"/><circle cx="1056" cy="640.4" r="8"/><circle cx="1106.1" cy="640.7" r="8"/><circle cx="1100.3" cy="640.5" r="8"/><circle cx="1100.6" cy="640.3" r="8"/><circle cx="1058" cy="641.7" r="8"/><circle cx="1052.3" cy="641.3" r="8"/><circle cx="1050" cy="641.8" r="8"/><circle cx="1107.2" cy="641.1" r="8"/><circle cx="1100.3" cy="641.8" r="8"/><circle cx="1104.3" cy="641" r="8"/><circle cx="1051.1" cy="642.5" r="8"/><circle cx="1050.5" cy="642.9" r="8"/><circle cx="1054.7" cy="642" r="8"/><circle cx="1107.1" cy="642.8" r="8"/><circle cx="1106.8" cy="642.5" r="8"/><circle cx="1102.9" cy="642.4" r="8"/><circle cx="1052.4" cy="643.1" r="8"/><circle cx="1056.8" cy="643.3" r="8"/><circle cx="1048.7" cy="643.5" r="8"/><circle cx="1102.7" cy="643.5" r="8"/><circle cx="1108.8" cy="643" r="8"/><circle cx="1099.7" cy="643.6" r="8"/><circle cx="1050.8" cy="644.7" r="8"/><circle cx="1056.7" cy="644.6" r="8"/><circle cx="1050.7" cy="644.3" r="8"/><circle cx="1105.4" cy="644.7" r="8"/><circle cx="1109.2" cy="644.6" r="8"/><circle cx="1100.7" cy="644.9" r="8"/><circle cx="1052.4" cy="645.3" r="8"/><circle cx="1053.5" cy="645.4" r="8"/><circle cx="1054.9" cy="645.4" r="8"/><circle cx="1099.7" cy="645.4" r="8"/><circle cx="1102.6" cy="645.9" r="8"/><circle cx="1099.8" cy="645.5" r="8"/><circle cx="1048.7" cy="646" r="8"/><circle cx="1053.5" cy="646.1" r="8"/><circle cx="1053.2" cy="646.9" r="8"/><circle cx="1104.3" cy="646.9" r="8"/><circle cx="1104.8" cy="646.8" r="8"/><circle cx="1099.8" cy="646.3" r="8"/><circle cx="1056.2" cy="647.5" r="8"/><circle cx="1051" cy="647.3" r="8"/><circle cx="1055.1" cy="647.4" r="8"/><circle cx="1106.5" cy="647.3" r="8"/><circle cx="1106.3" cy="647.8" r="8"/><circle cx="1107.6" cy="647.2" r="8"/><circle cx="1055.4" cy="648.9" r="8"/><circle cx="1051.2" cy="649" r="8"/><circle cx="1055.4" cy="648.5" r="8"/><circle cx="1100.9" cy="648.6" r="8"/><circle cx="1102.1" cy="648.2" r="8"/><circle cx="1103.8" cy="648.8" r="8"/><circle cx="1051.5" cy="649.3" r="8"/><circle cx="1050.3" cy="649.3" r="8"/><circle cx="1051.1" cy="649" r="8"/><circle cx="1105.4" cy="649.6" r="8"/><circle cx="1106.7" cy="649.9" r="8"/><circle cx="1107.9" cy="649.5" r="8"/><circle cx="1053.2" cy="650.4" r="8"/><circle cx="1053.1" cy="650.2" r="8"/><circle cx="1052.4" cy="650.7" r="8"/><circle cx="1106.7" cy="650.1" r="8"/><circle cx="1105.4" cy="650.2" r="8"/><circle cx="1102.6" cy="650.5" r="8"/><circle cx="1055.1" cy="652" r="8"/><circle cx="1053.7" cy="651.5" r="8"/><circle cx="1054.7" cy="651.6" r="8"/><circle cx="1104.1" cy="651.1" r="8"/><circle cx="1103.1" cy="651.6" r="8"/><circle cx="1105.2" cy="651.6" r="8"/><circle cx="1053.2" cy="652.3" r="8"/><circle cx="1049.1" cy="652.4" r="8"/><circle cx="1054.9" cy="652" r="8"/><circle cx="1103.5" cy="652.3" r="8"/><circle cx="1104.4" cy="652.7" r="8"/><circle cx="1104.1" cy="652.4" r="8"/><circle cx="1056" cy="654" r="8"/><circle cx="1052.5" cy="653.6" r="8"/><circle cx="1049.6" cy="653.3" r="8"/><circle cx="1100.2" cy="653.9" r="8"/><circle cx="1107.5" cy="653.3" r="8"/><circle cx="1102.7" cy="653.9" r="8"/><circle cx="1050.2" cy="654.3" r="8"/><circle cx="1052" cy="654.2" r="8"/><circle cx="1049.6" cy="654.3" r="8"/><circle cx="1101.6" cy="654.8" r="8"/><circle cx="1103.7" cy="654.5" r="8"/><circle cx="1105.2" cy="654.3" r="8"/><circle cx="1048.8" cy="655.5" r="8"/><circle cx="1052.5" cy="655.4" r="8"/><circle cx="1058" cy="655" r="8"/><circle cx="1101.6" cy="655.5" r="8"/><circle cx="1103.3" cy="655.6" r="8"/><circle cx="1101.6" cy="655.9" r="8"/><circle cx="1055.3" cy="656.6" r="8"/><circle cx="1050.4" cy="656.7" r="8"/><circle cx="1054.1" cy="656.8" r="8"/><circle cx="1100.1" cy="656.9" r="8"/><circle cx="1108.2" cy="656.9" r="8"/><circle cx="1100.4" cy="656" r="8"/><circle cx="1053.8" cy="657.8" r="8"/><circle cx="1056.9" cy="657.1" r="8"/><circle cx="1056.8" cy="657.8" r="8"/><circle cx="1100.3" cy="657.3" r="8"/><circle cx="1108.3" cy="657.7" r="8"/><circle cx="1102.5" cy="658" r="8"/><circle cx="1050.5" cy="658.3" r="8"/><circle cx="1057.8" cy="658.8" r="8"/><circle cx="1058.3" cy="658.8" r="8"/><circle cx="1101.3" cy="658.5" r="8"/><circle cx="1101.9" cy="658.5" r="8"/><circle cx="1101.3" cy="658" r="8"/><circle cx="1050.4" cy="659.8" r="8"/><circle cx="1048.7" cy="659.5" r="8"/><circle cx="1058" cy="659.7" r="8"/><circle cx="1107.6" cy="659.5" r="8"/><circle cx="1109" cy="659.5" r="8"/><circle cx="1109" cy="659.3" r="8"/><circle cx="1055.9" cy="660.3" r="8"/><circle cx="1056.2" cy="660.5" r="8"/><circle cx="1055.3" cy="660.7" r="8"/><circle cx="1101.3" cy="661" r="8"/><circle cx="1101.4" cy="660.8" r="8"/><circle cx="1101.2" cy="660.2" r="8"/><circle cx="1053.5" cy="662" r="8"/><circle cx="1057.4" cy="661.8" r="8"/><circle cx="1053" cy="661.8" r="8"/><circle cx="1103.7" cy="661.2" r="8"/><circle cx="1100.6" cy="661.1" r="8"/><circle cx="1104.5" cy="661.7" r="8"/><circle cx="1052.6" cy="662.3" r="8"/><circle cx="1051.9" cy="662.8" r="8"/><circle cx="1058" cy="662.9" r="8"/><circle cx="1104.2" cy="662.2" r="8"/><circle cx="1107.1" cy="662.1" r="8"/><circle cx="1103.3" cy="662.3" r="8"/><circle cx="1052.7" cy="663.5" r="8"/><circle cx="1049.4" cy="664" r="8"/><circle cx="1049.9" cy="663.6" r="8"/><circle cx="1108.4" cy="663.2" r="8"/><circle cx="1101.3" cy="663.9" r="8"/><circle cx="1102.7" cy="663.8" r="8"/><circle cx="1056.6" cy="664.3" r="8"/><circle cx="1056.8" cy="664.9" r="8"/><circle cx="1051.2" cy="664.7" r="8"/><circle cx="1105.4" cy="665" r="8"/><circle cx="1103.1" cy="664.2" r="8"/><circle cx="1101.2" cy="664.7" r="8"/><circle cx="1056.3" cy="665.2" r="8"/><circle cx="1050.9" cy="665.5" r="8"/><circle cx="1048.8" cy="665.3" r="8"/><circle cx="1106.2" cy="665.3" r="8"/><circle cx="1106.1" cy="665.8" r="8"/><circle cx="1107.2" cy="665.9" r="8"/><circle cx="1050.5" cy="666.5" r="8"/><circle cx="1053.3" cy="666.6" r="8"/><circle cx="1055.2" cy="666.7" r="8"/><circle cx="1102.4" cy="666.2" r="8"/><circle cx="1104" cy="666.1" r="8"/><circle cx="1100" cy="666" r="8"/><circle cx="1049.5" cy="667.1" r="8"/><circle cx="1048.7" cy="668" r="8"/><circle cx="1053.3" cy="667.5" r="8"/><circle cx="1109.3" cy="667.7" r="8"/><circle cx="1105.7" cy="667.7" r="8"/><circle cx="1104.1" cy="667.9" r="8"/><circle cx="1058.3" cy="668.3" r="8"/><circle cx="1058.1" cy="668.6" r="8"/><circle cx="1049.2" cy="669" r="8"/><circle cx="1106.3" cy="668.4" r="8"/><circle cx="1102" cy="668.5" r="8"/><circle cx="1105.1" cy="668.9" r="8"/><circle cx="1051.7" cy="669.7" r="8"/><circle cx="1057" cy="669.3" r="8"/><circle cx="1057.4" cy="669.1" r="8"/><circle cx="1103.2" cy="669.6" r="8"/><circle cx="1102.8" cy="669.5" r="8"/><circle cx="1107.2" cy="669.3" r="8"/><circle cx="1052.3" cy="670.9" r="8"/><circle cx="1051" cy="671" r="8"/><circle cx="1055" cy="670.5" r="8"/><circle cx="1104.1" cy="671" r="8"/><circle cx="1107.2" cy="670.9" r="8"/><circle cx="1103.4" cy="670.6" r="8"/><circle cx="1048.7" cy="671.9" r="8"/><circle cx="1049.5" cy="671.3" r="8"/><circle cx="1050.4" cy="671.2" r="8"/><circle cx="1100.6" cy="671.7" r="8"/><circle cx="1105.3" cy="671.9" r="8"/><circle cx="1105.5" cy="671.7" r="8"/><circle cx="1051.5" cy="672.5" r="8"/><circle cx="1050.5" cy="672.8" r="8"/><circle cx="1052.5" cy="672.9" r="8"/><circle cx="1104.1" cy="672.7" r="8"/><circle cx="1105.1" cy="672.4" r="8"/><circle cx="1107" cy="672.2" r="8"/><circle cx="1055.1" cy="673.8" r="8"/><circle cx="1049" cy="673.9" r="8"/><circle cx="1052.4" cy="673.1" r="8"/><circle cx="1108.8" cy="673.8" r="8"/><circle cx="1103" cy="673.1" r="8"/><circle cx="1108.3" cy="673.2" r="8"/><circle cx="1054.2" cy="674.9" r="8"/><circle cx="1057.2" cy="674.1" r="8"/><circle cx="1054" cy="674.6" r="8"/><circle cx="1108.8" cy="674.3" r="8"/><circle cx="1107.5" cy="674.9" r="8"/><circle cx="1100.8" cy="674.4" r="8"/><circle cx="1057.8" cy="675.6" r="8"/><circle cx="1057.7" cy="675.5" r="8"/><circle cx="1051.9" cy="675.4" r="8"/><circle cx="1106.5" cy="675.1" r="8"/><circle cx="1105.4" cy="675.7" r="8"/><circle cx="1103.3" cy="675.6" r="8"/><circle cx="1058" cy="676.6" r="8"/><circle cx="1056.1" cy="676.6" r="8"/><circle cx="1058" cy="676.4" r="8"/><circle cx="1105.3" cy="676.7" r="8"/><circle cx="1103.9" cy="676.2" r="8"/><circle cx="1103" cy="676.7" r="8"/><circle cx="1049.5" cy="677.2" r="8"/><circle cx="1056.9" cy="677" r="8"/><circle cx="1050.9" cy="677.8" r="8"/><circle cx="1105.4" cy="677.2" r="8"/><circle cx="1100.4" cy="677.3" r="8"/><circle cx="1106.5" cy="677.9" r="8"/><circle cx="1056.3" cy="678.3" r="8"/><circle cx="1055.2" cy="678.1" r="8"/><circle cx="1054.3" cy="678.8" r="8"/><circle cx="1107.9" cy="678.1" r="8"/><circle cx="1104.9" cy="678.6" r="8"/><circle cx="1109.1" cy="678.3" r="8"/><circle cx="1057.9" cy="679.4" r="8"/><circle cx="1049.8" cy="679.4" r="8"/><circle cx="1050" cy="680" r="8"/><circle cx="1103.8" cy="679.6" r="8"/><circle cx="1104.5" cy="679.1" r="8"/><circle cx="1102" cy="679.5" r="8"/><circle cx="1054.3" cy="680.7" r="8"/><circle cx="1053.6" cy="680.9" r="8"/><circle cx="1049.3" cy="680.4" r="8"/><circle cx="1099.7" cy="680.3" r="8"/><circle cx="1099.8" cy="680.2" r="8"/><circle cx="1103.3" cy="680.2" r="8"/><circle cx="1057.7" cy="681.9" r="8"/><circle cx="1054.9" cy="681.5" r="8"/><circle cx="1052.4" cy="681.9" r="8"/><circle cx="1102.7" cy="681.4" r="8"/><circle cx="1105.1" cy="681.7" r="8"/><circle cx="1108.6" cy="681.3" r="8"/><circle cx="1050" cy="682.5" r="8"/><circle cx="1054.5" cy="682.4" r="8"/><circle cx="1058.4" cy="682.3" r="8"/><circle cx="1100.5" cy="682.8" r="8"/><circle cx="1104.8" cy="682.6" r="8"/><circle cx="1103.6" cy="682.9" r="8"/><circle cx="1054.6" cy="684" r="8"/><circle cx="1054" cy="683.7" r="8"/><circle cx="1055" cy="683" r="8"/><circle cx="1105" cy="683.3" r="8"/><circle cx="1108.1" cy="683.2" r="8"/><circle cx="1102.3" cy="683.5" r="8"/><circle cx="1055.2" cy="684.8" r="8"/><circle cx="1056.4" cy="684.8" r="8"/><circle cx="1055.8" cy="684.2" r="8"/><circle cx="1107.2" cy="684.7" r="8"/><circle cx="1103.5" cy="684.5" r="8"/><circle cx="1103.9" cy="684.2" r="8"/><circle cx="1056.4" cy="685.5" r="8"/><circle cx="1058.1" cy="685.3" r="8"/><circle cx="1049" cy="685.5" r="8"/><circle cx="1106.7" cy="685.6" r="8"/><circle cx="1101.5" cy="685.1" r="8"/><circle cx="1099.6" cy="685.1" r="8"/><circle cx="1057.8" cy="686.4" r="8"/><circle cx="1049.2" cy="686.7" r="8"/><circle cx="1053.5" cy="686.3" r="8"/><circle cx="1102.1" cy="686.5" r="8"/><circle cx="1101.4" cy="686.3" r="8"/><circle cx="1107.7" cy="686.6" r="8"/><circle cx="1048.9" cy="687.4" r="8"/><circle cx="1056.2" cy="687.5" r="8"/><circle cx="1050.2" cy="687.2" r="8"/><circle cx="1107" cy="687.3" r="8"/><circle cx="1108" cy="687.3" r="8"/><circle cx="1102.7" cy="687.5" r="8"/><circle cx="1057.1" cy="688.2" r="8"/><circle cx="1054.6" cy="688.4" r="8"/><circle cx="1057.1" cy="688.5" r="8"/><circle cx="1101" cy="688.6" r="8"/><circle cx="1100.4" cy="688.4" r="8"/><circle cx="1108" cy="688.4" r="8"/><circle cx="1058.5" cy="689.4" r="8"/><circle cx="1057.3" cy="689.7" r="8"/><circle cx="1058" cy="689.3" r="8"/><circle cx="1105.4" cy="689.8" r="8"/><circle cx="1103.9" cy="689.4" r="8"/><circle cx="1104.5" cy="689.2" r="8"/><circle cx="1051.7" cy="690.9" r="8"/><circle cx="1050.4" cy="691" r="8"/><circle cx="1054.3" cy="690.9" r="8"/><circle cx="1099.6" cy="690.4" r="8"/><circle cx="1108.9" cy="690.5" r="8"/><circle cx="1101.5" cy="690.9" r="8"/><circle cx="1051.1" cy="691.7" r="8"/><circle cx="1051.7" cy="691.8" r="8"/><circle cx="1058" cy="691.9" r="8"/><circle cx="1102.1" cy="691.2" r="8"/><circle cx="1104.1" cy="691.8" r="8"/><circle cx="1101.2" cy="691.7" r="8"/><circle cx="1051.1" cy="692.9" r="8"/><circle cx="1049.1" cy="692" r="8"/><circle cx="1057.2" cy="692.1" r="8"/><circle cx="1100.8" cy="692.9" r="8"/><circle cx="1103.2" cy="692.3" r="8"/><circle cx="1105.9" cy="692" r="8"/><circle cx="1054.3" cy="693" r="8"/><circle cx="1048.7" cy="693.2" r="8"/><circle cx="1056.2" cy="693.4" r="8"/><circle cx="1103.3" cy="693.2" r="8"/><circle cx="1103.8" cy="693" r="8"/><circle cx="1100.4" cy="693.4" r="8"/><circle cx="1051.4" cy="694.5" r="8"/><circle cx="1054.9" cy="694.4" r="8"/><circle cx="1050.6" cy="694.9" r="8"/><circle cx="1103.2" cy="694.2" r="8"/><circle cx="1105.8" cy="694.1" r="8"/><circle cx="1103.7" cy="695" r="8"/><circle cx="1053.1" cy="696" r="8"/><circle cx="1050.5" cy="695.9" r="8"/><circle cx="1057.6" cy="695.3" r="8"/><circle cx="1108.7" cy="695.1" r="8"/><circle cx="1103.6" cy="695" r="8"/><circle cx="1108.5" cy="695.6" r="8"/><circle cx="1056.3" cy="696.5" r="8"/><circle cx="1049.7" cy="696.3" r="8"/><circle cx="1048.6" cy="696.4" r="8"/><circle cx="1105.6" cy="696.5" r="8"/><circle cx="1102.2" cy="696.8" r="8"/><circle cx="1104.1" cy="696.6" r="8"/><circle cx="1051.8" cy="697.9" r="8"/><circle cx="1057.1" cy="697.1" r="8"/><circle cx="1056.4" cy="697.8" r="8"/><circle cx="1106.2" cy="698" r="8"/><circle cx="1100.7" cy="697" r="8"/><circle cx="1104.4" cy="697.3" r="8"/><circle cx="1056.6" cy="698.2" r="8"/><circle cx="1050.7" cy="698.9" r="8"/><circle cx="1050.9" cy="698.5" r="8"/><circle cx="1107.5" cy="698.6" r="8"/><circle cx="1107.2" cy="698" r="8"/><circle cx="1104.4" cy="698.2" r="8"/><circle cx="1057.8" cy="699.9" r="8"/><circle cx="1052.6" cy="699.8" r="8"/><circle cx="1049.3" cy="699.7" r="8"/><circle cx="1102.3" cy="699.3" r="8"/><circle cx="1104.9" cy="699.6" r="8"/><circle cx="1103.9" cy="699.6" r="8"/><circle cx="1048.9" cy="700.2" r="8"/><circle cx="1051.8" cy="700.5" r="8"/><circle cx="1056.4" cy="700.2" r="8"/><circle cx="1104.5" cy="700.3" r="8"/><circle cx="1107.1" cy="700.4" r="8"/><circle cx="1108.8" cy="700.7" r="8"/><circle cx="1051.9" cy="701.7" r="8"/><circle cx="1052" cy="701.2" r="8"/><circle cx="1052.1" cy="701.2" r="8"/><circle cx="1101" cy="701.3" r="8"/><circle cx="1105.1" cy="701.2" r="8"/><circle cx="1108.8" cy="701.4" r="8"/><circle cx="1052.2" cy="702.4" r="8"/><circle cx="1057.5" cy="702.8" r="8"/><circle cx="1053.3" cy="702.2" r="8"/><circle cx="1105" cy="702" r="8"/><circle cx="1103.6" cy="702.9" r="8"/><circle cx="1107.7" cy="702.3" r="8"/><circle cx="1051.8" cy="703.2" r="8"/><circle cx="1053" cy="703.5" r="8"/><circle cx="1057.2" cy="703.4" r="8"/><circle cx="1106.2" cy="703.8" r="8"/><circle cx="1109.3" cy="703.1" r="8"/><circle cx="1108.1" cy="703.3" r="8"/><circle cx="1054.8" cy="704" r="8"/><circle cx="1054.8" cy="704.1" r="8"/><circle cx="1051.6" cy="704.3" r="8"/><circle cx="1107.4" cy="704.8" r="8"/><circle cx="1103.3" cy="704.5" r="8"/><circle cx="1106.2" cy="704.8" r="8"/><circle cx="1053.7" cy="705.3" r="8"/><circle cx="1050.8" cy="705.3" r="8"/><circle cx="1053.4" cy="705.8" r="8"/><circle cx="1099.7" cy="706" r="8"/><circle cx="1105.9" cy="705.8" r="8"/><circle cx="1105.4" cy="705.4" r="8"/><circle cx="1051.7" cy="706.3" r="8"/><circle cx="1052.4" cy="706.9" r="8"/><circle cx="1048.9" cy="706.7" r="8"/><circle cx="1100.6" cy="706.5" r="8"/><circle cx="1104" cy="706.7" r="8"/><circle cx="1103.8" cy="706.4" r="8"/><circle cx="1051.9" cy="707.8" r="8"/><circle cx="1053.1" cy="707.1" r="8"/><circle cx="1054.7" cy="707.2" r="8"/><circle cx="1099.9" cy="707.9" r="8"/><circle cx="1100.8" cy="708" r="8"/><circle cx="1109" cy="707.9" r="8"/><circle cx="1049.7" cy="708" r="8"/><circle cx="1056.7" cy="708.5" r="8"/><circle cx="1050.7" cy="708.5" r="8"/><circle cx="1100.1" cy="708.4" r="8"/><circle cx="1101.2" cy="708.6" r="8"/><circle cx="1105.9" cy="708.9" r="8"/><circle cx="1055.1" cy="709.3" r="8"/><circle cx="1056.6" cy="709.1" r="8"/><circle cx="1049" cy="709.3" r="8"/><circle cx="1102.4" cy="710" r="8"/><circle cx="1102.5" cy="709.4" r="8"/><circle cx="1108.4" cy="709.3" r="8"/><circle cx="1058.1" cy="710.5" r="8"/><circle cx="1058.1" cy="710.8" r="8"/><circle cx="1049.3" cy="710.2" r="8"/><circle cx="1103.8" cy="710.8" r="8"/><circle cx="1099.4" cy="710.2" r="8"/><circle cx="1100" cy="711" r="8"/><circle cx="1054.7" cy="711.3" r="8"/><circle cx="1052.7" cy="711.2" r="8"/><circle cx="1051.9" cy="711.2" r="8"/><circle cx="1104.4" cy="711.7" r="8"/><circle cx="1108.5" cy="711.6" r="8"/><circle cx="1105.6" cy="711.3" r="8"/><circle cx="1053.8" cy="712.9" r="8"/><circle cx="1055.7" cy="712.4" r="8"/><circle cx="1055.5" cy="712" r="8"/><circle cx="1101.7" cy="712.2" r="8"/><circle cx="1107.5" cy="712" r="8"/><circle cx="1101.1" cy="713" r="8"/><circle cx="1056" cy="713.8" r="8"/><circle cx="1051.1" cy="713.4" r="8"/><circle cx="1051" cy="713.8" r="8"/><circle cx="1106.3" cy="713.7" r="8"/><circle cx="1103.6" cy="713.6" r="8"/><circle cx="1102.1" cy="713.7" r="8"/><circle cx="1058.3" cy="715" r="8"/><circle cx="1056.9" cy="714.1" r="8"/><circle cx="1057.1" cy="714.2" r="8"/><circle cx="1103.5" cy="714.3" r="8"/><circle cx="1104.7" cy="714.7" r="8"/><circle cx="1105.1" cy="714.7" r="8"/><circle cx="1058.3" cy="715.3" r="8"/><circle cx="1056.6" cy="715.3" r="8"/><circle cx="1057" cy="715.3" r="8"/><circle cx="1108" cy="715.8" r="8"/><circle cx="1106.6" cy="715.6" r="8"/><circle cx="1109.4" cy="715.4" r="8"/><circle cx="1056.3" cy="716.9" r="8"/><circle cx="1057.8" cy="716.3" r="8"/><circle cx="1055.9" cy="716.4" r="8"/><circle cx="1105.5" cy="716.1" r="8"/><circle cx="1108.8" cy="716.2" r="8"/><circle cx="1102.3" cy="716.5" r="8"/><circle cx="1055" cy="717.7" r="8"/><circle cx="1055.7" cy="717.1" r="8"/><circle cx="1058.1" cy="717.3" r="8"/><circle cx="1107.2" cy="717.3" r="8"/><circle cx="1105.3" cy="717.3" r="8"/><circle cx="1101.4" cy="717.3" r="8"/><circle cx="1052.2" cy="718.9" r="8"/><circle cx="1058" cy="718.1" r="8"/><circle cx="1057.7" cy="718.4" r="8"/><circle cx="1100.7" cy="718.9" r="8"/><circle cx="1101.5" cy="718.2" r="8"/><circle cx="1105.3" cy="718.5" r="8"/><circle cx="1048.8" cy="719.2" r="8"/><circle cx="1054.5" cy="719.6" r="8"/><circle cx="1054.3" cy="719.1" r="8"/><circle cx="1107.3" cy="719.7" r="8"/><circle cx="1101.1" cy="719.6" r="8"/><circle cx="1107" cy="719.7" r="8"/><circle cx="1051.3" cy="720.4" r="8"/><circle cx="1052.8" cy="720.6" r="8"/><circle cx="1054.5" cy="720" r="8"/><circle cx="1101.6" cy="720.4" r="8"/><circle cx="1105.6" cy="720.2" r="8"/><circle cx="1103.8" cy="720.6" r="8"/><circle cx="1049.7" cy="721.5" r="8"/><circle cx="1051.6" cy="721.1" r="8"/><circle cx="1055.4" cy="722" r="8"/><circle cx="1108.5" cy="721" r="8"/><circle cx="1102.7" cy="721.7" r="8"/><circle cx="1101.1" cy="721.2" r="8"/><circle cx="1050.5" cy="722.7" r="8"/><circle cx="1058.6" cy="722" r="8"/><circle cx="1054.5" cy="722.8" r="8"/><circle cx="1102.4" cy="722.8" r="8"/><circle cx="1099.6" cy="722.3" r="8"/><circle cx="1099.9" cy="722" r="8"/><circle cx="1054.5" cy="723.9" r="8"/><circle cx="1057.7" cy="723.2" r="8"/><circle cx="1054.6" cy="723.7" r="8"/><circle cx="1109" cy="723.9" r="8"/><circle cx="1105.7" cy="723.8" r="8"/><circle cx="1101.2" cy="723.2" r="8"/><circle cx="1056.1" cy="724.7" r="8"/><circle cx="1052" cy="724.8" r="8"/><circle cx="1048.7" cy="724.5" r="8"/><circle cx="1100.6" cy="725" r="8"/><circle cx="1099.8" cy="724.4" r="8"/><circle cx="1103.6" cy="724.4" r="8"/><circle cx="1055" cy="725.8" r="8"/><circle cx="1054.6" cy="725.1" r="8"/><circle cx="1056.2" cy="725.9" r="8"/><circle cx="1104.6" cy="725.2" r="8"/><circle cx="1108.9" cy="725.1" r="8"/><circle cx="1101.2" cy="725" r="8"/><circle cx="1052.2" cy="726.5" r="8"/><circle cx="1050.5" cy="726.5" r="8"/><circle cx="1058.3" cy="726.2" r="8"/><circle cx="1105.9" cy="726.4" r="8"/><circle cx="1103.8" cy="726.7" r="8"/><circle cx="1108.1" cy="726" r="8"/><circle cx="1057.6" cy="727.6" r="8"/><circle cx="1050.8" cy="727.6" r="8"/><circle cx="1050.7" cy="727.7" r="8"/><circle cx="1106.4" cy="727.4" r="8"/><circle cx="1099.8" cy="727.3" r="8"/><circle cx="1106.6" cy="727.3" r="8"/><circle cx="1058" cy="728.3" r="8"/><circle cx="1052.6" cy="729" r="8"/><circle cx="1058.2" cy="728" r="8"/><circle cx="1103.6" cy="728.8" r="8"/><circle cx="1108.1" cy="728.4" r="8"/><circle cx="1100.2" cy="729" r="8"/><circle cx="1058.1" cy="729.2" r="8"/><circle cx="1052.5" cy="729.1" r="8"/><circle cx="1052.5" cy="729.2" r="8"/><circle cx="1106.4" cy="729.1" r="8"/><circle cx="1106.7" cy="729.2" r="8"/><circle cx="1106.5" cy="729.9" r="8"/><circle cx="1051.2" cy="730.1" r="8"/><circle cx="1054.4" cy="730.3" r="8"/><circle cx="1053.5" cy="730.6" r="8"/><circle cx="1100.5" cy="730.5" r="8"/><circle cx="1099.5" cy="730" r="8"/><circle cx="1108.3" cy="730.4" r="8"/><circle cx="1050.6" cy="731.6" r="8"/><circle cx="1056.8" cy="731.4" r="8"/><circle cx="1050.6" cy="732" r="8"/><circle cx="1105.8" cy="731.4" r="8"/><circle cx="1106.7" cy="731.3" r="8"/><circle cx="1103.9" cy="731.9" r="8"/><circle cx="1049.4" cy="732.1" r="8"/><circle cx="1058.1" cy="732.4" r="8"/><circle cx="1058.1" cy="732.2" r="8"/><circle cx="1104.8" cy="732.1" r="8"/><circle cx="1107.9" cy="732.1" r="8"/><circle cx="1109.4" cy="732.9" r="8"/><circle cx="1058.5" cy="733.8" r="8"/><circle cx="1057.5" cy="733.1" r="8"/><circle cx="1053.8" cy="733.1" r="8"/><circle cx="1103.8" cy="733.8" r="8"/><circle cx="1101" cy="733.2" r="8"/><circle cx="1103.4" cy="733.5" r="8"/><circle cx="1057.7" cy="734.9" r="8"/><circle cx="1053.5" cy="734.2" r="8"/><circle cx="1056.2" cy="734.7" r="8"/><circle cx="1103.9" cy="734.6" r="8"/><circle cx="1107.2" cy="735" r="8"/><circle cx="1102" cy="734.4" r="8"/><circle cx="1050.7" cy="735.6" r="8"/><circle cx="1056.4" cy="735.4" r="8"/><circle cx="1057.9" cy="735.2" r="8"/><circle cx="1100.4" cy="735.5" r="8"/><circle cx="1108.9" cy="735.2" r="8"/><circle cx="1107.6" cy="735" r="8"/><circle cx="1052.8" cy="736.8" r="8"/><circle cx="1054.4" cy="736.6" r="8"/><circle cx="1050.6" cy="736.1" r="8"/><circle cx="1099.9" cy="736.4" r="8"/><circle cx="1099.8" cy="736.6" r="8"/><circle cx="1104.9" cy="736.6" r="8"/><circle cx="1049.2" cy="737.7" r="8"/><circle cx="1057.5" cy="737.1" r="8"/><circle cx="1051.9" cy="737.8" r="8"/><circle cx="1103.6" cy="738" r="8"/><circle cx="1102.5" cy="737.2" r="8"/><circle cx="1107.4" cy="737.1" r="8"/><circle cx="1054" cy="738.9" r="8"/><circle cx="1053.3" cy="738.7" r="8"/><circle cx="1048.7" cy="738.6" r="8"/><circle cx="1102.4" cy="738.2" r="8"/><circle cx="1101.3" cy="738.6" r="8"/><circle cx="1105.4" cy="738.4" r="8"/><circle cx="1058.4" cy="739.8" r="8"/><circle cx="1054.4" cy="739.9" r="8"/><circle cx="1048.7" cy="739.8" r="8"/><circle cx="1107.3" cy="739.9" r="8"/><circle cx="1107.1" cy="739.8" r="8"/><circle cx="1107.9" cy="739.4" r="8"/><circle cx="1052.4" cy="740.1" r="8"/><circle cx="1051.4" cy="740.5" r="8"/><circle cx="1106.6" cy="740.9" r="8"/><circle cx="1102.4" cy="740.9" r="8"/><circle cx="1107.5" cy="740.8" r="8"/><circle cx="1056.1" cy="741.8" r="8"/><circle cx="1053.6" cy="741.3" r="8"/><circle cx="1108.8" cy="741.9" r="8"/><circle cx="1108.5" cy="741.8" r="8"/><circle cx="1053.3" cy="742.7" r="8"/><circle cx="1057.5" cy="742.6" r="8"/><circle cx="1106.8" cy="742.6" r="8"/><circle cx="1105.8" cy="742.6" r="8"/><circle cx="1057.5" cy="743.3" r="8"/><circle cx="1050" cy="743.7" r="8"/><circle cx="1053.6" cy="743.9" r="8"/><circle cx="1104.4" cy="743.1" r="8"/><circle cx="1109" cy="743.4" r="8"/><circle cx="1058.3" cy="744.4" r="8"/><circle cx="1054.7" cy="744.9" r="8"/><circle cx="1106.5" cy="744" r="8"/><circle cx="1107.9" cy="744.6" r="8"/><circle cx="1055.2" cy="745.9" r="8"/><circle cx="1049.6" cy="745.6" r="8"/><circle cx="1101.6" cy="745.1" r="8"/><circle cx="1105.4" cy="745.5" r="8"/><circle cx="1053.4" cy="746.6" r="8"/><circle cx="1108.6" cy="746.8" r="8"/><circle cx="1102.3" cy="746.4" r="8"/><circle cx="1050.4" cy="747.4" r="8"/><circle cx="1102.9" cy="747.2" r="8"/><circle cx="1101" cy="747.6" r="8"/><circle cx="1053.8" cy="748.7" r="8"/><circle cx="1101.6" cy="748.1" r="8"/><circle cx="1057.6" cy="749.2" r="8"/><circle cx="1105.5" cy="749.2" r="8"/><circle cx="1050.6" cy="750.9" r="8"/><circle cx="1099.8" cy="751" r="8"/><circle cx="1102.7" cy="750.7" r="8"/><circle cx="1067.2" cy="769.4" r="8"/><circle cx="1065.7" cy="768.7" r="8"/><circle cx="1068.7" cy="770.2" r="8"/><circle cx="1067.2" cy="767.9" r="8"/><circle cx="1078.4" cy="771.7" r="8"/><circle cx="1087.3" cy="769.4" r="8"/><circle cx="1093.2" cy="770.2" r="8"/><circle cx="1097" cy="767.2" r="8"/><circle cx="1107.4" cy="764.2" r="8"/><circle cx="1104.4" cy="765.7" r="8"/><circle cx="1087.3" cy="765.7" r="8"/><circle cx="1058" cy="761" r="8"/><circle cx="1050" cy="757" r="8"/><circle cx="1081.6" cy="350.4" r="8"/><circle cx="1062.5" cy="356.4" r="8"/><circle cx="1086.8" cy="375.9" r="8"/><circle cx="1073.2" cy="381.1" r="8"/><circle cx="1104.2" cy="381.1" r="8"/><circle cx="1105.5" cy="382.7" r="8"/><circle cx="1086.3" cy="383.2" r="8"/><circle cx="1061.3" cy="389" r="8"/><circle cx="1060.2" cy="390.5" r="8"/><circle cx="1054.5" cy="393.6" r="8"/><circle cx="1055.5" cy="393" r="8"/><circle cx="1088.3" cy="394.2" r="8"/><circle cx="1084.2" cy="389" r="8"/><circle cx="1073.2" cy="401.5" r="8"/><circle cx="1081.6" cy="404.1" r="8"/><circle cx="1056.6" cy="406.7" r="8"/><circle cx="1060.7" cy="405.6" r="8"/><circle cx="1102.4" cy="409.3" r="8"/><circle cx="1104.5" cy="412.9" r="8"/><circle cx="1089.9" cy="416.6" r="8"/><circle cx="1096.7" cy="415" r="8"/><circle cx="1056.6" cy="421.3" r="8"/><circle cx="1054" cy="427.5" r="8"/><circle cx="1100.8" cy="429.6" r="8"/><circle cx="1092.5" cy="428.5" r="8"/><circle cx="1088.3" cy="426.5" r="8"/><circle cx="1066.5" cy="430.6" r="8"/><circle cx="1105.6" cy="442.3" r="8"/>
</g>
<rect x="1049.6" y="543" width="58.8" height="202" fill="#7570B3"/>
<g stroke="#333" stroke-width="2" fill="none" shape-rendering="crispEdges">
<path d="M339,575V649M339,698V765.5"/>
<rect x="284" y="649" width="111" height="49" fill="#fff" fill-opacity=".2"/>
<path d="M284,681.5H395" stroke-width="5"/>
</g>
<g stroke="#333" stroke-width="2" fill="none" shape-rendering="crispEdges">
<path d="M708,550V642M708,704V768"/>
<rect x="653" y="642" width="111" height="62" fill="#fff" fill-opacity=".2"/>
<path d="M653,678.5H764" stroke-width="5"/>
</g>
<g stroke="#333" stroke-width="2" fill="none" shape-rendering="crispEdges">
<path d="M1078,557.5V649M1078,709V769"/>
<rect x="1023" y="649" width="111" height="60" fill="#fff" fill-opacity=".2"/>
<path d="M1023,687.5H1134" stroke-width="5"/>
</g>
<path d="M338.9,353 338.9,355 338.9,357 338.9,359 338.9,361 338.9,363 338.9,365 338.9,367 338.9,369 338.9,371 338.9,373 338.9,375 338.9,377 338.9,379 338.9,381 338.9,383 338.9,385 338.9,387 338.9,389 338.9,391 338.9,393 338.9,395 338.9,397 338.9,399 338.8,401 338.8,403 338.8,405 338.8,407 338.8,409 338.8,411 338.8,413 338.8,415 338.8,417 338.8,419 338.8,421 338.8,423 338.8,425 338.8,427 338.8,429 338.8,431 338.7,433 338.7,435 338.7,437 338.7,439 338.4,441 338.1,443 337.8,445 337.5,447 337.1,449 336.8,451 336.6,453 336.5,455 336.4,457 336.2,459 336.1,461 336.1,463 336,465 335.9,467 335.9,469 335.8,471 335.8,473 335.8,475 335.7,477 335.7,479 335.7,481 335.7,483 335.6,485 335.6,487 335.6,489 335.6,491 335.6,493 335.6,495 335.5,497 335.5,499 335.5,501 335.5,503 335.5,505 335.4,507 335.4,509 335.4,511 335.3,513 335.3,515 335.2,517 335.2,519 335.1,521 335,523 334.9,525 334.8,527 334.6,529 334.5,531 334.4,533 334.3,535 334.2,537 334.1,539 334.1,541 334,543 334,545 334,547 334,549 334.1,551 334.2,553 334.2,555 334.3,557 334.3,559 334.4,561 334.4,563 334.4,565 334.5,567 334.5,569 334.5,571 334.5,573 334.5,575 334.6,577 334.6,579 334.6,581 334.6,583 334.6,585 334.6,587 334.4,589 334.1,591 333.7,593 333.2,595 332.7,597 332.1,599 331.9,600 331.4,601.5 330.9,603 330.3,604.5 329.6,606 328.9,607.5 328.2,609 327.4,610.5 326.6,612 325.8,613.5 324.9,615 324.1,616.5 323.2,618 322.3,619.5 321.2,621 320.1,622.5 319,624 317.8,625.5 316.6,627 315.4,628.5 314.2,630 313.1,631.5 312,633 310.9,634.5 309.8,636 308.8,637.5 307.8,639 306.8,640.5 305.8,642 304.8,643.5 303.7,645 302.7,646.5 301.7,648 300.6,649.5 299.7,651 298.7,652.5 297.8,654 296.8,655.5 295.7,657 294.6,658.5 293.3,660 291.9,661.5 290.3,663 288.6,664.5 286.6,666 284.5,667.5 282.3,669 280,670.5 277.4,672 274.5,673.5 271.4,675 268.2,676.5 265,678 261.9,679.5 258.7,681 255.2,682.5 251.9,684 249.3,685.5 247.8,687 246.6,688.5 246.1,690 246.4,691.5 247.2,693 248.3,694.5 249.6,696 251.5,697.5 253.9,699 256.4,700.5 258.9,702 261.5,703.5 264.4,705 267.6,706.5 271.2,708 275.5,709.5 280.5,711 285.6,712.5 290.8,714 296.2,715.5 301,717 304.9,718.5 308.4,720 311.5,721.5 314.2,723 316.6,724.5 318.8,726 320.8,727.5 322.7,729 324.4,730.5 326,732 327.6,733.5 329,735 330.3,736.5 331.6,738 332.6,739.5 333.5,741 334.4,742.5 335.3,744 336,745.5 336.6,747 337,748.5 337.3,750 337.5,751.5 337.8,753 338,754.5 338.1,756 338.2,757.5 338.4,759 338.5,760.5 338.6,762 338.6,763.5 338.7,765 338.7,766.5 339.3,766.5 339.3,765 339.4,763.5 339.4,762 339.5,760.5 339.6,759 339.8,757.5 339.9,756 340,754.5 340.2,753 340.5,751.5 340.7,750 341,748.5 341.4,747 342,745.5 342.7,744 343.6,742.5 344.5,741 345.4,739.5 346.4,738 347.7,736.5 349,735 350.4,733.5 352,732 353.6,730.5 355.3,729 357.2,727.5 359.2,726 361.4,724.5 363.8,723 366.5,721.5 369.6,720 373.1,718.5 377,717 381.8,715.5 387.2,714 392.4,712.5 397.5,711 402.5,709.5 406.8,708 410.4,706.5 413.6,705 416.5,703.5 419.1,702 421.6,700.5 424.1,699 426.5,697.5 428.4,696 429.7,694.5 430.8,693 431.6,691.5 431.9,690 431.4,688.5 430.2,687 428.7,685.5 426.1,684 422.8,682.5 419.3,681 416.1,679.5 413,678 409.8,676.5 406.6,675 403.5,673.5 400.6,672 398,670.5 395.7,669 393.5,667.5 391.4,666 389.4,664.5 387.7,663 386.1,661.5 384.7,660 383.4,658.5 382.3,657 381.2,655.5 380.2,654 379.3,652.5 378.3,651 377.4,649.5 376.3,648 375.3,646.5 374.3,645 373.2,643.5 372.2,642 371.2,640.5 370.2,639 369.2,637.5 368.2,636 367.1,634.5 366,633 364.9,631.5 363.8,630 362.6,628.5 361.4,627 360.2,625.5 359,624 357.9,622.5 356.8,621 355.7,619.5 354.8,618 353.9,616.5 353.1,615 352.2,613.5 351.4,612 350.6,610.5 349.8,609 349.1,607.5 348.4,606 347.7,604.5 347.1,603 346.6,601.5 346.1,600 345.9,599 345.3,597 344.8,595 344.3,593 343.9,591 343.6,589 343.4,587 343.4,585 343.4,583 343.4,581 343.4,579 343.4,577 343.5,575 343.5,573 343.5,571 343.5,569 343.5,567 343.6,565 343.6,563 343.6,561 343.7,559 343.7,557 343.8,555 343.8,553 343.9,551 344,549 344,547 344,545 344,543 343.9,541 343.9,539 343.8,537 343.7,535 343.6,533 343.5,531 343.4,529 343.2,527 343.1,525 343,523 342.9,521 342.8,519 342.8,517 342.7,515 342.7,513 342.6,511 342.6,509 342.6,507 342.5,505 342.5,503 342.5,501 342.5,499 342.5,497 342.4,495 342.4,493 342.4,491 342.4,489 342.4,487 342.4,485 342.3,483 342.3,481 342.3,479 342.3,477 342.2,475 342.2,473 342.2,471 342.1,469 342.1,467 342,465 341.9,463 341.9,461 341.8,459 341.6,457 341.5,455 341.4,453 341.2,451 340.9,449 340.5,447 340.2,445 339.9,443 339.6,441 339.3,439 339.3,437 339.3,435 339.3,433 339.2,431 339.2,429 339.2,427 339.2,425 339.2,423 339.2,421 339.2,419 339.2,417 339.2,415 339.2,413 339.2,411 339.2,409 339.2,407 339.2,405 339.2,403 339.2,401 339.1,399 339.1,397 339.1,395 339.1,393 339.1,391 339.1,389 339.1,387 339.1,385 339.1,383 339.1,381 339.1,379 339.1,377 339.1,375 339.1,373 339.1,371 339.1,369 339.1,367 339.1,365 339.1,363 339.1,361 339.1,359 339.1,357 339.1,355 339.1,353Z" fill="#fff" fill-opacity=".2" stroke="#2e2e2e" stroke-width="2.2" stroke-linejoin="round"/>
<path d="M707.7,273.5 707.7,275.5 707.7,277.5 707.7,279.5 707.7,281.5 707.7,283.5 707.7,285.5 707.7,287.5 707.7,289.5 707.7,291.5 707.7,293.5 707.7,295.5 707.7,297.5 707.7,299.5 707.7,301.5 707.7,303.5 707.7,305.5 707.7,307.5 707.7,309.5 707.7,311.5 707.7,313.5 707.7,315.5 707.7,317.5 707.7,319.5 707.7,321.5 707.7,323.5 707.7,325.5 707.7,327.5 707.7,329.5 707.7,331.5 707.7,333.5 707.7,335.5 707.7,337.5 707.7,339.5 707.7,341.5 707.7,343.5 707.7,345.5 707.7,347.5 707.7,349.5 707.7,351.5 707.7,353.5 707.7,355.5 707.7,357.5 707.7,359.5 707.7,361.5 707.7,363.5 707.7,365.5 707.7,367.5 707.7,369.5 707.7,371.5 707.7,373.5 707.7,375.5 707.7,377.5 707.7,379.5 707.7,381.5 707.7,383.5 707.7,385.5 707.7,387.5 707.7,389.5 707.7,391.5 707.7,393.5 707.7,395.5 707.7,397.5 707.7,399.5 707.7,401.5 707.7,403.5 707.7,405.5 707.7,407.5 707.7,409.5 707.7,411.5 707.7,413.5 707.7,415.5 707.7,417.5 707.7,419.5 707.7,421.5 707.7,423.5 707.7,425.5 707.7,427.5 707.7,429.5 707.7,431.5 707.7,433.5 707.6,435.5 707.3,437.5 707.1,439.5 706.8,441.5 706.6,443.5 706.4,445.5 706.2,447.5 706,449.5 705.7,451.5 705.5,453.5 705.2,455.5 705,457.5 704.7,459.5 704.4,461.5 704.2,463.5 703.9,465.5 703.7,467.5 703.5,469.5 703.3,471.5 703.2,473.5 703,475.5 702.9,477.5 702.8,479.5 702.6,481.5 702.5,483.5 702.4,485.5 702.2,487.5 702.1,489.5 702,491.5 702,493.5 701.9,495.5 701.8,497.5 701.8,499.5 701.8,501.5 701.8,503.5 701.8,505.5 701.8,507.5 701.8,509.5 701.8,511.5 701.9,513.5 701.9,515.5 702,517.5 702,519.5 702.1,521.5 702.1,523.5 702.1,525.5 702.2,527.5 702.2,529.5 702.2,531.5 702.3,533.5 702.3,535.5 702.4,537.5 702.4,539.5 702.4,541.5 702.5,543.5 702.5,545.5 702.5,547.5 702.5,549.5 702.5,551.5 702.4,553.5 702.3,555.5 702.2,557.5 702.1,559.5 701.9,561.5 701.8,563.5 701.6,565.5 701.4,567.5 701.2,569.5 701,571.5 700.8,573.5 700.6,575.5 700.5,577.5 700.3,579.5 700.1,581.5 699.9,583.5 699.7,585.5 699.4,587.5 699.2,589.5 698.9,591.5 698.6,593.5 698.3,595.5 698,597.5 697.7,599.5 697.6,600 697.3,601.5 696.9,603 696.6,604.5 696.2,606 695.8,607.5 695.4,609 695,610.5 694.5,612 694,613.5 693.5,615 693,616.5 692.4,618 691.8,619.5 691.1,621 690.3,622.5 689.4,624 688.5,625.5 687.5,627 686.5,628.5 685.5,630 684.4,631.5 683.4,633 682.4,634.5 681.5,636 680.5,637.5 679.6,639 678.6,640.5 677.6,642 676.5,643.5 675.4,645 674.2,646.5 672.9,648 671.5,649.5 670,651 668.4,652.5 666.8,654 664.9,655.5 662.8,657 660.6,658.5 658.8,660 657.6,661.5 656.7,663 655.9,664.5 655.2,666 654.7,667.5 654.3,669 654,670.5 653.8,672 653.7,673.5 653.5,675 653.4,676.5 653.2,678 653,679.5 652.7,681 652.1,682.5 651,684 649.8,685.5 648.5,687 647.4,688.5 646.2,690 644.9,691.5 643.6,693 642.6,694.5 641.9,696 641.3,697.5 640.8,699 640.5,700.5 640.5,702 640.9,703.5 641.4,705 642.1,706.5 643,708 644.1,709.5 645.8,711 647.8,712.5 649.8,714 652,715.5 654.5,717 657.2,718.5 660,720 662.8,721.5 665.6,723 668.3,724.5 671,726 673.7,727.5 676.4,729 679.1,730.5 681.6,732 684.1,733.5 686.6,735 689,736.5 691.2,738 693.2,739.5 695,741 696.7,742.5 698.3,744 699.8,745.5 701.1,747 702.2,748.5 703.3,750 704.4,751.5 705.3,753 706,754.5 706.4,756 706.6,757.5 706.9,759 707.1,760.5 707.3,762 707.5,763.5 707.6,765 707.7,766.5 707.7,768 707.7,768.5 708.3,768.5 708.3,768 708.3,766.5 708.4,765 708.5,763.5 708.7,762 708.9,760.5 709.1,759 709.4,757.5 709.6,756 710,754.5 710.7,753 711.6,751.5 712.7,750 713.8,748.5 714.9,747 716.2,745.5 717.7,744 719.3,742.5 721,741 722.8,739.5 724.8,738 727,736.5 729.4,735 731.9,733.5 734.4,732 736.9,730.5 739.6,729 742.3,727.5 745,726 747.7,724.5 750.4,723 753.2,721.5 756,720 758.8,718.5 761.5,717 764,715.5 766.2,714 768.2,712.5 770.2,711 771.9,709.5 773,708 773.9,706.5 774.6,705 775.1,703.5 775.5,702 775.5,700.5 775.2,699 774.7,697.5 774.1,696 773.4,694.5 772.4,693 771.1,691.5 769.8,690 768.6,688.5 767.5,687 766.2,685.5 765,684 763.9,682.5 763.3,681 763,679.5 762.8,678 762.6,676.5 762.5,675 762.3,673.5 762.2,672 762,670.5 761.7,669 761.3,667.5 760.8,666 760.1,664.5 759.3,663 758.4,661.5 757.2,660 755.4,658.5 753.2,657 751.1,655.5 749.2,654 747.6,652.5 746,651 744.5,649.5 743.1,648 741.8,646.5 740.6,645 739.5,643.5 738.4,642 737.4,640.5 736.4,639 735.5,637.5 734.5,636 733.6,634.5 732.6,633 731.6,631.5 730.5,630 729.5,628.5 728.5,627 727.5,625.5 726.6,624 725.7,622.5 724.9,621 724.2,619.5 723.6,618 723,616.5 722.5,615 722,613.5 721.5,612 721,610.5 720.6,609 720.2,607.5 719.8,606 719.4,604.5 719.1,603 718.7,601.5 718.4,600 718.3,599.5 718,597.5 717.7,595.5 717.4,593.5 717.1,591.5 716.8,589.5 716.6,587.5 716.3,585.5 716.1,583.5 715.9,581.5 715.7,579.5 715.5,577.5 715.4,575.5 715.2,573.5 715,571.5 714.8,569.5 714.6,567.5 714.4,565.5 714.2,563.5 714.1,561.5 713.9,559.5 713.8,557.5 713.7,555.5 713.6,553.5 713.5,551.5 713.5,549.5 713.5,547.5 713.5,545.5 713.5,543.5 713.6,541.5 713.6,539.5 713.6,537.5 713.7,535.5 713.7,533.5 713.8,531.5 713.8,529.5 713.8,527.5 713.9,525.5 713.9,523.5 713.9,521.5 714,519.5 714,517.5 714.1,515.5 714.1,513.5 714.2,511.5 714.2,509.5 714.2,507.5 714.2,505.5 714.2,503.5 714.2,501.5 714.2,499.5 714.2,497.5 714.1,495.5 714,493.5 714,491.5 713.9,489.5 713.8,487.5 713.6,485.5 713.5,483.5 713.4,481.5 713.2,479.5 713.1,477.5 713,475.5 712.8,473.5 712.7,471.5 712.5,469.5 712.3,467.5 712.1,465.5 711.8,463.5 711.6,461.5 711.3,459.5 711,457.5 710.8,455.5 710.5,453.5 710.3,451.5 710,449.5 709.8,447.5 709.6,445.5 709.4,443.5 709.2,441.5 708.9,439.5 708.7,437.5 708.4,435.5 708.3,433.5 708.3,431.5 708.3,429.5 708.3,427.5 708.3,425.5 708.3,423.5 708.3,421.5 708.3,419.5 708.3,417.5 708.3,415.5 708.3,413.5 708.3,411.5 708.3,409.5 708.3,407.5 708.3,405.5 708.3,403.5 708.3,401.5 708.3,399.5 708.3,397.5 708.3,395.5 708.3,393.5 708.3,391.5 708.3,389.5 708.3,387.5 708.3,385.5 708.3,383.5 708.3,381.5 708.3,379.5 708.3,377.5 708.3,375.5 708.3,373.5 708.3,371.5 708.3,369.5 708.3,367.5 708.3,365.5 708.3,363.5 708.3,361.5 708.3,359.5 708.3,357.5 708.3,355.5 708.3,353.5 708.3,351.5 708.3,349.5 708.3,347.5 708.3,345.5 708.3,343.5 708.3,341.5 708.3,339.5 708.3,337.5 708.3,335.5 708.3,333.5 708.3,331.5 708.3,329.5 708.3,327.5 708.3,325.5 708.3,323.5 708.3,321.5 708.3,319.5 708.3,317.5 708.3,315.5 708.3,313.5 708.3,311.5 708.3,309.5 708.3,307.5 708.3,305.5 708.3,303.5 708.3,301.5 708.3,299.5 708.3,297.5 708.3,295.5 708.3,293.5 708.3,291.5 708.3,289.5 708.3,287.5 708.3,285.5 708.3,283.5 708.3,281.5 708.3,279.5 708.3,277.5 708.3,275.5 708.3,273.5Z" fill="#fff" fill-opacity=".2" stroke="#2e2e2e" stroke-width="2.2" stroke-linejoin="round"/>
<path d="M1077.6,350 1077.6,352 1077.6,354 1077.6,356 1077.6,358 1077.6,360 1077.6,362 1077.6,364 1077.6,366 1077.6,368 1077.6,370 1077.6,372 1077.6,374 1077.6,376 1077.6,378 1077.6,380 1077.6,382 1077.6,384 1077.6,386 1077.6,388 1077.6,390 1077.6,392 1077.6,394 1077.6,396 1077.6,398 1077.6,400 1077.6,402 1077.6,404 1077.6,406 1077.6,408 1077.6,410 1077.6,412 1077.6,414 1077.6,416 1077.6,418 1077.6,420 1077.6,422 1077.6,424 1077.6,426 1077.6,428 1077.6,430 1077.6,432 1077.6,434 1077.6,436 1077.6,438 1077.6,440 1077.6,442 1077.6,444 1077.6,446 1077.6,448 1077.6,450 1077.6,452 1077.6,454 1077.6,456 1077.6,458 1077.6,460 1077.6,462 1077.2,464 1076.7,466 1076.7,468 1076.7,470 1076.7,472 1076.7,474 1076.7,476 1076.7,478 1076.7,480 1076.7,482 1076.7,484 1076.7,486 1077.2,488 1077.6,490 1077.6,492 1077.6,494 1077.6,496 1077.6,498 1077.5,500 1076.9,502 1076.5,504 1076.1,506 1075.8,508 1075.5,510 1075.2,512 1074.9,514 1074.7,516 1074.5,518 1074.3,520 1074.1,522 1073.9,524 1073.7,526 1073.6,528 1073.4,530 1073.2,532 1073.1,534 1072.9,536 1072.7,538 1072.5,540 1072.3,542 1072.1,544 1071.9,546 1071.7,548 1071.5,550 1071.3,552 1071.1,554 1070.9,556 1070.7,558 1070.5,560 1070.2,562 1070,564 1069.8,566 1069.5,568 1069.3,570 1069.1,572 1068.8,574 1068.6,576 1068.4,578 1068.1,580 1067.8,582 1067.5,584 1067.3,586 1067,588 1066.7,590 1066.5,592 1066.3,594 1066.1,596 1065.9,598 1065.8,600 1065.7,601.5 1065.7,603 1065.6,604.5 1065.5,606 1065.4,607.5 1065.3,609 1065.2,610.5 1065,612 1064.7,613.5 1064.2,615 1063.6,616.5 1062.9,618 1062.2,619.5 1061.5,621 1060.7,622.5 1059.7,624 1058.7,625.5 1057.6,627 1056.5,628.5 1055.5,630 1054.5,631.5 1053.5,633 1052.6,634.5 1051.7,636 1050.9,637.5 1050,639 1049.2,640.5 1048.3,642 1047.5,643.5 1046.7,645 1045.9,646.5 1045.1,648 1044.3,649.5 1043.5,651 1042.7,652.5 1042,654 1041.3,655.5 1040.6,657 1040,658.5 1039.4,660 1038.9,661.5 1038.4,663 1038,664.5 1037.5,666 1037,667.5 1036.5,669 1035.9,670.5 1035.3,672 1034.6,673.5 1033.9,675 1033.2,676.5 1032.2,678 1031.1,679.5 1029.6,681 1027.7,682.5 1025.6,684 1023.4,685.5 1021.3,687 1018.9,688.5 1016.3,690 1013.7,691.5 1011.3,693 1009.1,694.5 1006.9,696 1004.8,697.5 1002.9,699 1001.3,700.5 1000.2,702 999.2,703.5 998.5,705 998.3,706.5 998.7,708 999.4,709.5 1000.3,711 1001.4,712.5 1002.9,714 1004.9,715.5 1007.3,717 1009.9,718.5 1012.9,720 1016.7,721.5 1020.9,723 1025.2,724.5 1029.2,726 1033.3,727.5 1037.4,729 1041.3,730.5 1045.1,732 1048.9,733.5 1052.3,735 1055,736.5 1057.4,738 1059.6,739.5 1061.5,741 1063.3,742.5 1064.9,744 1066.4,745.5 1067.8,747 1069.2,748.5 1070.5,750 1071.6,751.5 1072.5,753 1073.4,754.5 1074.1,756 1074.8,757.5 1075.4,759 1076,760.5 1076.4,762 1076.8,763.5 1077.1,765 1077.3,766.5 1077.6,768 1077.7,769.5 1078.3,769.5 1078.4,768 1078.7,766.5 1078.9,765 1079.2,763.5 1079.6,762 1080,760.5 1080.6,759 1081.2,757.5 1081.9,756 1082.6,754.5 1083.5,753 1084.4,751.5 1085.5,750 1086.8,748.5 1088.2,747 1089.6,745.5 1091.1,744 1092.7,742.5 1094.5,741 1096.4,739.5 1098.6,738 1101,736.5 1103.7,735 1107.1,733.5 1110.9,732 1114.7,730.5 1118.6,729 1122.7,727.5 1126.8,726 1130.8,724.5 1135.1,723 1139.3,721.5 1143.1,720 1146.1,718.5 1148.7,717 1151.1,715.5 1153.1,714 1154.6,712.5 1155.7,711 1156.6,709.5 1157.3,708 1157.7,706.5 1157.5,705 1156.8,703.5 1155.8,702 1154.7,700.5 1153.1,699 1151.2,697.5 1149.1,696 1146.9,694.5 1144.7,693 1142.3,691.5 1139.7,690 1137.1,688.5 1134.7,687 1132.6,685.5 1130.4,684 1128.3,682.5 1126.4,681 1124.9,679.5 1123.8,678 1122.8,676.5 1122.1,675 1121.4,673.5 1120.7,672 1120.1,670.5 1119.5,669 1119,667.5 1118.5,666 1118,664.5 1117.6,663 1117.1,661.5 1116.6,660 1116,658.5 1115.4,657 1114.7,655.5 1114,654 1113.3,652.5 1112.5,651 1111.7,649.5 1110.9,648 1110.1,646.5 1109.3,645 1108.5,643.5 1107.7,642 1106.8,640.5 1106,639 1105.1,637.5 1104.3,636 1103.4,634.5 1102.5,633 1101.5,631.5 1100.5,630 1099.5,628.5 1098.4,627 1097.3,625.5 1096.3,624 1095.3,622.5 1094.5,621 1093.8,619.5 1093.1,618 1092.4,616.5 1091.8,615 1091.3,613.5 1091,612 1090.8,610.5 1090.7,609 1090.6,607.5 1090.5,606 1090.4,604.5 1090.3,603 1090.3,601.5 1090.2,600 1090.1,598 1089.9,596 1089.7,594 1089.5,592 1089.3,590 1089,588 1088.7,586 1088.5,584 1088.2,582 1087.9,580 1087.6,578 1087.4,576 1087.2,574 1086.9,572 1086.7,570 1086.5,568 1086.2,566 1086,564 1085.8,562 1085.5,560 1085.3,558 1085.1,556 1084.9,554 1084.7,552 1084.5,550 1084.3,548 1084.1,546 1083.9,544 1083.7,542 1083.5,540 1083.3,538 1083.1,536 1082.9,534 1082.8,532 1082.6,530 1082.4,528 1082.3,526 1082.1,524 1081.9,522 1081.7,520 1081.5,518 1081.3,516 1081.1,514 1080.8,512 1080.5,510 1080.2,508 1079.9,506 1079.5,504 1079.1,502 1078.5,500 1078.4,498 1078.4,496 1078.4,494 1078.4,492 1078.4,490 1078.8,488 1079.3,486 1079.3,484 1079.3,482 1079.3,480 1079.3,478 1079.3,476 1079.3,474 1079.3,472 1079.3,470 1079.3,468 1079.3,466 1078.8,464 1078.4,462 1078.4,460 1078.4,458 1078.4,456 1078.4,454 1078.4,452 1078.4,450 1078.4,448 1078.4,446 1078.4,444 1078.4,442 1078.4,440 1078.4,438 1078.4,436 1078.4,434 1078.4,432 1078.4,430 1078.4,428 1078.4,426 1078.4,424 1078.4,422 1078.4,420 1078.4,418 1078.4,416 1078.4,414 1078.4,412 1078.4,410 1078.4,408 1078.4,406 1078.4,404 1078.4,402 1078.4,400 1078.4,398 1078.4,396 1078.4,394 1078.4,392 1078.4,390 1078.4,388 1078.4,386 1078.4,384 1078.4,382 1078.4,380 1078.4,378 1078.4,376 1078.4,374 1078.4,372 1078.4,370 1078.4,368 1078.4,366 1078.4,364 1078.4,362 1078.4,360 1078.4,358 1078.4,356 1078.4,354 1078.4,352 1078.4,350Z" fill="#fff" fill-opacity=".2" stroke="#2e2e2e" stroke-width="2.2" stroke-linejoin="round"/>
<circle cx="339" cy="664.9" r="15" fill="#8B0000"/>
<path d="M397.1,665.1H342.9" stroke="#000" stroke-width="1.7" stroke-dasharray="2.9 5.2 9.1 5" stroke-dashoffset=".9" fill="none"/>
<circle cx="708" cy="661" r="15" fill="#8B0000"/>
<path d="M766.7,661.2H711.9" stroke="#000" stroke-width="1.7" stroke-dasharray="2.9 5.2 9.1 5" stroke-dashoffset=".9" fill="none"/>
<circle cx="1078" cy="670.7" r="15" fill="#8B0000"/>
<path d="M1110.4,670.9H1081.9" stroke="#000" stroke-width="1.7" stroke-dasharray="2.9 5.2 9.1 5" stroke-dashoffset=".9" fill="none"/>
<rect x="397.1" y="642.4" width="180.7" height="45.9" rx="5.5" ry="5.5" fill="#fff" stroke="#000" stroke-width="1.1"/>
<path d="M407.1,657.5L414.6,651.6L422,657.5" fill="none" stroke="#000" stroke-width="1.8" stroke-linejoin="miter"/>
<text class="se" x="408.1" y="673.2" font-size="22.8" stroke="none" style="stroke:none">μ</text>
<text x="420.7" y="678.4" font-size="16">mean</text>
<path d="M465.1,666.5h13.1M465.1,670.5h13.1" stroke="#000" stroke-width="1.15" fill="none"/>
<text x="483" y="673.2" font-size="23.2">5730.98</text>
<rect x="766.7" y="638.4" width="180.3" height="45.1" rx="5.5" ry="5.5" fill="#fff" stroke="#000" stroke-width="1.1"/>
<path d="M776.7,653.5L784.2,647.6L791.6,653.5" fill="none" stroke="#000" stroke-width="1.8" stroke-linejoin="miter"/>
<text class="se" x="777.7" y="669.2" font-size="22.8" stroke="none" style="stroke:none">μ</text>
<text x="790.3" y="674.4" font-size="16">mean</text>
<path d="M834.7,662.5h13.1M834.7,666.5h13.1" stroke="#000" stroke-width="1.15" fill="none"/>
<text x="852.6" y="669.2" font-size="23.2">5827.30</text>
<rect x="1110.4" y="649.4" width="180.4" height="44.8" rx="5.5" ry="5.5" fill="#fff" stroke="#000" stroke-width="1.1"/>
<path d="M1120.4,664.5L1127.9,658.6L1135.3,664.5" fill="none" stroke="#000" stroke-width="1.8" stroke-linejoin="miter"/>
<text class="se" x="1121.4" y="680.2" font-size="22.8" stroke="none" style="stroke:none">μ</text>
<text x="1134" y="685.4" font-size="16">mean</text>
<path d="M1178.4,673.5h13.1M1178.4,677.5h13.1" stroke="#000" stroke-width="1.15" fill="none"/>
<text x="1196.3" y="680.2" font-size="23.2">5586.68</text>
<path d="M339,239V233H708V239" fill="none" stroke="#000" stroke-width="2" shape-rendering="crispEdges"/>
<text x="423.6" y="219.1" font-size="22.8" font-style="italic">p</text>
<text x="438.7" y="224.2" font-size="15.6" style="stroke-width:.2px">Holm–adj.</text>
<path d="M513.7,212.5h13.1M513.7,216.5h13.1" stroke="#000" stroke-width="1.15" fill="none"/>
<text x="531.7" y="219.1" font-size="23.3">9.79e-06</text>
<path d="M339,202V196H1078V202" fill="none" stroke="#000" stroke-width="2" shape-rendering="crispEdges"/>
<text x="608.6" y="182.1" font-size="22.8" font-style="italic">p</text>
<text x="623.7" y="187.2" font-size="15.6" style="stroke-width:.2px">Holm–adj.</text>
<path d="M698.7,175.5h13.1M698.7,179.5h13.1" stroke="#000" stroke-width="1.15" fill="none"/>
<text x="716.7" y="182.1" font-size="22.7">8.52e-11</text>
<path d="M708,165V159H1078V165" fill="none" stroke="#000" stroke-width="2" shape-rendering="crispEdges"/>
<text x="793.3" y="145.1" font-size="22.8" font-style="italic">p</text>
<text x="808.4" y="150.2" font-size="15.6" style="stroke-width:.2px">Holm–adj.</text>
<path d="M883.4,138.5h13.1M883.4,142.5h13.1" stroke="#000" stroke-width="1.15" fill="none"/>
<text x="901.4" y="145.1" font-size="23.3">3.33e-08</text>
<g class="gy" font-size="21.35" fill="#4D4D4D" text-anchor="end">
<text x="105" y="270.9" fill="#4D4D4D">15000</text>
<text x="105" y="488.9" fill="#4D4D4D">10000</text>
<text x="105" y="705.9" fill="#4D4D4D">5000</text>
</g>
<g class="gy" text-anchor="middle">
<text x="339" y="828.8" fill="#4D4D4D" font-size="20.8">3 ROOM</text><text x="339" y="851.8" fill="#4D4D4D" font-size="21.25">(n = 6,345)</text>
<text x="708" y="828.8" fill="#4D4D4D" font-size="21.0">4 ROOM</text><text x="708" y="851.8" fill="#4D4D4D" font-size="21.7">(n = 11,311)</text>
<text x="1078" y="828.8" fill="#4D4D4D" font-size="20.8">5 ROOM</text><text x="1078" y="851.8" fill="#4D4D4D" font-size="21.1">(n = 6,716)</text>
</g>
<text x="708.5" y="882.5" class="b" font-size="28" font-weight="bold" text-anchor="middle">Flat Type</text>
<text transform="translate(34.9,464.8) rotate(-90)" class="b" font-size="27.6" font-weight="bold" text-anchor="middle">Resale Price Per Sqm</text>
<text transform="translate(1308.8,209.6) rotate(90)" font-size="20.95">Pairwise test: <tspan font-weight="bold" class="b">Games-Howell</tspan><tspan dx="-2.5">, Bars shown: </tspan><tspan font-weight="bold" class="b" font-size="21.4">significant</tspan></text>
<text x="117" y="38" class="b" font-size="32.18" font-weight="bold">Comparison of Resale Price per Sqm across Flat Types in 2022</text>
<text x="117.3" y="98" font-size="27.0" font-style="italic">F</text>
<text x="138.6" y="102.5" font-size="18.7">Welch</text>
<text x="191.6" y="98.5" font-size="33" class="se">(</text>
<text x="202.6" y="98" font-size="27.0">2, 14741.35</text>
<text x="345.7" y="98.5" font-size="33" class="se">)</text>
<path d="M362.9,88.5h15M362.9,93.5h15" stroke="#000" stroke-width="1.15" fill="none"/>
<text x="383.4" y="98" font-size="27.0">66.32,</text>
<text x="466.8" y="98" font-size="27.0" font-style="italic">p</text>
<path d="M490,88.5h15M490,93.5h15" stroke="#000" stroke-width="1.15" fill="none"/>
<text x="511.8" y="98" font-size="27.0">2.12e-29,</text>
<text class="se" x="634" y="98.4" font-size="27.5" textLength="17.3" lengthAdjust="spacingAndGlyphs">ω</text>
<text x="652.2" y="83" font-size="19.3">2</text>
<text x="652.1" y="106.8" font-size="18.7">p</text>
<path d="M634.3,62.4L649.5,55.9L664.5,62.4" fill="none" stroke="#000" stroke-width="2.0" stroke-linejoin="miter"/>
<path d="M669.7,88.5h15M669.7,93.5h15" stroke="#000" stroke-width="1.15" fill="none"/>
<text x="690.8" y="98" font-size="27.0">8.78e-03,</text>
<text x="812.9" y="98" font-size="27.0">CI</text>
<text x="840.6" y="102.5" font-size="18.7">95%</text>
<text x="887.2" y="98" font-size="27.0">[6.38e-03, 1.00],</text>
<text x="1092.6" y="98" font-size="27.0" font-style="italic">n</text>
<text x="1111" y="102.5" font-size="18.7">obs</text>
<path d="M1147.8,88.5h15M1147.8,93.5h15" stroke="#000" stroke-width="1.15" fill="none"/>
<text x="1169.6" y="98" font-size="27.0">24,372</text>
<text x="527.3" y="932.4" font-size="21.2">log</text>
<text x="555.6" y="935.8" font-size="14.8">e</text>
<text x="564" y="931.4" font-size="25" class="se">(</text>
<text x="570.3" y="932.4" font-size="21.2">BF</text>
<text x="598" y="935.8" font-size="14.8">01</text>
<text x="614.3" y="931.4" font-size="25" class="se">)</text>
<path d="M629,925.5h12M629,929.5h12" stroke="#000" stroke-width="1.15" fill="none"/>
<text x="646.2" y="932.4" font-size="21.2">-57.59,</text>
<text x="717.6" y="932.4" font-size="21.2" font-style="italic">R</text>
<text x="733.2" y="921.3" font-size="14.8">2</text>
<text x="745.8" y="919.5" font-size="14.8">posterior</text>
<text x="744.2" y="938" font-size="14.8">Bayesian</text>
<path d="M716.7,905.4L730,899.6L744.5,905.4" fill="none" stroke="#000" stroke-width="1.8" stroke-linejoin="miter"/>
<path d="M808.5,925.5h12M808.5,929.5h12" stroke="#000" stroke-width="1.15" fill="none"/>
<text x="825.3" y="932.4" font-size="21.2">5.42e-03,</text>
<text x="920.6" y="932.4" font-size="21.2">CI</text>
<text x="939.9" y="920.1" font-size="14.8">HDI</text>
<text x="940.4" y="938.7" font-size="14.8">95%</text>
<text x="975.2" y="932.4" font-size="21.2">[3.68e-03, 7.35e-03],</text>
<text x="1177.2" y="932.4" font-size="21.2" font-style="italic">r</text>
<text x="1188.6" y="920.8" font-size="14.8">JZS</text>
<text x="1186.2" y="938.7" font-size="14.8">Cauchy</text>
<path d="M1241,925.5h12M1241,929.5h12" stroke="#000" stroke-width="1.15" fill="none"/>
<text x="1257.8" y="932.4" font-size="21.2">0.71</text>
</svg></body></html>
